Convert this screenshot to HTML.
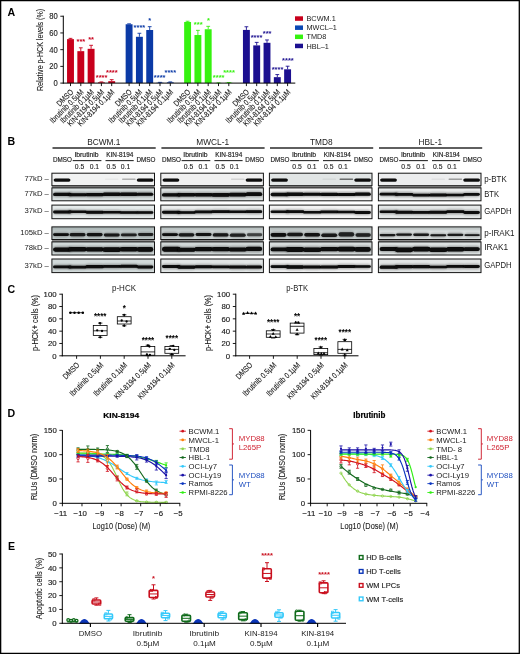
<!DOCTYPE html>
<html lang="en">
<head>
<meta charset="utf-8">
<title>Figure</title>
<style>
html,body{margin:0;padding:0;background:#fff;}
body{width:520px;height:654px;overflow:hidden;position:relative;font-family:"Liberation Sans",sans-serif;}
#fig{position:absolute;left:0;top:0;width:520px;height:654px;display:block;}
#fig text{font-family:"Liberation Sans",sans-serif;}
</style>
</head>
<body>
<svg id="fig" width="520" height="654" viewBox="0 0 520 654" fill="#1a1a1a">
<defs>
<filter id="b1" x="-5%" y="-50%" width="110%" height="200%"><feGaussianBlur stdDeviation="0.45"/></filter>
<filter id="b2" x="-5%" y="-50%" width="110%" height="200%"><feGaussianBlur stdDeviation="0.9"/></filter>
</defs>
<rect x="0" y="0" width="520" height="654" fill="#fff"/>
<g id="panelA">
<text x="7.6" y="15.7" font-size="10.6" fill="#000" font-weight="bold">A</text>
<line x1="70.5" y1="39.13" x2="70.5" y2="38.37" stroke="#c8001c" stroke-width="0.9"/>
<line x1="68.6" y1="38.37" x2="72.4" y2="38.37" stroke="#c8001c" stroke-width="0.9"/>
<rect x="67.05" y="39.13" width="6.9" height="43.97" fill="#c8001c"/>
<line x1="70.5" y1="83.1" x2="70.5" y2="86.1" stroke="#000" stroke-width="0.9"/>
<text transform="translate(73.8 92.6) rotate(-45) scale(0.83 1)" font-size="8" text-anchor="end" stroke="#1a1a1a" stroke-width="0.12">DMSO</text>
<line x1="80.8" y1="51.16" x2="80.8" y2="47.82" stroke="#c8001c" stroke-width="0.9"/>
<line x1="78.9" y1="47.82" x2="82.7" y2="47.82" stroke="#c8001c" stroke-width="0.9"/>
<rect x="77.35" y="51.16" width="6.9" height="31.94" fill="#c8001c"/>
<line x1="80.8" y1="83.1" x2="80.8" y2="86.1" stroke="#000" stroke-width="0.9"/>
<text transform="translate(84.1 92.6) rotate(-45) scale(0.83 1)" font-size="8" text-anchor="end" stroke="#1a1a1a" stroke-width="0.12">Ibrutinib 0.5µM</text>
<line x1="91.1" y1="48.82" x2="91.1" y2="45.31" stroke="#c8001c" stroke-width="0.9"/>
<line x1="89.2" y1="45.31" x2="93" y2="45.31" stroke="#c8001c" stroke-width="0.9"/>
<rect x="87.65" y="48.82" width="6.9" height="34.28" fill="#c8001c"/>
<line x1="91.1" y1="83.1" x2="91.1" y2="86.1" stroke="#000" stroke-width="0.9"/>
<text transform="translate(94.4 92.6) rotate(-45) scale(0.83 1)" font-size="8" text-anchor="end" stroke="#1a1a1a" stroke-width="0.12">Ibrutinib 0.1µM</text>
<line x1="101.4" y1="82.35" x2="101.4" y2="81.93" stroke="#c8001c" stroke-width="0.9"/>
<line x1="99.5" y1="81.93" x2="103.3" y2="81.93" stroke="#c8001c" stroke-width="0.9"/>
<rect x="97.95" y="82.35" width="6.9" height="0.75" fill="#c8001c"/>
<line x1="101.4" y1="83.1" x2="101.4" y2="86.1" stroke="#000" stroke-width="0.9"/>
<text transform="translate(104.7 92.6) rotate(-45) scale(0.83 1)" font-size="8" text-anchor="end" stroke="#1a1a1a" stroke-width="0.12">KIN-8194 0.5µM</text>
<line x1="111.7" y1="81.18" x2="111.7" y2="79.67" stroke="#c8001c" stroke-width="0.9"/>
<line x1="109.8" y1="79.67" x2="113.6" y2="79.67" stroke="#c8001c" stroke-width="0.9"/>
<rect x="108.25" y="81.18" width="6.9" height="1.92" fill="#c8001c"/>
<line x1="111.7" y1="83.1" x2="111.7" y2="86.1" stroke="#000" stroke-width="0.9"/>
<text transform="translate(115 92.6) rotate(-45) scale(0.83 1)" font-size="8" text-anchor="end" stroke="#1a1a1a" stroke-width="0.12">KIN-8194 0.1µM</text>
<text transform="translate(80.9 44.3) scale(0.94 1)" font-size="8" text-anchor="middle" fill="#c8001c" font-weight="bold">***</text>
<text transform="translate(91.1 41.5) scale(0.94 1)" font-size="8" text-anchor="middle" fill="#c8001c" font-weight="bold">**</text>
<text transform="translate(101.6 80.2) scale(0.94 1)" font-size="8" text-anchor="middle" fill="#c8001c" font-weight="bold">****</text>
<text transform="translate(111.8 74.9) scale(0.94 1)" font-size="8" text-anchor="middle" fill="#c8001c" font-weight="bold">****</text>
<line x1="129.1" y1="24.25" x2="129.1" y2="23.83" stroke="#0b3aa6" stroke-width="0.9"/>
<line x1="127.2" y1="23.83" x2="131" y2="23.83" stroke="#0b3aa6" stroke-width="0.9"/>
<rect x="125.65" y="24.25" width="6.9" height="58.85" fill="#0b3aa6"/>
<line x1="129.1" y1="83.1" x2="129.1" y2="86.1" stroke="#000" stroke-width="0.9"/>
<text transform="translate(132.4 92.6) rotate(-45) scale(0.83 1)" font-size="8" text-anchor="end" stroke="#1a1a1a" stroke-width="0.12">DMSO</text>
<line x1="139.4" y1="36.79" x2="139.4" y2="33.27" stroke="#0b3aa6" stroke-width="0.9"/>
<line x1="137.5" y1="33.27" x2="141.3" y2="33.27" stroke="#0b3aa6" stroke-width="0.9"/>
<rect x="135.95" y="36.79" width="6.9" height="46.31" fill="#0b3aa6"/>
<line x1="139.4" y1="83.1" x2="139.4" y2="86.1" stroke="#000" stroke-width="0.9"/>
<text transform="translate(142.7 92.6) rotate(-45) scale(0.83 1)" font-size="8" text-anchor="end" stroke="#1a1a1a" stroke-width="0.12">Ibrutinib 0.5µM</text>
<line x1="149.7" y1="30.01" x2="149.7" y2="26.67" stroke="#0b3aa6" stroke-width="0.9"/>
<line x1="147.8" y1="26.67" x2="151.6" y2="26.67" stroke="#0b3aa6" stroke-width="0.9"/>
<rect x="146.25" y="30.01" width="6.9" height="53.09" fill="#0b3aa6"/>
<line x1="149.7" y1="83.1" x2="149.7" y2="86.1" stroke="#000" stroke-width="0.9"/>
<text transform="translate(153 92.6) rotate(-45) scale(0.83 1)" font-size="8" text-anchor="end" stroke="#1a1a1a" stroke-width="0.12">Ibrutinib 0.1µM</text>
<line x1="160" y1="82.68" x2="160" y2="82.35" stroke="#0b3aa6" stroke-width="0.9"/>
<line x1="158.1" y1="82.35" x2="161.9" y2="82.35" stroke="#0b3aa6" stroke-width="0.9"/>
<rect x="156.55" y="82.68" width="6.9" height="0.42" fill="#0b3aa6"/>
<line x1="160" y1="83.1" x2="160" y2="86.1" stroke="#000" stroke-width="0.9"/>
<text transform="translate(163.3 92.6) rotate(-45) scale(0.83 1)" font-size="8" text-anchor="end" stroke="#1a1a1a" stroke-width="0.12">KIN-8194 0.5µM</text>
<line x1="170.3" y1="82.35" x2="170.3" y2="81.93" stroke="#0b3aa6" stroke-width="0.9"/>
<line x1="168.4" y1="81.93" x2="172.2" y2="81.93" stroke="#0b3aa6" stroke-width="0.9"/>
<rect x="166.85" y="82.35" width="6.9" height="0.75" fill="#0b3aa6"/>
<line x1="170.3" y1="83.1" x2="170.3" y2="86.1" stroke="#000" stroke-width="0.9"/>
<text transform="translate(173.6 92.6) rotate(-45) scale(0.83 1)" font-size="8" text-anchor="end" stroke="#1a1a1a" stroke-width="0.12">KIN-8194 0.1µM</text>
<text transform="translate(139.4 30) scale(0.94 1)" font-size="8" text-anchor="middle" fill="#0b3aa6" font-weight="bold">****</text>
<text transform="translate(149.8 23.4) scale(0.94 1)" font-size="8" text-anchor="middle" fill="#0b3aa6" font-weight="bold">*</text>
<text transform="translate(159.7 80.2) scale(0.94 1)" font-size="8" text-anchor="middle" fill="#0b3aa6" font-weight="bold">****</text>
<text transform="translate(170.3 74.9) scale(0.94 1)" font-size="8" text-anchor="middle" fill="#0b3aa6" font-weight="bold">****</text>
<line x1="187.6" y1="21.99" x2="187.6" y2="21.24" stroke="#35f20f" stroke-width="0.9"/>
<line x1="185.7" y1="21.24" x2="189.5" y2="21.24" stroke="#35f20f" stroke-width="0.9"/>
<rect x="184.15" y="21.99" width="6.9" height="61.11" fill="#35f20f"/>
<line x1="187.6" y1="83.1" x2="187.6" y2="86.1" stroke="#000" stroke-width="0.9"/>
<text transform="translate(190.9 92.6) rotate(-45) scale(0.83 1)" font-size="8" text-anchor="end" stroke="#1a1a1a" stroke-width="0.12">DMSO</text>
<line x1="197.9" y1="35.03" x2="197.9" y2="30.35" stroke="#35f20f" stroke-width="0.9"/>
<line x1="196" y1="30.35" x2="199.8" y2="30.35" stroke="#35f20f" stroke-width="0.9"/>
<rect x="194.45" y="35.03" width="6.9" height="48.07" fill="#35f20f"/>
<line x1="197.9" y1="83.1" x2="197.9" y2="86.1" stroke="#000" stroke-width="0.9"/>
<text transform="translate(201.2 92.6) rotate(-45) scale(0.83 1)" font-size="8" text-anchor="end" stroke="#1a1a1a" stroke-width="0.12">Ibrutinib 0.5µM</text>
<line x1="208.2" y1="29.26" x2="208.2" y2="26.34" stroke="#35f20f" stroke-width="0.9"/>
<line x1="206.3" y1="26.34" x2="210.1" y2="26.34" stroke="#35f20f" stroke-width="0.9"/>
<rect x="204.75" y="29.26" width="6.9" height="53.84" fill="#35f20f"/>
<line x1="208.2" y1="83.1" x2="208.2" y2="86.1" stroke="#000" stroke-width="0.9"/>
<text transform="translate(211.5 92.6) rotate(-45) scale(0.83 1)" font-size="8" text-anchor="end" stroke="#1a1a1a" stroke-width="0.12">Ibrutinib 0.1µM</text>
<line x1="218.5" y1="82.93" x2="218.5" y2="82.85" stroke="#35f20f" stroke-width="0.9"/>
<line x1="216.6" y1="82.85" x2="220.4" y2="82.85" stroke="#35f20f" stroke-width="0.9"/>
<rect x="215.05" y="82.93" width="6.9" height="0.17" fill="#35f20f"/>
<line x1="218.5" y1="83.1" x2="218.5" y2="86.1" stroke="#000" stroke-width="0.9"/>
<text transform="translate(221.8 92.6) rotate(-45) scale(0.83 1)" font-size="8" text-anchor="end" stroke="#1a1a1a" stroke-width="0.12">KIN-8194 0.5µM</text>
<line x1="228.8" y1="82.68" x2="228.8" y2="82.51" stroke="#35f20f" stroke-width="0.9"/>
<line x1="226.9" y1="82.51" x2="230.7" y2="82.51" stroke="#35f20f" stroke-width="0.9"/>
<rect x="225.35" y="82.68" width="6.9" height="0.42" fill="#35f20f"/>
<line x1="228.8" y1="83.1" x2="228.8" y2="86.1" stroke="#000" stroke-width="0.9"/>
<text transform="translate(232.1 92.6) rotate(-45) scale(0.83 1)" font-size="8" text-anchor="end" stroke="#1a1a1a" stroke-width="0.12">KIN-8194 0.1µM</text>
<text transform="translate(198.2 27.1) scale(0.94 1)" font-size="8" text-anchor="middle" fill="#35f20f" font-weight="bold">***</text>
<text transform="translate(208.4 23.4) scale(0.94 1)" font-size="8" text-anchor="middle" fill="#35f20f" font-weight="bold">*</text>
<text transform="translate(218.7 80.2) scale(0.94 1)" font-size="8" text-anchor="middle" fill="#35f20f" font-weight="bold">****</text>
<text transform="translate(229 74.9) scale(0.94 1)" font-size="8" text-anchor="middle" fill="#35f20f" font-weight="bold">****</text>
<line x1="246.4" y1="29.93" x2="246.4" y2="26.75" stroke="#1c1090" stroke-width="0.9"/>
<line x1="244.5" y1="26.75" x2="248.3" y2="26.75" stroke="#1c1090" stroke-width="0.9"/>
<rect x="242.95" y="29.93" width="6.9" height="53.17" fill="#1c1090"/>
<line x1="246.4" y1="83.1" x2="246.4" y2="86.1" stroke="#000" stroke-width="0.9"/>
<text transform="translate(249.7 92.6) rotate(-45) scale(0.83 1)" font-size="8" text-anchor="end" stroke="#1a1a1a" stroke-width="0.12">DMSO</text>
<line x1="256.7" y1="45.4" x2="256.7" y2="42.39" stroke="#1c1090" stroke-width="0.9"/>
<line x1="254.8" y1="42.39" x2="258.6" y2="42.39" stroke="#1c1090" stroke-width="0.9"/>
<rect x="253.25" y="45.4" width="6.9" height="37.7" fill="#1c1090"/>
<line x1="256.7" y1="83.1" x2="256.7" y2="86.1" stroke="#000" stroke-width="0.9"/>
<text transform="translate(260 92.6) rotate(-45) scale(0.83 1)" font-size="8" text-anchor="end" stroke="#1a1a1a" stroke-width="0.12">Ibrutinib 0.5µM</text>
<line x1="267" y1="42.8" x2="267" y2="39.96" stroke="#1c1090" stroke-width="0.9"/>
<line x1="265.1" y1="39.96" x2="268.9" y2="39.96" stroke="#1c1090" stroke-width="0.9"/>
<rect x="263.55" y="42.8" width="6.9" height="40.3" fill="#1c1090"/>
<line x1="267" y1="83.1" x2="267" y2="86.1" stroke="#000" stroke-width="0.9"/>
<text transform="translate(270.3 92.6) rotate(-45) scale(0.83 1)" font-size="8" text-anchor="end" stroke="#1a1a1a" stroke-width="0.12">Ibrutinib 0.1µM</text>
<line x1="277.3" y1="77.16" x2="277.3" y2="74.57" stroke="#1c1090" stroke-width="0.9"/>
<line x1="275.4" y1="74.57" x2="279.2" y2="74.57" stroke="#1c1090" stroke-width="0.9"/>
<rect x="273.85" y="77.16" width="6.9" height="5.94" fill="#1c1090"/>
<line x1="277.3" y1="83.1" x2="277.3" y2="86.1" stroke="#000" stroke-width="0.9"/>
<text transform="translate(280.6 92.6) rotate(-45) scale(0.83 1)" font-size="8" text-anchor="end" stroke="#1a1a1a" stroke-width="0.12">KIN-8194 0.5µM</text>
<line x1="287.6" y1="69.31" x2="287.6" y2="66.21" stroke="#1c1090" stroke-width="0.9"/>
<line x1="285.7" y1="66.21" x2="289.5" y2="66.21" stroke="#1c1090" stroke-width="0.9"/>
<rect x="284.15" y="69.31" width="6.9" height="13.79" fill="#1c1090"/>
<line x1="287.6" y1="83.1" x2="287.6" y2="86.1" stroke="#000" stroke-width="0.9"/>
<text transform="translate(290.9 92.6) rotate(-45) scale(0.83 1)" font-size="8" text-anchor="end" stroke="#1a1a1a" stroke-width="0.12">KIN-8194 0.1µM</text>
<text transform="translate(256.5 40.1) scale(0.94 1)" font-size="8" text-anchor="middle" fill="#1c1090" font-weight="bold">****</text>
<text transform="translate(267.1 35.8) scale(0.94 1)" font-size="8" text-anchor="middle" fill="#1c1090" font-weight="bold">***</text>
<text transform="translate(277.5 71.8) scale(0.94 1)" font-size="8" text-anchor="middle" fill="#1c1090" font-weight="bold">****</text>
<text transform="translate(287.9 63) scale(0.94 1)" font-size="8" text-anchor="middle" fill="#1c1090" font-weight="bold">****</text>
<line x1="63.3" y1="15.7" x2="63.3" y2="83.55" stroke="#000" stroke-width="1"/>
<line x1="62.8" y1="83.1" x2="295.3" y2="83.1" stroke="#000" stroke-width="1"/>
<line x1="60.3" y1="83.1" x2="63.3" y2="83.1" stroke="#000" stroke-width="0.9"/>
<text transform="translate(57.7 86.05) scale(0.93 1)" font-size="8.2" text-anchor="end" stroke="#1a1a1a" stroke-width="0.12">0</text>
<line x1="60.3" y1="66.38" x2="63.3" y2="66.38" stroke="#000" stroke-width="0.9"/>
<text transform="translate(57.7 69.33) scale(0.93 1)" font-size="8.2" text-anchor="end" stroke="#1a1a1a" stroke-width="0.12">20</text>
<line x1="60.3" y1="49.66" x2="63.3" y2="49.66" stroke="#000" stroke-width="0.9"/>
<text transform="translate(57.7 52.61) scale(0.93 1)" font-size="8.2" text-anchor="end" stroke="#1a1a1a" stroke-width="0.12">40</text>
<line x1="60.3" y1="32.94" x2="63.3" y2="32.94" stroke="#000" stroke-width="0.9"/>
<text transform="translate(57.7 35.89) scale(0.93 1)" font-size="8.2" text-anchor="end" stroke="#1a1a1a" stroke-width="0.12">60</text>
<line x1="60.3" y1="16.22" x2="63.3" y2="16.22" stroke="#000" stroke-width="0.9"/>
<text transform="translate(57.7 19.17) scale(0.93 1)" font-size="8.2" text-anchor="end" stroke="#1a1a1a" stroke-width="0.12">80</text>
<text transform="translate(42.8 50) rotate(-90) scale(0.75 1)" font-size="9.5" text-anchor="middle" stroke="#1a1a1a" stroke-width="0.1">Relative p-HCK levels (%)</text>
<rect x="295" y="16.3" width="8" height="4.5" fill="#c8001c"/>
<text x="306.5" y="21.15" font-size="7.3">BCWM.1</text>
<rect x="295" y="25.43" width="8" height="4.5" fill="#0a48b4"/>
<text x="306.5" y="30.28" font-size="7.3">MWCL–1</text>
<rect x="295" y="34.56" width="8" height="4.5" fill="#35f20f"/>
<text x="306.5" y="39.41" font-size="7.3">TMD8</text>
<rect x="295" y="43.69" width="8" height="4.5" fill="#1c1090"/>
<text x="306.5" y="48.54" font-size="7.3">HBL–1</text>
</g>
<g id="panelB">
<text x="7.4" y="144.9" font-size="10.6" fill="#000" font-weight="bold">B</text>
<text x="48.9" y="181.45" font-size="7.7" text-anchor="end">77kD –</text>
<text x="48.9" y="195.85" font-size="7.7" text-anchor="end">77kD –</text>
<text x="48.9" y="213.35" font-size="7.7" text-anchor="end">37kD –</text>
<text x="48.9" y="235.25" font-size="7.7" text-anchor="end">105kD –</text>
<text x="48.9" y="249.95" font-size="7.7" text-anchor="end">78kD –</text>
<text x="48.9" y="268.05" font-size="7.7" text-anchor="end">37kD –</text>
<text transform="translate(484.2 181.85) scale(0.97 1)" font-size="8.2">p-BTK</text>
<text transform="translate(484.2 196.85) scale(0.93 1)" font-size="8.2">BTK</text>
<text transform="translate(484.2 213.65) scale(0.94 1)" font-size="8.2">GAPDH</text>
<text transform="translate(484.2 235.85) scale(0.98 1)" font-size="8.2">p-IRAK1</text>
<text transform="translate(484.2 249.65) scale(1.01 1)" font-size="8.2">IRAK1</text>
<text transform="translate(484.2 267.55) scale(0.94 1)" font-size="8.2">GAPDH</text>
<text x="103.8" y="145" font-size="8.3" text-anchor="middle">BCWM.1</text>
<line x1="52.5" y1="148" x2="155.7" y2="148" stroke="#2a2a2a" stroke-width="1.3"/>
<text x="62.5" y="162.3" font-size="6.3" text-anchor="middle" stroke="#1a1a1a" stroke-width="0.15">DMSO</text>
<text x="145.9" y="162.3" font-size="6.3" text-anchor="middle" stroke="#1a1a1a" stroke-width="0.15">DMSO</text>
<text transform="translate(86.5 156.9) scale(1.08 1)" font-size="6.3" text-anchor="middle" stroke="#1a1a1a" stroke-width="0.15">Ibrutinib</text>
<text transform="translate(119.8 156.9) scale(1.02 1)" font-size="6.3" text-anchor="middle" stroke="#1a1a1a" stroke-width="0.15">KIN-8194</text>
<line x1="72.7" y1="160.6" x2="101.4" y2="160.6" stroke="#2a2a2a" stroke-width="1.1"/>
<line x1="105.5" y1="160.6" x2="133.7" y2="160.6" stroke="#2a2a2a" stroke-width="1.1"/>
<text x="79.6" y="168.6" font-size="6.8" text-anchor="middle" stroke="#1a1a1a" stroke-width="0.1">0.5</text>
<text x="94.4" y="168.6" font-size="6.8" text-anchor="middle" stroke="#1a1a1a" stroke-width="0.1">0.1</text>
<text x="111.3" y="168.6" font-size="6.8" text-anchor="middle" stroke="#1a1a1a" stroke-width="0.1">0.5</text>
<text x="125.5" y="168.6" font-size="6.8" text-anchor="middle" stroke="#1a1a1a" stroke-width="0.1">0.1</text>
<rect x="51.9" y="185.2" width="102.6" height="3.2" fill="#8a8a8a"/>
<rect x="51.9" y="239" width="102.6" height="3.4" fill="#8a8a8a"/>
<rect x="51.9" y="173.2" width="102.6" height="12.5" fill="#f1f2f2"/>
<rect x="53.67" y="178.4" width="16.76" height="3.4" rx="1.7" fill="#0a0a0a" opacity="1" filter="url(#b1)"/>
<rect x="104.91" y="178.6" width="13.68" height="1.4" rx="0.7" fill="#0a0a0a" opacity="0.04" filter="url(#b1)"/>
<rect x="122.01" y="178.6" width="13.68" height="1.4" rx="0.7" fill="#0a0a0a" opacity="0.28" filter="url(#b1)"/>
<rect x="136.77" y="178.4" width="16.76" height="3.4" rx="1.7" fill="#0a0a0a" opacity="1" filter="url(#b1)"/>
<rect x="51.9" y="173.2" width="102.6" height="12.5" fill="none" stroke="#141414" stroke-width="1"/>
<rect x="51.9" y="187.9" width="102.6" height="12.9" fill="#d8dfdf"/>
<rect x="53.1" y="192.04" width="18.47" height="4.8" rx="2.4" fill="#101010" opacity="0.4" filter="url(#b2)"/>
<rect x="53.1" y="192.84" width="18.47" height="3.2" rx="1.6" fill="#080808" opacity="1" filter="url(#b1)"/>
<rect x="68.32" y="192.37" width="18.47" height="4.73" rx="2.36" fill="#101010" opacity="0.4" filter="url(#b2)"/>
<rect x="68.32" y="193.17" width="18.47" height="3.13" rx="1.56" fill="#080808" opacity="1" filter="url(#b1)"/>
<rect x="85.42" y="192.14" width="18.47" height="4.99" rx="2.49" fill="#101010" opacity="0.4" filter="url(#b2)"/>
<rect x="85.42" y="192.94" width="18.47" height="3.39" rx="1.69" fill="#080808" opacity="1" filter="url(#b1)"/>
<rect x="102.52" y="191.64" width="18.47" height="5.12" rx="2.56" fill="#101010" opacity="0.4" filter="url(#b2)"/>
<rect x="102.52" y="192.44" width="18.47" height="3.52" rx="1.76" fill="#080808" opacity="1" filter="url(#b1)"/>
<rect x="119.62" y="191.66" width="18.47" height="5.05" rx="2.53" fill="#101010" opacity="0.4" filter="url(#b2)"/>
<rect x="119.62" y="192.46" width="18.47" height="3.45" rx="1.73" fill="#080808" opacity="1" filter="url(#b1)"/>
<rect x="136.72" y="191.84" width="16.58" height="4.74" rx="2.37" fill="#101010" opacity="0.4" filter="url(#b2)"/>
<rect x="136.72" y="192.64" width="16.58" height="3.14" rx="1.57" fill="#080808" opacity="1" filter="url(#b1)"/>
<rect x="51.9" y="187.9" width="102.6" height="12.9" fill="none" stroke="#141414" stroke-width="1"/>
<rect x="51.9" y="205.1" width="102.6" height="13.6" fill="#e6ebeb"/>
<rect x="53.1" y="209.81" width="18.47" height="4.45" rx="2.23" fill="#101010" opacity="0.4" filter="url(#b2)"/>
<rect x="53.1" y="210.61" width="18.47" height="2.85" rx="1.43" fill="#080808" opacity="1" filter="url(#b1)"/>
<rect x="68.32" y="209.74" width="18.47" height="4.05" rx="2.02" fill="#101010" opacity="0.4" filter="url(#b2)"/>
<rect x="68.32" y="210.54" width="18.47" height="2.45" rx="1.22" fill="#080808" opacity="1" filter="url(#b1)"/>
<rect x="85.42" y="209.95" width="18.47" height="4.53" rx="2.27" fill="#101010" opacity="0.4" filter="url(#b2)"/>
<rect x="85.42" y="210.75" width="18.47" height="2.93" rx="1.47" fill="#080808" opacity="1" filter="url(#b1)"/>
<rect x="102.52" y="210.09" width="18.47" height="4.16" rx="2.08" fill="#101010" opacity="0.4" filter="url(#b2)"/>
<rect x="102.52" y="210.89" width="18.47" height="2.56" rx="1.28" fill="#080808" opacity="1" filter="url(#b1)"/>
<rect x="119.62" y="210.57" width="18.47" height="3.93" rx="1.96" fill="#101010" opacity="0.4" filter="url(#b2)"/>
<rect x="119.62" y="211.37" width="18.47" height="2.33" rx="1.16" fill="#080808" opacity="1" filter="url(#b1)"/>
<rect x="136.72" y="210.38" width="16.58" height="4.09" rx="2.05" fill="#101010" opacity="0.4" filter="url(#b2)"/>
<rect x="136.72" y="211.18" width="16.58" height="2.49" rx="1.25" fill="#080808" opacity="1" filter="url(#b1)"/>
<rect x="51.9" y="205.1" width="102.6" height="13.6" fill="none" stroke="#141414" stroke-width="1"/>
<rect x="51.9" y="226.9" width="102.6" height="12.6" fill="#c2cccc"/>
<rect x="51.9" y="226.9" width="102.6" height="3" fill="#7a8686" opacity="0.35" filter="url(#b2)"/>
<rect x="53.1" y="232.42" width="15.9" height="4.33" rx="2.16" fill="#101010" opacity="0.39" filter="url(#b2)"/>
<rect x="53.1" y="233.22" width="15.9" height="2.73" rx="1.36" fill="#080808" opacity="0.98" filter="url(#b1)"/>
<rect x="69.6" y="232.29" width="15.9" height="4.87" rx="2.43" fill="#101010" opacity="0.36" filter="url(#b2)"/>
<rect x="69.6" y="233.09" width="15.9" height="3.27" rx="1.63" fill="#080808" opacity="0.9" filter="url(#b1)"/>
<rect x="86.7" y="232.27" width="15.9" height="4.69" rx="2.34" fill="#101010" opacity="0.38" filter="url(#b2)"/>
<rect x="86.7" y="233.07" width="15.9" height="3.09" rx="1.54" fill="#080808" opacity="0.95" filter="url(#b1)"/>
<rect x="103.8" y="232.76" width="15.9" height="4.52" rx="2.26" fill="#101010" opacity="0.36" filter="url(#b2)"/>
<rect x="103.8" y="233.56" width="15.9" height="2.92" rx="1.46" fill="#080808" opacity="0.9" filter="url(#b1)"/>
<rect x="120.9" y="232.8" width="15.9" height="4.28" rx="2.14" fill="#101010" opacity="0.34" filter="url(#b2)"/>
<rect x="120.9" y="233.6" width="15.9" height="2.68" rx="1.34" fill="#080808" opacity="0.85" filter="url(#b1)"/>
<rect x="138" y="232.31" width="15.3" height="4.39" rx="2.2" fill="#101010" opacity="0.34" filter="url(#b2)"/>
<rect x="138" y="233.11" width="15.3" height="2.79" rx="1.4" fill="#080808" opacity="0.85" filter="url(#b1)"/>
<rect x="51.9" y="226.9" width="102.6" height="12.6" fill="none" stroke="#141414" stroke-width="1"/>
<rect x="51.9" y="241.9" width="102.6" height="13.1" fill="#d2dada"/>
<rect x="53.1" y="246.61" width="18.47" height="5.91" rx="2.95" fill="#101010" opacity="0.4" filter="url(#b2)"/>
<rect x="53.1" y="247.41" width="18.47" height="4.31" rx="2.15" fill="#080808" opacity="1" filter="url(#b1)"/>
<rect x="68.32" y="246.19" width="18.47" height="6.08" rx="3.04" fill="#101010" opacity="0.4" filter="url(#b2)"/>
<rect x="68.32" y="246.99" width="18.47" height="4.48" rx="2.24" fill="#080808" opacity="1" filter="url(#b1)"/>
<rect x="85.42" y="246.48" width="18.47" height="5.76" rx="2.88" fill="#101010" opacity="0.4" filter="url(#b2)"/>
<rect x="85.42" y="247.28" width="18.47" height="4.16" rx="2.08" fill="#080808" opacity="1" filter="url(#b1)"/>
<rect x="102.52" y="246.56" width="18.47" height="6.21" rx="3.11" fill="#101010" opacity="0.4" filter="url(#b2)"/>
<rect x="102.52" y="247.36" width="18.47" height="4.61" rx="2.31" fill="#080808" opacity="1" filter="url(#b1)"/>
<rect x="119.62" y="246.13" width="18.47" height="6.07" rx="3.04" fill="#101010" opacity="0.4" filter="url(#b2)"/>
<rect x="119.62" y="246.93" width="18.47" height="4.47" rx="2.24" fill="#080808" opacity="1" filter="url(#b1)"/>
<rect x="136.72" y="246.22" width="16.58" height="6.41" rx="3.2" fill="#101010" opacity="0.4" filter="url(#b2)"/>
<rect x="136.72" y="247.02" width="16.58" height="4.81" rx="2.4" fill="#080808" opacity="1" filter="url(#b1)"/>
<rect x="51.9" y="241.9" width="102.6" height="13.1" fill="none" stroke="#141414" stroke-width="1"/>
<rect x="51.9" y="259" width="102.6" height="13.6" fill="#d2dada"/>
<rect x="53.1" y="264.72" width="18.47" height="4.37" rx="2.18" fill="#101010" opacity="0.4" filter="url(#b2)"/>
<rect x="53.1" y="265.52" width="18.47" height="2.77" rx="1.38" fill="#080808" opacity="1" filter="url(#b1)"/>
<rect x="68.32" y="265.01" width="18.47" height="4.24" rx="2.12" fill="#101010" opacity="0.4" filter="url(#b2)"/>
<rect x="68.32" y="265.81" width="18.47" height="2.64" rx="1.32" fill="#080808" opacity="1" filter="url(#b1)"/>
<rect x="85.42" y="264.27" width="18.47" height="4.72" rx="2.36" fill="#101010" opacity="0.4" filter="url(#b2)"/>
<rect x="85.42" y="265.07" width="18.47" height="3.12" rx="1.56" fill="#080808" opacity="1" filter="url(#b1)"/>
<rect x="102.52" y="264.13" width="18.47" height="4.52" rx="2.26" fill="#101010" opacity="0.4" filter="url(#b2)"/>
<rect x="102.52" y="264.93" width="18.47" height="2.92" rx="1.46" fill="#080808" opacity="1" filter="url(#b1)"/>
<rect x="119.62" y="263.96" width="18.47" height="4.65" rx="2.33" fill="#101010" opacity="0.4" filter="url(#b2)"/>
<rect x="119.62" y="264.76" width="18.47" height="3.05" rx="1.53" fill="#080808" opacity="1" filter="url(#b1)"/>
<rect x="136.72" y="264.65" width="16.58" height="4.58" rx="2.29" fill="#101010" opacity="0.4" filter="url(#b2)"/>
<rect x="136.72" y="265.45" width="16.58" height="2.98" rx="1.49" fill="#080808" opacity="1" filter="url(#b1)"/>
<rect x="51.9" y="259" width="102.6" height="13.6" fill="none" stroke="#141414" stroke-width="1"/>
<text x="212.7" y="145" font-size="8.3" text-anchor="middle">MWCL-1</text>
<line x1="161.4" y1="148" x2="264.6" y2="148" stroke="#2a2a2a" stroke-width="1.3"/>
<text x="171.4" y="162.3" font-size="6.3" text-anchor="middle" stroke="#1a1a1a" stroke-width="0.15">DMSO</text>
<text x="254.8" y="162.3" font-size="6.3" text-anchor="middle" stroke="#1a1a1a" stroke-width="0.15">DMSO</text>
<text transform="translate(195.4 156.9) scale(1.08 1)" font-size="6.3" text-anchor="middle" stroke="#1a1a1a" stroke-width="0.15">Ibrutinib</text>
<text transform="translate(228.7 156.9) scale(1.02 1)" font-size="6.3" text-anchor="middle" stroke="#1a1a1a" stroke-width="0.15">KIN-8194</text>
<line x1="181.6" y1="160.6" x2="210.3" y2="160.6" stroke="#2a2a2a" stroke-width="1.1"/>
<line x1="214.4" y1="160.6" x2="242.6" y2="160.6" stroke="#2a2a2a" stroke-width="1.1"/>
<text x="188.5" y="168.6" font-size="6.8" text-anchor="middle" stroke="#1a1a1a" stroke-width="0.1">0.5</text>
<text x="203.3" y="168.6" font-size="6.8" text-anchor="middle" stroke="#1a1a1a" stroke-width="0.1">0.1</text>
<text x="220.2" y="168.6" font-size="6.8" text-anchor="middle" stroke="#1a1a1a" stroke-width="0.1">0.5</text>
<text x="234.4" y="168.6" font-size="6.8" text-anchor="middle" stroke="#1a1a1a" stroke-width="0.1">0.1</text>
<rect x="160.8" y="185.2" width="102.6" height="3.2" fill="#8a8a8a"/>
<rect x="160.8" y="239" width="102.6" height="3.4" fill="#8a8a8a"/>
<rect x="160.8" y="173.2" width="102.6" height="12.5" fill="#f0f0f0"/>
<rect x="162.57" y="178.4" width="16.76" height="3.4" rx="1.7" fill="#0a0a0a" opacity="1" filter="url(#b1)"/>
<rect x="230.91" y="178.6" width="13.68" height="1.4" rx="0.7" fill="#0a0a0a" opacity="0.12" filter="url(#b1)"/>
<rect x="245.67" y="178.4" width="16.76" height="3.4" rx="1.7" fill="#0a0a0a" opacity="1" filter="url(#b1)"/>
<rect x="160.8" y="173.2" width="102.6" height="12.5" fill="none" stroke="#141414" stroke-width="1"/>
<rect x="160.8" y="187.9" width="102.6" height="12.9" fill="#dbe0e0"/>
<rect x="162" y="192.47" width="18.47" height="4.94" rx="2.47" fill="#101010" opacity="0.4" filter="url(#b2)"/>
<rect x="162" y="193.27" width="18.47" height="3.34" rx="1.67" fill="#080808" opacity="1" filter="url(#b1)"/>
<rect x="177.22" y="192.18" width="18.47" height="5.19" rx="2.6" fill="#101010" opacity="0.4" filter="url(#b2)"/>
<rect x="177.22" y="192.98" width="18.47" height="3.59" rx="1.8" fill="#080808" opacity="1" filter="url(#b1)"/>
<rect x="194.32" y="192.14" width="18.47" height="5.07" rx="2.54" fill="#101010" opacity="0.4" filter="url(#b2)"/>
<rect x="194.32" y="192.94" width="18.47" height="3.47" rx="1.74" fill="#080808" opacity="1" filter="url(#b1)"/>
<rect x="211.42" y="192.15" width="18.47" height="5.51" rx="2.76" fill="#101010" opacity="0.4" filter="url(#b2)"/>
<rect x="211.42" y="192.95" width="18.47" height="3.91" rx="1.96" fill="#080808" opacity="1" filter="url(#b1)"/>
<rect x="228.52" y="191.95" width="18.47" height="5.26" rx="2.63" fill="#101010" opacity="0.4" filter="url(#b2)"/>
<rect x="228.52" y="192.75" width="18.47" height="3.66" rx="1.83" fill="#080808" opacity="1" filter="url(#b1)"/>
<rect x="245.62" y="191.56" width="16.58" height="5.29" rx="2.65" fill="#101010" opacity="0.4" filter="url(#b2)"/>
<rect x="245.62" y="192.36" width="16.58" height="3.69" rx="1.85" fill="#080808" opacity="1" filter="url(#b1)"/>
<rect x="160.8" y="187.9" width="102.6" height="12.9" fill="none" stroke="#141414" stroke-width="1"/>
<rect x="160.8" y="205.1" width="102.6" height="13.6" fill="#eceeee"/>
<rect x="162" y="209.95" width="18.47" height="4.57" rx="2.28" fill="#101010" opacity="0.4" filter="url(#b2)"/>
<rect x="162" y="210.75" width="18.47" height="2.97" rx="1.48" fill="#080808" opacity="1" filter="url(#b1)"/>
<rect x="177.22" y="210.35" width="18.47" height="4.09" rx="2.04" fill="#101010" opacity="0.4" filter="url(#b2)"/>
<rect x="177.22" y="211.15" width="18.47" height="2.49" rx="1.24" fill="#080808" opacity="1" filter="url(#b1)"/>
<rect x="194.32" y="209.82" width="18.47" height="4.35" rx="2.17" fill="#101010" opacity="0.4" filter="url(#b2)"/>
<rect x="194.32" y="210.62" width="18.47" height="2.75" rx="1.37" fill="#080808" opacity="1" filter="url(#b1)"/>
<rect x="211.42" y="209.57" width="18.47" height="4.21" rx="2.1" fill="#101010" opacity="0.4" filter="url(#b2)"/>
<rect x="211.42" y="210.37" width="18.47" height="2.61" rx="1.3" fill="#080808" opacity="1" filter="url(#b1)"/>
<rect x="228.52" y="209.81" width="18.47" height="3.97" rx="1.99" fill="#101010" opacity="0.4" filter="url(#b2)"/>
<rect x="228.52" y="210.61" width="18.47" height="2.37" rx="1.19" fill="#080808" opacity="1" filter="url(#b1)"/>
<rect x="245.62" y="209.5" width="16.58" height="4.41" rx="2.21" fill="#101010" opacity="0.4" filter="url(#b2)"/>
<rect x="245.62" y="210.3" width="16.58" height="2.81" rx="1.41" fill="#080808" opacity="1" filter="url(#b1)"/>
<rect x="160.8" y="205.1" width="102.6" height="13.6" fill="none" stroke="#141414" stroke-width="1"/>
<rect x="160.8" y="226.9" width="102.6" height="12.6" fill="#d0d7d7"/>
<rect x="160.8" y="226.9" width="102.6" height="3" fill="#7a8686" opacity="0.35" filter="url(#b2)"/>
<rect x="162" y="232.35" width="15.9" height="4.43" rx="2.21" fill="#101010" opacity="0.39" filter="url(#b2)"/>
<rect x="162" y="233.15" width="15.9" height="2.83" rx="1.41" fill="#080808" opacity="0.98" filter="url(#b1)"/>
<rect x="178.5" y="232.35" width="15.9" height="4.91" rx="2.46" fill="#101010" opacity="0.36" filter="url(#b2)"/>
<rect x="178.5" y="233.15" width="15.9" height="3.31" rx="1.66" fill="#080808" opacity="0.9" filter="url(#b1)"/>
<rect x="195.6" y="232.23" width="15.9" height="4.58" rx="2.29" fill="#101010" opacity="0.38" filter="url(#b2)"/>
<rect x="195.6" y="233.03" width="15.9" height="2.98" rx="1.49" fill="#080808" opacity="0.95" filter="url(#b1)"/>
<rect x="212.7" y="232.48" width="15.9" height="4.92" rx="2.46" fill="#101010" opacity="0.36" filter="url(#b2)"/>
<rect x="212.7" y="233.28" width="15.9" height="3.32" rx="1.66" fill="#080808" opacity="0.9" filter="url(#b1)"/>
<rect x="229.8" y="232.74" width="15.9" height="4.9" rx="2.45" fill="#101010" opacity="0.34" filter="url(#b2)"/>
<rect x="229.8" y="233.54" width="15.9" height="3.3" rx="1.65" fill="#080808" opacity="0.85" filter="url(#b1)"/>
<rect x="246.9" y="232.42" width="15.3" height="4.56" rx="2.28" fill="#101010" opacity="0.26" filter="url(#b2)"/>
<rect x="246.9" y="233.22" width="15.3" height="2.96" rx="1.48" fill="#080808" opacity="0.65" filter="url(#b1)"/>
<rect x="160.8" y="226.9" width="102.6" height="12.6" fill="none" stroke="#141414" stroke-width="1"/>
<rect x="160.8" y="241.9" width="102.6" height="13.1" fill="#d2d8d8"/>
<rect x="162" y="246.06" width="18.47" height="6.42" rx="3.21" fill="#101010" opacity="0.4" filter="url(#b2)"/>
<rect x="162" y="246.86" width="18.47" height="4.82" rx="2.41" fill="#080808" opacity="1" filter="url(#b1)"/>
<rect x="177.22" y="247.01" width="18.47" height="5.59" rx="2.8" fill="#101010" opacity="0.4" filter="url(#b2)"/>
<rect x="177.22" y="247.81" width="18.47" height="3.99" rx="2" fill="#080808" opacity="1" filter="url(#b1)"/>
<rect x="194.32" y="246.27" width="18.47" height="5.69" rx="2.84" fill="#101010" opacity="0.4" filter="url(#b2)"/>
<rect x="194.32" y="247.07" width="18.47" height="4.09" rx="2.04" fill="#080808" opacity="1" filter="url(#b1)"/>
<rect x="211.42" y="246.17" width="18.47" height="5.97" rx="2.99" fill="#101010" opacity="0.4" filter="url(#b2)"/>
<rect x="211.42" y="246.97" width="18.47" height="4.37" rx="2.19" fill="#080808" opacity="1" filter="url(#b1)"/>
<rect x="228.52" y="246.62" width="18.47" height="5.72" rx="2.86" fill="#101010" opacity="0.4" filter="url(#b2)"/>
<rect x="228.52" y="247.42" width="18.47" height="4.12" rx="2.06" fill="#080808" opacity="1" filter="url(#b1)"/>
<rect x="245.62" y="246.01" width="16.58" height="5.9" rx="2.95" fill="#101010" opacity="0.4" filter="url(#b2)"/>
<rect x="245.62" y="246.81" width="16.58" height="4.3" rx="2.15" fill="#080808" opacity="1" filter="url(#b1)"/>
<rect x="160.8" y="241.9" width="102.6" height="13.1" fill="none" stroke="#141414" stroke-width="1"/>
<rect x="160.8" y="259" width="102.6" height="13.6" fill="#e2e6e6"/>
<rect x="162" y="264.29" width="18.47" height="4.57" rx="2.29" fill="#101010" opacity="0.4" filter="url(#b2)"/>
<rect x="162" y="265.09" width="18.47" height="2.97" rx="1.49" fill="#080808" opacity="1" filter="url(#b1)"/>
<rect x="177.22" y="264.77" width="18.47" height="4.67" rx="2.33" fill="#101010" opacity="0.4" filter="url(#b2)"/>
<rect x="177.22" y="265.57" width="18.47" height="3.07" rx="1.53" fill="#080808" opacity="1" filter="url(#b1)"/>
<rect x="194.32" y="264.41" width="18.47" height="4.61" rx="2.31" fill="#101010" opacity="0.4" filter="url(#b2)"/>
<rect x="194.32" y="265.21" width="18.47" height="3.01" rx="1.51" fill="#080808" opacity="1" filter="url(#b1)"/>
<rect x="211.42" y="264.76" width="18.47" height="4.19" rx="2.1" fill="#101010" opacity="0.4" filter="url(#b2)"/>
<rect x="211.42" y="265.56" width="18.47" height="2.59" rx="1.3" fill="#080808" opacity="1" filter="url(#b1)"/>
<rect x="228.52" y="264.69" width="18.47" height="4.73" rx="2.37" fill="#101010" opacity="0.4" filter="url(#b2)"/>
<rect x="228.52" y="265.49" width="18.47" height="3.13" rx="1.57" fill="#080808" opacity="1" filter="url(#b1)"/>
<rect x="245.62" y="264.66" width="16.58" height="4.75" rx="2.37" fill="#101010" opacity="0.4" filter="url(#b2)"/>
<rect x="245.62" y="265.46" width="16.58" height="3.15" rx="1.57" fill="#080808" opacity="1" filter="url(#b1)"/>
<rect x="160.8" y="259" width="102.6" height="13.6" fill="none" stroke="#141414" stroke-width="1"/>
<text x="321.3" y="145" font-size="8.3" text-anchor="middle">TMD8</text>
<line x1="270" y1="148" x2="373.2" y2="148" stroke="#2a2a2a" stroke-width="1.3"/>
<text x="280" y="162.3" font-size="6.3" text-anchor="middle" stroke="#1a1a1a" stroke-width="0.15">DMSO</text>
<text x="363.4" y="162.3" font-size="6.3" text-anchor="middle" stroke="#1a1a1a" stroke-width="0.15">DMSO</text>
<text transform="translate(304 156.9) scale(1.08 1)" font-size="6.3" text-anchor="middle" stroke="#1a1a1a" stroke-width="0.15">Ibrutinib</text>
<text transform="translate(337.3 156.9) scale(1.02 1)" font-size="6.3" text-anchor="middle" stroke="#1a1a1a" stroke-width="0.15">KIN-8194</text>
<line x1="290.2" y1="160.6" x2="318.9" y2="160.6" stroke="#2a2a2a" stroke-width="1.1"/>
<line x1="323" y1="160.6" x2="351.2" y2="160.6" stroke="#2a2a2a" stroke-width="1.1"/>
<text x="297.1" y="168.6" font-size="6.8" text-anchor="middle" stroke="#1a1a1a" stroke-width="0.1">0.5</text>
<text x="311.9" y="168.6" font-size="6.8" text-anchor="middle" stroke="#1a1a1a" stroke-width="0.1">0.1</text>
<text x="328.8" y="168.6" font-size="6.8" text-anchor="middle" stroke="#1a1a1a" stroke-width="0.1">0.5</text>
<text x="343" y="168.6" font-size="6.8" text-anchor="middle" stroke="#1a1a1a" stroke-width="0.1">0.1</text>
<rect x="269.4" y="185.2" width="102.6" height="3.2" fill="#8a8a8a"/>
<rect x="269.4" y="239" width="102.6" height="3.4" fill="#8a8a8a"/>
<rect x="269.4" y="173.2" width="102.6" height="12.5" fill="#e1e5e5"/>
<rect x="271.17" y="178.4" width="16.76" height="3.4" rx="1.7" fill="#0a0a0a" opacity="1" filter="url(#b1)"/>
<rect x="322.41" y="178.6" width="13.68" height="1.4" rx="0.7" fill="#0a0a0a" opacity="0.05" filter="url(#b1)"/>
<rect x="339.51" y="178.6" width="13.68" height="1.4" rx="0.7" fill="#0a0a0a" opacity="0.55" filter="url(#b1)"/>
<rect x="354.27" y="178.4" width="16.76" height="3.4" rx="1.7" fill="#0a0a0a" opacity="1" filter="url(#b1)"/>
<rect x="269.4" y="173.2" width="102.6" height="12.5" fill="none" stroke="#141414" stroke-width="1"/>
<rect x="269.4" y="187.9" width="102.6" height="12.9" fill="#f4f4f4"/>
<rect x="270.6" y="191.99" width="18.47" height="5.02" rx="2.51" fill="#101010" opacity="0.4" filter="url(#b2)"/>
<rect x="270.6" y="192.79" width="18.47" height="3.42" rx="1.71" fill="#080808" opacity="1" filter="url(#b1)"/>
<rect x="285.82" y="191.63" width="18.47" height="5.23" rx="2.62" fill="#101010" opacity="0.4" filter="url(#b2)"/>
<rect x="285.82" y="192.43" width="18.47" height="3.63" rx="1.82" fill="#080808" opacity="1" filter="url(#b1)"/>
<rect x="302.92" y="191.85" width="18.47" height="4.72" rx="2.36" fill="#101010" opacity="0.4" filter="url(#b2)"/>
<rect x="302.92" y="192.65" width="18.47" height="3.12" rx="1.56" fill="#080808" opacity="1" filter="url(#b1)"/>
<rect x="320.02" y="191.93" width="18.47" height="4.81" rx="2.4" fill="#101010" opacity="0.4" filter="url(#b2)"/>
<rect x="320.02" y="192.73" width="18.47" height="3.21" rx="1.6" fill="#080808" opacity="1" filter="url(#b1)"/>
<rect x="337.12" y="192.1" width="18.47" height="4.71" rx="2.35" fill="#101010" opacity="0.4" filter="url(#b2)"/>
<rect x="337.12" y="192.9" width="18.47" height="3.11" rx="1.55" fill="#080808" opacity="1" filter="url(#b1)"/>
<rect x="354.22" y="191.75" width="16.58" height="4.8" rx="2.4" fill="#101010" opacity="0.4" filter="url(#b2)"/>
<rect x="354.22" y="192.55" width="16.58" height="3.2" rx="1.6" fill="#080808" opacity="1" filter="url(#b1)"/>
<rect x="269.4" y="187.9" width="102.6" height="12.9" fill="none" stroke="#141414" stroke-width="1"/>
<rect x="269.4" y="205.1" width="102.6" height="13.6" fill="#f3f3f3"/>
<rect x="270.6" y="209.67" width="18.47" height="4.14" rx="2.07" fill="#101010" opacity="0.4" filter="url(#b2)"/>
<rect x="270.6" y="210.47" width="18.47" height="2.54" rx="1.27" fill="#080808" opacity="1" filter="url(#b1)"/>
<rect x="285.82" y="209.43" width="18.47" height="4.49" rx="2.24" fill="#101010" opacity="0.4" filter="url(#b2)"/>
<rect x="285.82" y="210.23" width="18.47" height="2.89" rx="1.44" fill="#080808" opacity="1" filter="url(#b1)"/>
<rect x="302.92" y="210.21" width="18.47" height="4" rx="2" fill="#101010" opacity="0.4" filter="url(#b2)"/>
<rect x="302.92" y="211.01" width="18.47" height="2.4" rx="1.2" fill="#080808" opacity="1" filter="url(#b1)"/>
<rect x="320.02" y="209.81" width="18.47" height="4.13" rx="2.06" fill="#101010" opacity="0.4" filter="url(#b2)"/>
<rect x="320.02" y="210.61" width="18.47" height="2.53" rx="1.26" fill="#080808" opacity="1" filter="url(#b1)"/>
<rect x="337.12" y="209.99" width="18.47" height="3.98" rx="1.99" fill="#101010" opacity="0.4" filter="url(#b2)"/>
<rect x="337.12" y="210.79" width="18.47" height="2.38" rx="1.19" fill="#080808" opacity="1" filter="url(#b1)"/>
<rect x="354.22" y="210.13" width="16.58" height="4.57" rx="2.28" fill="#101010" opacity="0.4" filter="url(#b2)"/>
<rect x="354.22" y="210.93" width="16.58" height="2.97" rx="1.48" fill="#080808" opacity="1" filter="url(#b1)"/>
<rect x="269.4" y="205.1" width="102.6" height="13.6" fill="none" stroke="#141414" stroke-width="1"/>
<rect x="269.4" y="226.9" width="102.6" height="12.6" fill="#ccd3d3"/>
<rect x="269.4" y="226.9" width="102.6" height="3" fill="#7a8686" opacity="0.35" filter="url(#b2)"/>
<rect x="270.6" y="232.19" width="15.9" height="5.36" rx="2.68" fill="#101010" opacity="0.39" filter="url(#b2)"/>
<rect x="270.6" y="232.99" width="15.9" height="3.76" rx="1.88" fill="#080808" opacity="0.98" filter="url(#b1)"/>
<rect x="287.1" y="232.03" width="15.9" height="4.99" rx="2.5" fill="#101010" opacity="0.36" filter="url(#b2)"/>
<rect x="287.1" y="232.83" width="15.9" height="3.39" rx="1.7" fill="#080808" opacity="0.9" filter="url(#b1)"/>
<rect x="304.2" y="232.18" width="15.9" height="5.15" rx="2.58" fill="#101010" opacity="0.38" filter="url(#b2)"/>
<rect x="304.2" y="232.98" width="15.9" height="3.55" rx="1.78" fill="#080808" opacity="0.95" filter="url(#b1)"/>
<rect x="321.3" y="232.67" width="15.9" height="5.05" rx="2.53" fill="#101010" opacity="0.36" filter="url(#b2)"/>
<rect x="321.3" y="233.47" width="15.9" height="3.45" rx="1.73" fill="#080808" opacity="0.9" filter="url(#b1)"/>
<rect x="338.4" y="231.56" width="15.9" height="5.82" rx="2.91" fill="#101010" opacity="0.34" filter="url(#b2)"/>
<rect x="338.4" y="232.36" width="15.9" height="4.22" rx="2.11" fill="#080808" opacity="0.85" filter="url(#b1)"/>
<rect x="355.5" y="232.41" width="15.3" height="5.04" rx="2.52" fill="#101010" opacity="0.34" filter="url(#b2)"/>
<rect x="355.5" y="233.21" width="15.3" height="3.44" rx="1.72" fill="#080808" opacity="0.85" filter="url(#b1)"/>
<rect x="269.4" y="226.9" width="102.6" height="12.6" fill="none" stroke="#141414" stroke-width="1"/>
<rect x="269.4" y="241.9" width="102.6" height="13.1" fill="#d8dddd"/>
<rect x="270.6" y="246.71" width="18.47" height="5.46" rx="2.73" fill="#101010" opacity="0.4" filter="url(#b2)"/>
<rect x="270.6" y="247.51" width="18.47" height="3.86" rx="1.93" fill="#080808" opacity="1" filter="url(#b1)"/>
<rect x="285.82" y="246.16" width="18.47" height="6.53" rx="3.26" fill="#101010" opacity="0.4" filter="url(#b2)"/>
<rect x="285.82" y="246.96" width="18.47" height="4.93" rx="2.46" fill="#080808" opacity="1" filter="url(#b1)"/>
<rect x="302.92" y="246.62" width="18.47" height="6.21" rx="3.1" fill="#101010" opacity="0.4" filter="url(#b2)"/>
<rect x="302.92" y="247.42" width="18.47" height="4.61" rx="2.3" fill="#080808" opacity="1" filter="url(#b1)"/>
<rect x="320.02" y="246.27" width="18.47" height="5.84" rx="2.92" fill="#101010" opacity="0.4" filter="url(#b2)"/>
<rect x="320.02" y="247.07" width="18.47" height="4.24" rx="2.12" fill="#080808" opacity="1" filter="url(#b1)"/>
<rect x="337.12" y="245.95" width="18.47" height="6.29" rx="3.15" fill="#101010" opacity="0.4" filter="url(#b2)"/>
<rect x="337.12" y="246.75" width="18.47" height="4.69" rx="2.35" fill="#080808" opacity="1" filter="url(#b1)"/>
<rect x="354.22" y="246.28" width="16.58" height="6.3" rx="3.15" fill="#101010" opacity="0.4" filter="url(#b2)"/>
<rect x="354.22" y="247.08" width="16.58" height="4.7" rx="2.35" fill="#080808" opacity="1" filter="url(#b1)"/>
<rect x="269.4" y="241.9" width="102.6" height="13.1" fill="none" stroke="#141414" stroke-width="1"/>
<rect x="269.4" y="259" width="102.6" height="13.6" fill="#eeefef"/>
<rect x="270.6" y="264.39" width="18.47" height="4.32" rx="2.16" fill="#101010" opacity="0.4" filter="url(#b2)"/>
<rect x="270.6" y="265.19" width="18.47" height="2.72" rx="1.36" fill="#080808" opacity="1" filter="url(#b1)"/>
<rect x="285.82" y="264.54" width="18.47" height="4.89" rx="2.44" fill="#101010" opacity="0.4" filter="url(#b2)"/>
<rect x="285.82" y="265.34" width="18.47" height="3.29" rx="1.64" fill="#080808" opacity="1" filter="url(#b1)"/>
<rect x="302.92" y="264.64" width="18.47" height="4.75" rx="2.38" fill="#101010" opacity="0.4" filter="url(#b2)"/>
<rect x="302.92" y="265.44" width="18.47" height="3.15" rx="1.58" fill="#080808" opacity="1" filter="url(#b1)"/>
<rect x="320.02" y="264.63" width="18.47" height="4.7" rx="2.35" fill="#101010" opacity="0.4" filter="url(#b2)"/>
<rect x="320.02" y="265.43" width="18.47" height="3.1" rx="1.55" fill="#080808" opacity="1" filter="url(#b1)"/>
<rect x="337.12" y="264.18" width="18.47" height="4.54" rx="2.27" fill="#101010" opacity="0.4" filter="url(#b2)"/>
<rect x="337.12" y="264.98" width="18.47" height="2.94" rx="1.47" fill="#080808" opacity="1" filter="url(#b1)"/>
<rect x="354.22" y="264.48" width="16.58" height="4.17" rx="2.09" fill="#101010" opacity="0.4" filter="url(#b2)"/>
<rect x="354.22" y="265.28" width="16.58" height="2.57" rx="1.29" fill="#080808" opacity="1" filter="url(#b1)"/>
<rect x="269.4" y="259" width="102.6" height="13.6" fill="none" stroke="#141414" stroke-width="1"/>
<text x="430.3" y="145" font-size="8.3" text-anchor="middle">HBL-1</text>
<line x1="379" y1="148" x2="482.2" y2="148" stroke="#2a2a2a" stroke-width="1.3"/>
<text x="389" y="162.3" font-size="6.3" text-anchor="middle" stroke="#1a1a1a" stroke-width="0.15">DMSO</text>
<text x="472.4" y="162.3" font-size="6.3" text-anchor="middle" stroke="#1a1a1a" stroke-width="0.15">DMSO</text>
<text transform="translate(413 156.9) scale(1.08 1)" font-size="6.3" text-anchor="middle" stroke="#1a1a1a" stroke-width="0.15">Ibrutinib</text>
<text transform="translate(446.3 156.9) scale(1.02 1)" font-size="6.3" text-anchor="middle" stroke="#1a1a1a" stroke-width="0.15">KIN-8194</text>
<line x1="399.2" y1="160.6" x2="427.9" y2="160.6" stroke="#2a2a2a" stroke-width="1.1"/>
<line x1="432" y1="160.6" x2="460.2" y2="160.6" stroke="#2a2a2a" stroke-width="1.1"/>
<text x="406.1" y="168.6" font-size="6.8" text-anchor="middle" stroke="#1a1a1a" stroke-width="0.1">0.5</text>
<text x="420.9" y="168.6" font-size="6.8" text-anchor="middle" stroke="#1a1a1a" stroke-width="0.1">0.1</text>
<text x="437.8" y="168.6" font-size="6.8" text-anchor="middle" stroke="#1a1a1a" stroke-width="0.1">0.5</text>
<text x="452" y="168.6" font-size="6.8" text-anchor="middle" stroke="#1a1a1a" stroke-width="0.1">0.1</text>
<rect x="378.4" y="185.2" width="102.6" height="3.2" fill="#8a8a8a"/>
<rect x="378.4" y="239" width="102.6" height="3.4" fill="#8a8a8a"/>
<rect x="378.4" y="173.2" width="102.6" height="12.5" fill="#ecedee"/>
<rect x="380.17" y="178.4" width="16.76" height="3.4" rx="1.7" fill="#0a0a0a" opacity="1" filter="url(#b1)"/>
<rect x="431.41" y="178.6" width="13.68" height="1.4" rx="0.7" fill="#0a0a0a" opacity="0.05" filter="url(#b1)"/>
<rect x="448.51" y="178.6" width="13.68" height="1.4" rx="0.7" fill="#0a0a0a" opacity="0.35" filter="url(#b1)"/>
<rect x="463.27" y="178.4" width="16.76" height="3.4" rx="1.7" fill="#0a0a0a" opacity="1" filter="url(#b1)"/>
<rect x="378.4" y="173.2" width="102.6" height="12.5" fill="none" stroke="#141414" stroke-width="1"/>
<rect x="378.4" y="187.9" width="102.6" height="12.9" fill="#eaecec"/>
<rect x="379.6" y="192.05" width="18.47" height="4.25" rx="2.12" fill="#101010" opacity="0.4" filter="url(#b2)"/>
<rect x="379.6" y="192.85" width="18.47" height="2.65" rx="1.32" fill="#080808" opacity="1" filter="url(#b1)"/>
<rect x="394.82" y="192.11" width="18.47" height="4.55" rx="2.27" fill="#101010" opacity="0.4" filter="url(#b2)"/>
<rect x="394.82" y="192.91" width="18.47" height="2.95" rx="1.47" fill="#080808" opacity="1" filter="url(#b1)"/>
<rect x="411.92" y="192.83" width="18.47" height="4.37" rx="2.19" fill="#101010" opacity="0.4" filter="url(#b2)"/>
<rect x="411.92" y="193.63" width="18.47" height="2.77" rx="1.39" fill="#080808" opacity="1" filter="url(#b1)"/>
<rect x="429.02" y="192.61" width="18.47" height="4.76" rx="2.38" fill="#101010" opacity="0.4" filter="url(#b2)"/>
<rect x="429.02" y="193.41" width="18.47" height="3.16" rx="1.58" fill="#080808" opacity="1" filter="url(#b1)"/>
<rect x="446.12" y="192.85" width="18.47" height="4.31" rx="2.16" fill="#101010" opacity="0.4" filter="url(#b2)"/>
<rect x="446.12" y="193.65" width="18.47" height="2.71" rx="1.36" fill="#080808" opacity="1" filter="url(#b1)"/>
<rect x="463.22" y="192.24" width="16.58" height="4.21" rx="2.11" fill="#101010" opacity="0.4" filter="url(#b2)"/>
<rect x="463.22" y="193.04" width="16.58" height="2.61" rx="1.31" fill="#080808" opacity="1" filter="url(#b1)"/>
<rect x="378.4" y="187.9" width="102.6" height="12.9" fill="none" stroke="#141414" stroke-width="1"/>
<rect x="378.4" y="205.1" width="102.6" height="13.6" fill="#e4e7e7"/>
<rect x="379.6" y="209.81" width="18.47" height="4.03" rx="2.02" fill="#101010" opacity="0.4" filter="url(#b2)"/>
<rect x="379.6" y="210.61" width="18.47" height="2.43" rx="1.22" fill="#080808" opacity="1" filter="url(#b1)"/>
<rect x="394.82" y="209.96" width="18.47" height="4.5" rx="2.25" fill="#101010" opacity="0.4" filter="url(#b2)"/>
<rect x="394.82" y="210.76" width="18.47" height="2.9" rx="1.45" fill="#080808" opacity="1" filter="url(#b1)"/>
<rect x="411.92" y="210.3" width="18.47" height="4.22" rx="2.11" fill="#101010" opacity="0.4" filter="url(#b2)"/>
<rect x="411.92" y="211.1" width="18.47" height="2.62" rx="1.31" fill="#080808" opacity="1" filter="url(#b1)"/>
<rect x="429.02" y="210.02" width="18.47" height="4.43" rx="2.22" fill="#101010" opacity="0.4" filter="url(#b2)"/>
<rect x="429.02" y="210.82" width="18.47" height="2.83" rx="1.42" fill="#080808" opacity="1" filter="url(#b1)"/>
<rect x="446.12" y="209.56" width="18.47" height="4.34" rx="2.17" fill="#101010" opacity="0.4" filter="url(#b2)"/>
<rect x="446.12" y="210.36" width="18.47" height="2.74" rx="1.37" fill="#080808" opacity="1" filter="url(#b1)"/>
<rect x="463.22" y="210.26" width="16.58" height="4.42" rx="2.21" fill="#101010" opacity="0.4" filter="url(#b2)"/>
<rect x="463.22" y="211.06" width="16.58" height="2.82" rx="1.41" fill="#080808" opacity="1" filter="url(#b1)"/>
<rect x="378.4" y="205.1" width="102.6" height="13.6" fill="none" stroke="#141414" stroke-width="1"/>
<rect x="378.4" y="226.9" width="102.6" height="12.6" fill="#dce1e1"/>
<rect x="378.4" y="226.9" width="102.6" height="3" fill="#7a8686" opacity="0.35" filter="url(#b2)"/>
<rect x="379.6" y="233.27" width="15.9" height="3.7" rx="1.85" fill="#101010" opacity="0.36" filter="url(#b2)"/>
<rect x="379.6" y="234.07" width="15.9" height="2.1" rx="1.05" fill="#080808" opacity="0.9" filter="url(#b1)"/>
<rect x="396.1" y="232.67" width="15.9" height="3.87" rx="1.94" fill="#101010" opacity="0.36" filter="url(#b2)"/>
<rect x="396.1" y="233.47" width="15.9" height="2.27" rx="1.14" fill="#080808" opacity="0.9" filter="url(#b1)"/>
<rect x="413.2" y="232.81" width="15.9" height="3.88" rx="1.94" fill="#101010" opacity="0.36" filter="url(#b2)"/>
<rect x="413.2" y="233.61" width="15.9" height="2.28" rx="1.14" fill="#080808" opacity="0.9" filter="url(#b1)"/>
<rect x="430.3" y="233.49" width="15.9" height="3.66" rx="1.83" fill="#101010" opacity="0.36" filter="url(#b2)"/>
<rect x="430.3" y="234.29" width="15.9" height="2.06" rx="1.03" fill="#080808" opacity="0.9" filter="url(#b1)"/>
<rect x="447.4" y="232.83" width="15.9" height="3.96" rx="1.98" fill="#101010" opacity="0.36" filter="url(#b2)"/>
<rect x="447.4" y="233.63" width="15.9" height="2.36" rx="1.18" fill="#080808" opacity="0.9" filter="url(#b1)"/>
<rect x="464.5" y="233.33" width="15.3" height="3.54" rx="1.77" fill="#101010" opacity="0.36" filter="url(#b2)"/>
<rect x="464.5" y="234.13" width="15.3" height="1.94" rx="0.97" fill="#080808" opacity="0.9" filter="url(#b1)"/>
<rect x="378.4" y="226.9" width="102.6" height="12.6" fill="none" stroke="#141414" stroke-width="1"/>
<rect x="378.4" y="241.9" width="102.6" height="13.1" fill="#dde2e2"/>
<rect x="379.6" y="246.27" width="18.47" height="5.6" rx="2.8" fill="#101010" opacity="0.4" filter="url(#b2)"/>
<rect x="379.6" y="247.07" width="18.47" height="4" rx="2" fill="#080808" opacity="1" filter="url(#b1)"/>
<rect x="394.82" y="246.6" width="18.47" height="6.33" rx="3.17" fill="#101010" opacity="0.4" filter="url(#b2)"/>
<rect x="394.82" y="247.4" width="18.47" height="4.73" rx="2.37" fill="#080808" opacity="1" filter="url(#b1)"/>
<rect x="411.92" y="245.9" width="18.47" height="6.35" rx="3.18" fill="#101010" opacity="0.4" filter="url(#b2)"/>
<rect x="411.92" y="246.7" width="18.47" height="4.75" rx="2.38" fill="#080808" opacity="1" filter="url(#b1)"/>
<rect x="429.02" y="246.75" width="18.47" height="6.16" rx="3.08" fill="#101010" opacity="0.4" filter="url(#b2)"/>
<rect x="429.02" y="247.55" width="18.47" height="4.56" rx="2.28" fill="#080808" opacity="1" filter="url(#b1)"/>
<rect x="446.12" y="246.24" width="18.47" height="6.04" rx="3.02" fill="#101010" opacity="0.4" filter="url(#b2)"/>
<rect x="446.12" y="247.04" width="18.47" height="4.44" rx="2.22" fill="#080808" opacity="1" filter="url(#b1)"/>
<rect x="463.22" y="246.35" width="16.58" height="5.44" rx="2.72" fill="#101010" opacity="0.4" filter="url(#b2)"/>
<rect x="463.22" y="247.15" width="16.58" height="3.84" rx="1.92" fill="#080808" opacity="1" filter="url(#b1)"/>
<rect x="378.4" y="241.9" width="102.6" height="13.1" fill="none" stroke="#141414" stroke-width="1"/>
<rect x="378.4" y="259" width="102.6" height="13.6" fill="#e2e5e5"/>
<rect x="379.6" y="264.81" width="18.47" height="4.64" rx="2.32" fill="#101010" opacity="0.4" filter="url(#b2)"/>
<rect x="379.6" y="265.61" width="18.47" height="3.04" rx="1.52" fill="#080808" opacity="1" filter="url(#b1)"/>
<rect x="394.82" y="264.3" width="18.47" height="4.85" rx="2.43" fill="#101010" opacity="0.4" filter="url(#b2)"/>
<rect x="394.82" y="265.1" width="18.47" height="3.25" rx="1.63" fill="#080808" opacity="1" filter="url(#b1)"/>
<rect x="411.92" y="264.24" width="18.47" height="4.8" rx="2.4" fill="#101010" opacity="0.4" filter="url(#b2)"/>
<rect x="411.92" y="265.04" width="18.47" height="3.2" rx="1.6" fill="#080808" opacity="1" filter="url(#b1)"/>
<rect x="429.02" y="264.84" width="18.47" height="4.31" rx="2.15" fill="#101010" opacity="0.4" filter="url(#b2)"/>
<rect x="429.02" y="265.64" width="18.47" height="2.71" rx="1.35" fill="#080808" opacity="1" filter="url(#b1)"/>
<rect x="446.12" y="264.29" width="18.47" height="4.37" rx="2.18" fill="#101010" opacity="0.4" filter="url(#b2)"/>
<rect x="446.12" y="265.09" width="18.47" height="2.77" rx="1.38" fill="#080808" opacity="1" filter="url(#b1)"/>
<rect x="463.22" y="264.17" width="16.58" height="4.59" rx="2.29" fill="#101010" opacity="0.4" filter="url(#b2)"/>
<rect x="463.22" y="264.97" width="16.58" height="2.99" rx="1.49" fill="#080808" opacity="1" filter="url(#b1)"/>
<rect x="378.4" y="259" width="102.6" height="13.6" fill="none" stroke="#141414" stroke-width="1"/>
</g>
<g id="panelC">
<text x="7.6" y="293.1" font-size="10.6" fill="#000" font-weight="bold">C</text>
<text transform="translate(124 291.3) scale(0.94 1)" font-size="8.5" text-anchor="middle">p-HCK</text>
<line x1="69.2" y1="312.7" x2="84" y2="312.7" stroke="#000" stroke-width="0.8"/>
<circle cx="70.4" cy="312.7" r="1.25" fill="#000"/>
<circle cx="74.5" cy="312.7" r="1.25" fill="#000"/>
<circle cx="78.7" cy="312.7" r="1.25" fill="#000"/>
<circle cx="82.8" cy="312.7" r="1.25" fill="#000"/>
<line x1="100.2" y1="323.1" x2="100.2" y2="325.4" stroke="#000" stroke-width="0.8"/>
<line x1="100.2" y1="335.4" x2="100.2" y2="337.3" stroke="#000" stroke-width="0.8"/>
<line x1="98" y1="323.1" x2="102.4" y2="323.1" stroke="#000" stroke-width="0.8"/>
<line x1="98" y1="337.3" x2="102.4" y2="337.3" stroke="#000" stroke-width="0.8"/>
<rect x="93.3" y="325.4" width="13.8" height="10" fill="#fff" stroke="#000" stroke-width="0.8"/>
<line x1="93.3" y1="330.8" x2="107.1" y2="330.8" stroke="#000" stroke-width="0.8"/>
<circle cx="100" cy="323.1" r="1.15" fill="#000"/>
<circle cx="97.2" cy="330.3" r="1.15" fill="#000"/>
<circle cx="102" cy="331" r="1.15" fill="#000"/>
<circle cx="100.2" cy="337.3" r="1.15" fill="#000"/>
<text transform="translate(100.2 319.1) scale(0.94 1)" font-size="8.5" text-anchor="middle" fill="#000" font-weight="bold">****</text>
<line x1="124.2" y1="314.8" x2="124.2" y2="316.7" stroke="#000" stroke-width="0.8"/>
<line x1="124.2" y1="324" x2="124.2" y2="325.8" stroke="#000" stroke-width="0.8"/>
<line x1="122" y1="314.8" x2="126.4" y2="314.8" stroke="#000" stroke-width="0.8"/>
<line x1="122" y1="325.8" x2="126.4" y2="325.8" stroke="#000" stroke-width="0.8"/>
<rect x="117.3" y="316.7" width="13.8" height="7.3" fill="#fff" stroke="#000" stroke-width="0.8"/>
<line x1="117.3" y1="321" x2="131.1" y2="321" stroke="#000" stroke-width="0.8"/>
<circle cx="124.2" cy="314.8" r="1.15" fill="#000"/>
<circle cx="121.7" cy="320.5" r="1.15" fill="#000"/>
<circle cx="126.6" cy="321.5" r="1.15" fill="#000"/>
<circle cx="124.2" cy="325.8" r="1.15" fill="#000"/>
<text transform="translate(124.2 311.4) scale(0.94 1)" font-size="8.5" text-anchor="middle" fill="#000" font-weight="bold">*</text>
<line x1="147.9" y1="345.2" x2="147.9" y2="346.5" stroke="#000" stroke-width="0.8"/>
<line x1="147.9" y1="355.2" x2="147.9" y2="355.6" stroke="#000" stroke-width="0.8"/>
<line x1="145.7" y1="345.2" x2="150.1" y2="345.2" stroke="#000" stroke-width="0.8"/>
<line x1="145.7" y1="355.6" x2="150.1" y2="355.6" stroke="#000" stroke-width="0.8"/>
<rect x="141" y="346.5" width="13.8" height="8.7" fill="#fff" stroke="#000" stroke-width="0.8"/>
<line x1="141" y1="351.9" x2="154.8" y2="351.9" stroke="#000" stroke-width="0.8"/>
<circle cx="147.9" cy="345.3" r="1.15" fill="#000"/>
<circle cx="149.4" cy="346.5" r="1.15" fill="#000"/>
<circle cx="146.9" cy="354.5" r="1.15" fill="#000"/>
<circle cx="149.9" cy="355" r="1.15" fill="#000"/>
<text transform="translate(147.9 342.8) scale(0.94 1)" font-size="8.5" text-anchor="middle" fill="#000" font-weight="bold">****</text>
<line x1="171.8" y1="345.6" x2="171.8" y2="346.5" stroke="#000" stroke-width="0.8"/>
<line x1="171.8" y1="353.3" x2="171.8" y2="354.6" stroke="#000" stroke-width="0.8"/>
<line x1="169.6" y1="345.6" x2="174" y2="345.6" stroke="#000" stroke-width="0.8"/>
<line x1="169.6" y1="354.6" x2="174" y2="354.6" stroke="#000" stroke-width="0.8"/>
<rect x="164.9" y="346.5" width="13.8" height="6.8" fill="#fff" stroke="#000" stroke-width="0.8"/>
<line x1="164.9" y1="349.4" x2="178.7" y2="349.4" stroke="#000" stroke-width="0.8"/>
<circle cx="173.3" cy="345.8" r="1.15" fill="#000"/>
<circle cx="169.8" cy="348.8" r="1.15" fill="#000"/>
<circle cx="174.3" cy="350" r="1.15" fill="#000"/>
<circle cx="171.8" cy="354.4" r="1.15" fill="#000"/>
<text transform="translate(171.8 341.2) scale(0.94 1)" font-size="8.5" text-anchor="middle" fill="#000" font-weight="bold">****</text>
<line x1="62.3" y1="293.7" x2="62.3" y2="356.25" stroke="#000" stroke-width="1"/>
<line x1="61.8" y1="355.8" x2="185.6" y2="355.8" stroke="#000" stroke-width="1"/>
<line x1="59.3" y1="355.8" x2="62.3" y2="355.8" stroke="#000" stroke-width="0.9"/>
<text x="56.6" y="358.6" font-size="7.8" text-anchor="end" stroke="#1a1a1a" stroke-width="0.15">0</text>
<line x1="59.3" y1="343.48" x2="62.3" y2="343.48" stroke="#000" stroke-width="0.9"/>
<text x="56.6" y="346.28" font-size="7.8" text-anchor="end" stroke="#1a1a1a" stroke-width="0.15">20</text>
<line x1="59.3" y1="331.16" x2="62.3" y2="331.16" stroke="#000" stroke-width="0.9"/>
<text x="56.6" y="333.96" font-size="7.8" text-anchor="end" stroke="#1a1a1a" stroke-width="0.15">40</text>
<line x1="59.3" y1="318.84" x2="62.3" y2="318.84" stroke="#000" stroke-width="0.9"/>
<text x="56.6" y="321.64" font-size="7.8" text-anchor="end" stroke="#1a1a1a" stroke-width="0.15">60</text>
<line x1="59.3" y1="306.52" x2="62.3" y2="306.52" stroke="#000" stroke-width="0.9"/>
<text x="56.6" y="309.32" font-size="7.8" text-anchor="end" stroke="#1a1a1a" stroke-width="0.15">80</text>
<line x1="59.3" y1="294.2" x2="62.3" y2="294.2" stroke="#000" stroke-width="0.9"/>
<text x="56.6" y="297" font-size="7.8" text-anchor="end" stroke="#1a1a1a" stroke-width="0.15">100</text>
<line x1="76.6" y1="355.8" x2="76.6" y2="358.8" stroke="#000" stroke-width="0.9"/>
<text transform="translate(80 365.6) rotate(-45) scale(0.83 1)" font-size="8" text-anchor="end" stroke="#1a1a1a" stroke-width="0.12">DMSO</text>
<line x1="100.4" y1="355.8" x2="100.4" y2="358.8" stroke="#000" stroke-width="0.9"/>
<text transform="translate(103.8 365.6) rotate(-45) scale(0.83 1)" font-size="8" text-anchor="end" stroke="#1a1a1a" stroke-width="0.12">Ibrutinib 0.5µM</text>
<line x1="124.2" y1="355.8" x2="124.2" y2="358.8" stroke="#000" stroke-width="0.9"/>
<text transform="translate(127.6 365.6) rotate(-45) scale(0.83 1)" font-size="8" text-anchor="end" stroke="#1a1a1a" stroke-width="0.12">Ibrutinib 0.1µM</text>
<line x1="148" y1="355.8" x2="148" y2="358.8" stroke="#000" stroke-width="0.9"/>
<text transform="translate(151.4 365.6) rotate(-45) scale(0.83 1)" font-size="8" text-anchor="end" stroke="#1a1a1a" stroke-width="0.12">KIN-8194 0.5µM</text>
<line x1="171.8" y1="355.8" x2="171.8" y2="358.8" stroke="#000" stroke-width="0.9"/>
<text transform="translate(175.2 365.6) rotate(-45) scale(0.83 1)" font-size="8" text-anchor="end" stroke="#1a1a1a" stroke-width="0.12">KIN-8194 0.1µM</text>
<text transform="translate(37.7 323) rotate(-90) scale(0.79 1)" font-size="9.2" text-anchor="middle" stroke="#1a1a1a" stroke-width="0.1">p-HCK+ cells (%)</text>
<text transform="translate(297.2 291.3) scale(0.9 1)" font-size="8.5" text-anchor="middle">p-BTK</text>
<line x1="242.4" y1="313.3" x2="256.8" y2="313.3" stroke="#000" stroke-width="0.8"/>
<path d="M243.6 311.8L245.12 314.68L242.08 314.68Z" fill="#000"/>
<path d="M247.6 311.1L249.12 313.98L246.08 313.98Z" fill="#000"/>
<path d="M251.6 311.4L253.12 314.28L250.08 314.28Z" fill="#000"/>
<path d="M255.6 311.6L257.12 314.48L254.08 314.48Z" fill="#000"/>
<line x1="273.2" y1="329.6" x2="273.2" y2="330.8" stroke="#000" stroke-width="0.8"/>
<line x1="273.2" y1="337.3" x2="273.2" y2="338" stroke="#000" stroke-width="0.8"/>
<line x1="271" y1="329.6" x2="275.4" y2="329.6" stroke="#000" stroke-width="0.8"/>
<line x1="271" y1="338" x2="275.4" y2="338" stroke="#000" stroke-width="0.8"/>
<rect x="266.3" y="330.8" width="13.8" height="6.5" fill="#fff" stroke="#000" stroke-width="0.8"/>
<line x1="266.3" y1="334" x2="280.1" y2="334" stroke="#000" stroke-width="0.8"/>
<path d="M273.2 328.2L274.72 331.08L271.68 331.08Z" fill="#000"/>
<path d="M270.4 334.9L271.92 337.78L268.88 337.78Z" fill="#000"/>
<path d="M275.8 335.2L277.32 338.08L274.28 338.08Z" fill="#000"/>
<path d="M273.2 331.9L274.72 334.78L271.68 334.78Z" fill="#000"/>
<text transform="translate(273.2 325.3) scale(0.94 1)" font-size="8.5" text-anchor="middle" fill="#000" font-weight="bold">****</text>
<line x1="297.1" y1="322.1" x2="297.1" y2="323.1" stroke="#000" stroke-width="0.8"/>
<line x1="297.1" y1="333.1" x2="297.1" y2="334.6" stroke="#000" stroke-width="0.8"/>
<line x1="294.9" y1="322.1" x2="299.3" y2="322.1" stroke="#000" stroke-width="0.8"/>
<line x1="294.9" y1="334.6" x2="299.3" y2="334.6" stroke="#000" stroke-width="0.8"/>
<rect x="290.2" y="323.1" width="13.8" height="10" fill="#fff" stroke="#000" stroke-width="0.8"/>
<line x1="290.2" y1="326.3" x2="304" y2="326.3" stroke="#000" stroke-width="0.8"/>
<path d="M295.6 320.7L297.12 323.58L294.08 323.58Z" fill="#000"/>
<path d="M298.6 320.9L300.12 323.78L297.08 323.78Z" fill="#000"/>
<path d="M297.1 327.9L298.62 330.78L295.58 330.78Z" fill="#000"/>
<path d="M297.1 332.4L298.62 335.28L295.58 335.28Z" fill="#000"/>
<text transform="translate(297.1 318.5) scale(0.94 1)" font-size="8.5" text-anchor="middle" fill="#000" font-weight="bold">**</text>
<line x1="320.8" y1="346.9" x2="320.8" y2="348.5" stroke="#000" stroke-width="0.8"/>
<line x1="320.8" y1="354.6" x2="320.8" y2="355" stroke="#000" stroke-width="0.8"/>
<line x1="318.6" y1="346.9" x2="323" y2="346.9" stroke="#000" stroke-width="0.8"/>
<line x1="318.6" y1="355" x2="323" y2="355" stroke="#000" stroke-width="0.8"/>
<rect x="313.9" y="348.5" width="13.8" height="6.1" fill="#fff" stroke="#000" stroke-width="0.8"/>
<line x1="313.9" y1="352.7" x2="327.7" y2="352.7" stroke="#000" stroke-width="0.8"/>
<path d="M320.8 345.4L322.32 348.28L319.28 348.28Z" fill="#000"/>
<path d="M318.3 351.6L319.82 354.48L316.78 354.48Z" fill="#000"/>
<path d="M321.3 351.9L322.82 354.78L319.78 354.78Z" fill="#000"/>
<path d="M324 351.8L325.52 354.68L322.48 354.68Z" fill="#000"/>
<text transform="translate(320.8 343.1) scale(0.94 1)" font-size="8.5" text-anchor="middle" fill="#000" font-weight="bold">****</text>
<line x1="344.8" y1="339.4" x2="344.8" y2="341.7" stroke="#000" stroke-width="0.8"/>
<line x1="344.8" y1="353.3" x2="344.8" y2="355.2" stroke="#000" stroke-width="0.8"/>
<line x1="342.6" y1="339.4" x2="347" y2="339.4" stroke="#000" stroke-width="0.8"/>
<line x1="342.6" y1="355.2" x2="347" y2="355.2" stroke="#000" stroke-width="0.8"/>
<rect x="337.9" y="341.7" width="13.8" height="11.6" fill="#fff" stroke="#000" stroke-width="0.8"/>
<line x1="337.9" y1="349.4" x2="351.7" y2="349.4" stroke="#000" stroke-width="0.8"/>
<path d="M344.8 338L346.32 340.88L343.28 340.88Z" fill="#000"/>
<path d="M342.2 347.6L343.72 350.48L340.68 350.48Z" fill="#000"/>
<path d="M347.2 348.4L348.72 351.28L345.68 351.28Z" fill="#000"/>
<path d="M344.8 353.3L346.32 356.18L343.28 356.18Z" fill="#000"/>
<text transform="translate(344.8 334.5) scale(0.94 1)" font-size="8.5" text-anchor="middle" fill="#000" font-weight="bold">****</text>
<line x1="235.8" y1="293.7" x2="235.8" y2="356.25" stroke="#000" stroke-width="1"/>
<line x1="235.3" y1="355.8" x2="358.5" y2="355.8" stroke="#000" stroke-width="1"/>
<line x1="232.8" y1="355.8" x2="235.8" y2="355.8" stroke="#000" stroke-width="0.9"/>
<text x="230.1" y="358.6" font-size="7.8" text-anchor="end" stroke="#1a1a1a" stroke-width="0.15">0</text>
<line x1="232.8" y1="343.48" x2="235.8" y2="343.48" stroke="#000" stroke-width="0.9"/>
<text x="230.1" y="346.28" font-size="7.8" text-anchor="end" stroke="#1a1a1a" stroke-width="0.15">20</text>
<line x1="232.8" y1="331.16" x2="235.8" y2="331.16" stroke="#000" stroke-width="0.9"/>
<text x="230.1" y="333.96" font-size="7.8" text-anchor="end" stroke="#1a1a1a" stroke-width="0.15">40</text>
<line x1="232.8" y1="318.84" x2="235.8" y2="318.84" stroke="#000" stroke-width="0.9"/>
<text x="230.1" y="321.64" font-size="7.8" text-anchor="end" stroke="#1a1a1a" stroke-width="0.15">60</text>
<line x1="232.8" y1="306.52" x2="235.8" y2="306.52" stroke="#000" stroke-width="0.9"/>
<text x="230.1" y="309.32" font-size="7.8" text-anchor="end" stroke="#1a1a1a" stroke-width="0.15">80</text>
<line x1="232.8" y1="294.2" x2="235.8" y2="294.2" stroke="#000" stroke-width="0.9"/>
<text x="230.1" y="297" font-size="7.8" text-anchor="end" stroke="#1a1a1a" stroke-width="0.15">100</text>
<line x1="249.6" y1="355.8" x2="249.6" y2="358.8" stroke="#000" stroke-width="0.9"/>
<text transform="translate(253 365.6) rotate(-45) scale(0.83 1)" font-size="8" text-anchor="end" stroke="#1a1a1a" stroke-width="0.12">DMSO</text>
<line x1="273.4" y1="355.8" x2="273.4" y2="358.8" stroke="#000" stroke-width="0.9"/>
<text transform="translate(276.8 365.6) rotate(-45) scale(0.83 1)" font-size="8" text-anchor="end" stroke="#1a1a1a" stroke-width="0.12">Ibrutinib 0.5µM</text>
<line x1="297.2" y1="355.8" x2="297.2" y2="358.8" stroke="#000" stroke-width="0.9"/>
<text transform="translate(300.6 365.6) rotate(-45) scale(0.83 1)" font-size="8" text-anchor="end" stroke="#1a1a1a" stroke-width="0.12">Ibrutinib 0.1µM</text>
<line x1="321" y1="355.8" x2="321" y2="358.8" stroke="#000" stroke-width="0.9"/>
<text transform="translate(324.4 365.6) rotate(-45) scale(0.83 1)" font-size="8" text-anchor="end" stroke="#1a1a1a" stroke-width="0.12">KIN-8194 0.5µM</text>
<line x1="344.8" y1="355.8" x2="344.8" y2="358.8" stroke="#000" stroke-width="0.9"/>
<text transform="translate(348.2 365.6) rotate(-45) scale(0.83 1)" font-size="8" text-anchor="end" stroke="#1a1a1a" stroke-width="0.12">KIN-8194 0.1µM</text>
<text transform="translate(210.9 323) rotate(-90) scale(0.79 1)" font-size="9.2" text-anchor="middle" stroke="#1a1a1a" stroke-width="0.1">p-HCK+ cells (%)</text>
</g>
<g id="panelD">
<text x="7.6" y="417.4" font-size="10.6" fill="#000" font-weight="bold">D</text>
<line x1="78.06" y1="451.3" x2="78.06" y2="454.22" stroke="#8fd44e" stroke-width="0.8"/>
<line x1="76.46" y1="451.3" x2="79.66" y2="451.3" stroke="#8fd44e" stroke-width="0.8"/>
<line x1="76.46" y1="454.22" x2="79.66" y2="454.22" stroke="#8fd44e" stroke-width="0.8"/>
<circle cx="78.06" cy="452.76" r="1.15" fill="#fff" fill-opacity="0.6" stroke="#8fd44e" stroke-width="0.8"/>
<line x1="87.84" y1="451.05" x2="87.84" y2="454.94" stroke="#8fd44e" stroke-width="0.8"/>
<line x1="86.24" y1="451.05" x2="89.44" y2="451.05" stroke="#8fd44e" stroke-width="0.8"/>
<line x1="86.24" y1="454.94" x2="89.44" y2="454.94" stroke="#8fd44e" stroke-width="0.8"/>
<circle cx="87.84" cy="452.99" r="1.15" fill="#fff" fill-opacity="0.6" stroke="#8fd44e" stroke-width="0.8"/>
<line x1="97.63" y1="452.78" x2="97.63" y2="455.69" stroke="#8fd44e" stroke-width="0.8"/>
<line x1="96.03" y1="452.78" x2="99.23" y2="452.78" stroke="#8fd44e" stroke-width="0.8"/>
<line x1="96.03" y1="455.69" x2="99.23" y2="455.69" stroke="#8fd44e" stroke-width="0.8"/>
<circle cx="97.63" cy="454.24" r="1.15" fill="#fff" fill-opacity="0.6" stroke="#8fd44e" stroke-width="0.8"/>
<line x1="107.41" y1="456.8" x2="107.41" y2="461.66" stroke="#8fd44e" stroke-width="0.8"/>
<line x1="105.81" y1="456.8" x2="109.01" y2="456.8" stroke="#8fd44e" stroke-width="0.8"/>
<line x1="105.81" y1="461.66" x2="109.01" y2="461.66" stroke="#8fd44e" stroke-width="0.8"/>
<circle cx="107.41" cy="459.23" r="1.15" fill="#fff" fill-opacity="0.6" stroke="#8fd44e" stroke-width="0.8"/>
<line x1="117.2" y1="476.06" x2="117.2" y2="478.98" stroke="#8fd44e" stroke-width="0.8"/>
<line x1="115.6" y1="476.06" x2="118.8" y2="476.06" stroke="#8fd44e" stroke-width="0.8"/>
<line x1="115.6" y1="478.98" x2="118.8" y2="478.98" stroke="#8fd44e" stroke-width="0.8"/>
<circle cx="117.2" cy="477.52" r="1.15" fill="#fff" fill-opacity="0.6" stroke="#8fd44e" stroke-width="0.8"/>
<line x1="126.98" y1="491.92" x2="126.98" y2="495.81" stroke="#8fd44e" stroke-width="0.8"/>
<line x1="125.38" y1="491.92" x2="128.58" y2="491.92" stroke="#8fd44e" stroke-width="0.8"/>
<line x1="125.38" y1="495.81" x2="128.58" y2="495.81" stroke="#8fd44e" stroke-width="0.8"/>
<circle cx="126.98" cy="493.86" r="1.15" fill="#fff" fill-opacity="0.6" stroke="#8fd44e" stroke-width="0.8"/>
<line x1="136.77" y1="500.32" x2="136.77" y2="501.29" stroke="#8fd44e" stroke-width="0.8"/>
<line x1="135.17" y1="500.32" x2="138.37" y2="500.32" stroke="#8fd44e" stroke-width="0.8"/>
<line x1="135.17" y1="501.29" x2="138.37" y2="501.29" stroke="#8fd44e" stroke-width="0.8"/>
<circle cx="136.77" cy="500.81" r="1.15" fill="#fff" fill-opacity="0.6" stroke="#8fd44e" stroke-width="0.8"/>
<line x1="146.55" y1="501.56" x2="146.55" y2="502.54" stroke="#8fd44e" stroke-width="0.8"/>
<line x1="144.95" y1="501.56" x2="148.15" y2="501.56" stroke="#8fd44e" stroke-width="0.8"/>
<line x1="144.95" y1="502.54" x2="148.15" y2="502.54" stroke="#8fd44e" stroke-width="0.8"/>
<circle cx="146.55" cy="502.05" r="1.15" fill="#fff" fill-opacity="0.6" stroke="#8fd44e" stroke-width="0.8"/>
<line x1="156.34" y1="501.79" x2="156.34" y2="502.76" stroke="#8fd44e" stroke-width="0.8"/>
<line x1="154.74" y1="501.79" x2="157.94" y2="501.79" stroke="#8fd44e" stroke-width="0.8"/>
<line x1="154.74" y1="502.76" x2="157.94" y2="502.76" stroke="#8fd44e" stroke-width="0.8"/>
<circle cx="156.34" cy="502.28" r="1.15" fill="#fff" fill-opacity="0.6" stroke="#8fd44e" stroke-width="0.8"/>
<line x1="166.12" y1="501.83" x2="166.12" y2="502.8" stroke="#8fd44e" stroke-width="0.8"/>
<line x1="164.52" y1="501.83" x2="167.72" y2="501.83" stroke="#8fd44e" stroke-width="0.8"/>
<line x1="164.52" y1="502.8" x2="167.72" y2="502.8" stroke="#8fd44e" stroke-width="0.8"/>
<circle cx="166.12" cy="502.32" r="1.15" fill="#fff" fill-opacity="0.6" stroke="#8fd44e" stroke-width="0.8"/>
<path d="M78.06 452.76L79.55 452.78L81.04 452.8L82.53 452.82L84.03 452.86L85.52 452.9L87.01 452.95L88.5 453.03L90 453.12L91.49 453.24L92.98 453.4L94.47 453.6L95.97 453.86L97.46 454.19L98.95 454.62L100.45 455.17L101.94 455.86L103.43 456.73L104.92 457.82L106.42 459.16L107.91 460.78L109.4 462.72L110.89 464.99L112.39 467.58L113.88 470.46L115.37 473.56L116.86 476.79L118.36 480.05L119.85 483.23L121.34 486.21L122.83 488.94L124.33 491.35L125.82 493.44L127.31 495.2L128.81 496.66L130.3 497.86L131.79 498.82L133.28 499.59L134.78 500.19L136.27 500.67L137.76 501.05L139.25 501.34L140.75 501.56L142.24 501.74L143.73 501.87L145.22 501.98L146.72 502.06L148.21 502.12L149.7 502.17L151.19 502.2L152.69 502.23L154.18 502.25L155.67 502.27L157.17 502.28L158.66 502.29L160.15 502.3L161.64 502.31L163.14 502.31L164.63 502.32L166.12 502.32" fill="none" stroke="#8fd44e" stroke-width="1.15" stroke-linejoin="round"/>
<line x1="78.06" y1="453.3" x2="78.06" y2="456.22" stroke="#35c9fa" stroke-width="0.8"/>
<line x1="76.46" y1="453.3" x2="79.66" y2="453.3" stroke="#35c9fa" stroke-width="0.8"/>
<line x1="76.46" y1="456.22" x2="79.66" y2="456.22" stroke="#35c9fa" stroke-width="0.8"/>
<circle cx="78.06" cy="454.76" r="1.1" fill="#35c9fa"/>
<line x1="87.84" y1="454.15" x2="87.84" y2="457.06" stroke="#35c9fa" stroke-width="0.8"/>
<line x1="86.24" y1="454.15" x2="89.44" y2="454.15" stroke="#35c9fa" stroke-width="0.8"/>
<line x1="86.24" y1="457.06" x2="89.44" y2="457.06" stroke="#35c9fa" stroke-width="0.8"/>
<circle cx="87.84" cy="455.6" r="1.1" fill="#35c9fa"/>
<line x1="97.63" y1="456.06" x2="97.63" y2="458.98" stroke="#35c9fa" stroke-width="0.8"/>
<line x1="96.03" y1="456.06" x2="99.23" y2="456.06" stroke="#35c9fa" stroke-width="0.8"/>
<line x1="96.03" y1="458.98" x2="99.23" y2="458.98" stroke="#35c9fa" stroke-width="0.8"/>
<circle cx="97.63" cy="457.52" r="1.1" fill="#35c9fa"/>
<line x1="107.41" y1="459.85" x2="107.41" y2="462.77" stroke="#35c9fa" stroke-width="0.8"/>
<line x1="105.81" y1="459.85" x2="109.01" y2="459.85" stroke="#35c9fa" stroke-width="0.8"/>
<line x1="105.81" y1="462.77" x2="109.01" y2="462.77" stroke="#35c9fa" stroke-width="0.8"/>
<circle cx="107.41" cy="461.31" r="1.1" fill="#35c9fa"/>
<line x1="117.2" y1="466.23" x2="117.2" y2="468.18" stroke="#35c9fa" stroke-width="0.8"/>
<line x1="115.6" y1="466.23" x2="118.8" y2="466.23" stroke="#35c9fa" stroke-width="0.8"/>
<line x1="115.6" y1="468.18" x2="118.8" y2="468.18" stroke="#35c9fa" stroke-width="0.8"/>
<circle cx="117.2" cy="467.2" r="1.1" fill="#35c9fa"/>
<line x1="126.98" y1="472.61" x2="126.98" y2="474.55" stroke="#35c9fa" stroke-width="0.8"/>
<line x1="125.38" y1="472.61" x2="128.58" y2="472.61" stroke="#35c9fa" stroke-width="0.8"/>
<line x1="125.38" y1="474.55" x2="128.58" y2="474.55" stroke="#35c9fa" stroke-width="0.8"/>
<circle cx="126.98" cy="473.58" r="1.1" fill="#35c9fa"/>
<line x1="136.77" y1="477.31" x2="136.77" y2="479.25" stroke="#35c9fa" stroke-width="0.8"/>
<line x1="135.17" y1="477.31" x2="138.37" y2="477.31" stroke="#35c9fa" stroke-width="0.8"/>
<line x1="135.17" y1="479.25" x2="138.37" y2="479.25" stroke="#35c9fa" stroke-width="0.8"/>
<circle cx="136.77" cy="478.28" r="1.1" fill="#35c9fa"/>
<line x1="146.55" y1="478.9" x2="146.55" y2="480.85" stroke="#35c9fa" stroke-width="0.8"/>
<line x1="144.95" y1="478.9" x2="148.15" y2="478.9" stroke="#35c9fa" stroke-width="0.8"/>
<line x1="144.95" y1="480.85" x2="148.15" y2="480.85" stroke="#35c9fa" stroke-width="0.8"/>
<circle cx="146.55" cy="479.87" r="1.1" fill="#35c9fa"/>
<line x1="156.34" y1="481.06" x2="156.34" y2="484.95" stroke="#35c9fa" stroke-width="0.8"/>
<line x1="154.74" y1="481.06" x2="157.94" y2="481.06" stroke="#35c9fa" stroke-width="0.8"/>
<line x1="154.74" y1="484.95" x2="157.94" y2="484.95" stroke="#35c9fa" stroke-width="0.8"/>
<circle cx="156.34" cy="483" r="1.1" fill="#35c9fa"/>
<line x1="166.12" y1="480.58" x2="166.12" y2="483.5" stroke="#35c9fa" stroke-width="0.8"/>
<line x1="164.52" y1="480.58" x2="167.72" y2="480.58" stroke="#35c9fa" stroke-width="0.8"/>
<line x1="164.52" y1="483.5" x2="167.72" y2="483.5" stroke="#35c9fa" stroke-width="0.8"/>
<circle cx="166.12" cy="482.04" r="1.1" fill="#35c9fa"/>
<path d="M78.06 454.76L79.55 454.85L81.04 454.95L82.53 455.06L84.03 455.19L85.52 455.34L87.01 455.5L88.5 455.69L90 455.91L91.49 456.15L92.98 456.43L94.47 456.73L95.97 457.08L97.46 457.47L98.95 457.9L100.45 458.38L101.94 458.91L103.43 459.5L104.92 460.13L106.42 460.82L107.91 461.57L109.4 462.36L110.89 463.21L112.39 464.1L113.88 465.03L115.37 466L116.86 466.98L118.36 467.99L119.85 468.99L121.34 470L122.83 470.98L124.33 471.95L125.82 472.88L127.31 473.78L128.81 474.63L130.3 475.43L131.79 476.17L133.28 476.87L134.78 477.51L136.27 478.09L137.76 478.63L139.25 479.11L140.75 479.55L142.24 479.94L143.73 480.29L145.22 480.6L146.72 480.88L148.21 481.12L149.7 481.34L151.19 481.53L152.69 481.7L154.18 481.85L155.67 481.98L157.17 482.09L158.66 482.19L160.15 482.28L161.64 482.35L163.14 482.42L164.63 482.48L166.12 482.53" fill="none" stroke="#35c9fa" stroke-width="1.15" stroke-linejoin="round"/>
<line x1="78.06" y1="452.77" x2="78.06" y2="454.71" stroke="#2fee12" stroke-width="0.8"/>
<line x1="76.46" y1="452.77" x2="79.66" y2="452.77" stroke="#2fee12" stroke-width="0.8"/>
<line x1="76.46" y1="454.71" x2="79.66" y2="454.71" stroke="#2fee12" stroke-width="0.8"/>
<circle cx="78.06" cy="453.74" r="1.1" fill="#2fee12"/>
<line x1="87.84" y1="452.82" x2="87.84" y2="454.77" stroke="#2fee12" stroke-width="0.8"/>
<line x1="86.24" y1="452.82" x2="89.44" y2="452.82" stroke="#2fee12" stroke-width="0.8"/>
<line x1="86.24" y1="454.77" x2="89.44" y2="454.77" stroke="#2fee12" stroke-width="0.8"/>
<circle cx="87.84" cy="453.79" r="1.1" fill="#2fee12"/>
<line x1="97.63" y1="452.93" x2="97.63" y2="454.87" stroke="#2fee12" stroke-width="0.8"/>
<line x1="96.03" y1="452.93" x2="99.23" y2="452.93" stroke="#2fee12" stroke-width="0.8"/>
<line x1="96.03" y1="454.87" x2="99.23" y2="454.87" stroke="#2fee12" stroke-width="0.8"/>
<circle cx="97.63" cy="453.9" r="1.1" fill="#2fee12"/>
<line x1="107.41" y1="453.13" x2="107.41" y2="455.08" stroke="#2fee12" stroke-width="0.8"/>
<line x1="105.81" y1="453.13" x2="109.01" y2="453.13" stroke="#2fee12" stroke-width="0.8"/>
<line x1="105.81" y1="455.08" x2="109.01" y2="455.08" stroke="#2fee12" stroke-width="0.8"/>
<circle cx="107.41" cy="454.11" r="1.1" fill="#2fee12"/>
<line x1="117.2" y1="453.53" x2="117.2" y2="455.48" stroke="#2fee12" stroke-width="0.8"/>
<line x1="115.6" y1="453.53" x2="118.8" y2="453.53" stroke="#2fee12" stroke-width="0.8"/>
<line x1="115.6" y1="455.48" x2="118.8" y2="455.48" stroke="#2fee12" stroke-width="0.8"/>
<circle cx="117.2" cy="454.5" r="1.1" fill="#2fee12"/>
<line x1="126.98" y1="454.28" x2="126.98" y2="456.23" stroke="#2fee12" stroke-width="0.8"/>
<line x1="125.38" y1="454.28" x2="128.58" y2="454.28" stroke="#2fee12" stroke-width="0.8"/>
<line x1="125.38" y1="456.23" x2="128.58" y2="456.23" stroke="#2fee12" stroke-width="0.8"/>
<circle cx="126.98" cy="455.26" r="1.1" fill="#2fee12"/>
<line x1="136.77" y1="455.62" x2="136.77" y2="457.57" stroke="#2fee12" stroke-width="0.8"/>
<line x1="135.17" y1="455.62" x2="138.37" y2="455.62" stroke="#2fee12" stroke-width="0.8"/>
<line x1="135.17" y1="457.57" x2="138.37" y2="457.57" stroke="#2fee12" stroke-width="0.8"/>
<circle cx="136.77" cy="456.59" r="1.1" fill="#2fee12"/>
<line x1="146.55" y1="457.8" x2="146.55" y2="459.74" stroke="#2fee12" stroke-width="0.8"/>
<line x1="144.95" y1="457.8" x2="148.15" y2="457.8" stroke="#2fee12" stroke-width="0.8"/>
<line x1="144.95" y1="459.74" x2="148.15" y2="459.74" stroke="#2fee12" stroke-width="0.8"/>
<circle cx="146.55" cy="458.77" r="1.1" fill="#2fee12"/>
<line x1="156.34" y1="460.36" x2="156.34" y2="463.27" stroke="#2fee12" stroke-width="0.8"/>
<line x1="154.74" y1="460.36" x2="157.94" y2="460.36" stroke="#2fee12" stroke-width="0.8"/>
<line x1="154.74" y1="463.27" x2="157.94" y2="463.27" stroke="#2fee12" stroke-width="0.8"/>
<circle cx="156.34" cy="461.81" r="1.1" fill="#2fee12"/>
<line x1="166.12" y1="462.87" x2="166.12" y2="467.74" stroke="#2fee12" stroke-width="0.8"/>
<line x1="164.52" y1="462.87" x2="167.72" y2="462.87" stroke="#2fee12" stroke-width="0.8"/>
<line x1="164.52" y1="467.74" x2="167.72" y2="467.74" stroke="#2fee12" stroke-width="0.8"/>
<circle cx="166.12" cy="465.3" r="1.1" fill="#2fee12"/>
<path d="M78.06 453.74L79.55 453.75L81.04 453.75L82.53 453.76L84.03 453.77L85.52 453.78L87.01 453.79L88.5 453.8L90 453.81L91.49 453.82L92.98 453.84L94.47 453.86L95.97 453.88L97.46 453.9L98.95 453.92L100.45 453.94L101.94 453.97L103.43 454L104.92 454.04L106.42 454.08L107.91 454.12L109.4 454.17L110.89 454.22L112.39 454.28L113.88 454.34L115.37 454.41L116.86 454.49L118.36 454.57L119.85 454.67L121.34 454.77L122.83 454.88L124.33 455.01L125.82 455.14L127.31 455.29L128.81 455.45L130.3 455.63L131.79 455.82L133.28 456.03L134.78 456.26L136.27 456.51L137.76 456.77L139.25 457.06L140.75 457.37L142.24 457.7L143.73 458.05L145.22 458.42L146.72 458.81L148.21 459.23L149.7 459.66L151.19 460.12L152.69 460.59L154.18 461.08L155.67 461.59L157.17 462.1L158.66 462.63L160.15 463.16L161.64 463.7L163.14 464.24L164.63 464.77L166.12 465.3" fill="none" stroke="#2fee12" stroke-width="1.15" stroke-linejoin="round"/>
<line x1="78.06" y1="454.17" x2="78.06" y2="456.12" stroke="#0a35c0" stroke-width="0.8"/>
<line x1="76.46" y1="454.17" x2="79.66" y2="454.17" stroke="#0a35c0" stroke-width="0.8"/>
<line x1="76.46" y1="456.12" x2="79.66" y2="456.12" stroke="#0a35c0" stroke-width="0.8"/>
<circle cx="78.06" cy="455.15" r="1.1" fill="#0a35c0"/>
<line x1="87.84" y1="454.18" x2="87.84" y2="456.12" stroke="#0a35c0" stroke-width="0.8"/>
<line x1="86.24" y1="454.18" x2="89.44" y2="454.18" stroke="#0a35c0" stroke-width="0.8"/>
<line x1="86.24" y1="456.12" x2="89.44" y2="456.12" stroke="#0a35c0" stroke-width="0.8"/>
<circle cx="87.84" cy="455.15" r="1.1" fill="#0a35c0"/>
<line x1="97.63" y1="454.18" x2="97.63" y2="456.13" stroke="#0a35c0" stroke-width="0.8"/>
<line x1="96.03" y1="454.18" x2="99.23" y2="454.18" stroke="#0a35c0" stroke-width="0.8"/>
<line x1="96.03" y1="456.13" x2="99.23" y2="456.13" stroke="#0a35c0" stroke-width="0.8"/>
<circle cx="97.63" cy="455.16" r="1.1" fill="#0a35c0"/>
<line x1="107.41" y1="454.21" x2="107.41" y2="456.15" stroke="#0a35c0" stroke-width="0.8"/>
<line x1="105.81" y1="454.21" x2="109.01" y2="454.21" stroke="#0a35c0" stroke-width="0.8"/>
<line x1="105.81" y1="456.15" x2="109.01" y2="456.15" stroke="#0a35c0" stroke-width="0.8"/>
<circle cx="107.41" cy="455.18" r="1.1" fill="#0a35c0"/>
<line x1="117.2" y1="454.28" x2="117.2" y2="456.22" stroke="#0a35c0" stroke-width="0.8"/>
<line x1="115.6" y1="454.28" x2="118.8" y2="454.28" stroke="#0a35c0" stroke-width="0.8"/>
<line x1="115.6" y1="456.22" x2="118.8" y2="456.22" stroke="#0a35c0" stroke-width="0.8"/>
<circle cx="117.2" cy="455.25" r="1.1" fill="#0a35c0"/>
<line x1="126.98" y1="454.49" x2="126.98" y2="456.44" stroke="#0a35c0" stroke-width="0.8"/>
<line x1="125.38" y1="454.49" x2="128.58" y2="454.49" stroke="#0a35c0" stroke-width="0.8"/>
<line x1="125.38" y1="456.44" x2="128.58" y2="456.44" stroke="#0a35c0" stroke-width="0.8"/>
<circle cx="126.98" cy="455.46" r="1.1" fill="#0a35c0"/>
<line x1="136.77" y1="454.67" x2="136.77" y2="457.59" stroke="#0a35c0" stroke-width="0.8"/>
<line x1="135.17" y1="454.67" x2="138.37" y2="454.67" stroke="#0a35c0" stroke-width="0.8"/>
<line x1="135.17" y1="457.59" x2="138.37" y2="457.59" stroke="#0a35c0" stroke-width="0.8"/>
<circle cx="136.77" cy="456.13" r="1.1" fill="#0a35c0"/>
<line x1="146.55" y1="456.58" x2="146.55" y2="459.5" stroke="#0a35c0" stroke-width="0.8"/>
<line x1="144.95" y1="456.58" x2="148.15" y2="456.58" stroke="#0a35c0" stroke-width="0.8"/>
<line x1="144.95" y1="459.5" x2="148.15" y2="459.5" stroke="#0a35c0" stroke-width="0.8"/>
<circle cx="146.55" cy="458.04" r="1.1" fill="#0a35c0"/>
<line x1="156.34" y1="460.72" x2="156.34" y2="464.61" stroke="#0a35c0" stroke-width="0.8"/>
<line x1="154.74" y1="460.72" x2="157.94" y2="460.72" stroke="#0a35c0" stroke-width="0.8"/>
<line x1="154.74" y1="464.61" x2="157.94" y2="464.61" stroke="#0a35c0" stroke-width="0.8"/>
<circle cx="156.34" cy="462.66" r="1.1" fill="#0a35c0"/>
<line x1="166.12" y1="467.89" x2="166.12" y2="472.75" stroke="#0a35c0" stroke-width="0.8"/>
<line x1="164.52" y1="467.89" x2="167.72" y2="467.89" stroke="#0a35c0" stroke-width="0.8"/>
<line x1="164.52" y1="472.75" x2="167.72" y2="472.75" stroke="#0a35c0" stroke-width="0.8"/>
<circle cx="166.12" cy="470.32" r="1.1" fill="#0a35c0"/>
<path d="M78.06 455.15L79.55 455.15L81.04 455.15L82.53 455.15L84.03 455.15L85.52 455.15L87.01 455.15L88.5 455.15L90 455.15L91.49 455.15L92.98 455.15L94.47 455.15L95.97 455.15L97.46 455.16L98.95 455.16L100.45 455.16L101.94 455.16L103.43 455.17L104.92 455.17L106.42 455.18L107.91 455.18L109.4 455.19L110.89 455.19L112.39 455.2L113.88 455.22L115.37 455.23L116.86 455.24L118.36 455.26L119.85 455.28L121.34 455.31L122.83 455.34L124.33 455.38L125.82 455.42L127.31 455.48L128.81 455.54L130.3 455.61L131.79 455.7L133.28 455.81L134.78 455.93L136.27 456.08L137.76 456.25L139.25 456.45L140.75 456.69L142.24 456.96L143.73 457.29L145.22 457.66L146.72 458.09L148.21 458.59L149.7 459.16L151.19 459.8L152.69 460.53L154.18 461.34L155.67 462.24L157.17 463.22L158.66 464.27L160.15 465.4L161.64 466.58L163.14 467.81L164.63 469.06L166.12 470.32" fill="none" stroke="#0a35c0" stroke-width="1.15" stroke-linejoin="round"/>
<line x1="78.06" y1="454.66" x2="78.06" y2="457.58" stroke="#1b12a8" stroke-width="0.8"/>
<line x1="76.46" y1="454.66" x2="79.66" y2="454.66" stroke="#1b12a8" stroke-width="0.8"/>
<line x1="76.46" y1="457.58" x2="79.66" y2="457.58" stroke="#1b12a8" stroke-width="0.8"/>
<circle cx="78.06" cy="456.12" r="1.1" fill="#1b12a8"/>
<line x1="87.84" y1="454.66" x2="87.84" y2="457.58" stroke="#1b12a8" stroke-width="0.8"/>
<line x1="86.24" y1="454.66" x2="89.44" y2="454.66" stroke="#1b12a8" stroke-width="0.8"/>
<line x1="86.24" y1="457.58" x2="89.44" y2="457.58" stroke="#1b12a8" stroke-width="0.8"/>
<circle cx="87.84" cy="456.12" r="1.1" fill="#1b12a8"/>
<line x1="97.63" y1="455.16" x2="97.63" y2="457.11" stroke="#1b12a8" stroke-width="0.8"/>
<line x1="96.03" y1="455.16" x2="99.23" y2="455.16" stroke="#1b12a8" stroke-width="0.8"/>
<line x1="96.03" y1="457.11" x2="99.23" y2="457.11" stroke="#1b12a8" stroke-width="0.8"/>
<circle cx="97.63" cy="456.13" r="1.1" fill="#1b12a8"/>
<line x1="107.41" y1="455.19" x2="107.41" y2="457.14" stroke="#1b12a8" stroke-width="0.8"/>
<line x1="105.81" y1="455.19" x2="109.01" y2="455.19" stroke="#1b12a8" stroke-width="0.8"/>
<line x1="105.81" y1="457.14" x2="109.01" y2="457.14" stroke="#1b12a8" stroke-width="0.8"/>
<circle cx="107.41" cy="456.17" r="1.1" fill="#1b12a8"/>
<line x1="117.2" y1="455.29" x2="117.2" y2="457.24" stroke="#1b12a8" stroke-width="0.8"/>
<line x1="115.6" y1="455.29" x2="118.8" y2="455.29" stroke="#1b12a8" stroke-width="0.8"/>
<line x1="115.6" y1="457.24" x2="118.8" y2="457.24" stroke="#1b12a8" stroke-width="0.8"/>
<circle cx="117.2" cy="456.26" r="1.1" fill="#1b12a8"/>
<line x1="126.98" y1="455.6" x2="126.98" y2="457.55" stroke="#1b12a8" stroke-width="0.8"/>
<line x1="125.38" y1="455.6" x2="128.58" y2="455.6" stroke="#1b12a8" stroke-width="0.8"/>
<line x1="125.38" y1="457.55" x2="128.58" y2="457.55" stroke="#1b12a8" stroke-width="0.8"/>
<circle cx="126.98" cy="456.57" r="1.1" fill="#1b12a8"/>
<line x1="136.77" y1="455.08" x2="136.77" y2="459.94" stroke="#1b12a8" stroke-width="0.8"/>
<line x1="135.17" y1="455.08" x2="138.37" y2="455.08" stroke="#1b12a8" stroke-width="0.8"/>
<line x1="135.17" y1="459.94" x2="138.37" y2="459.94" stroke="#1b12a8" stroke-width="0.8"/>
<circle cx="136.77" cy="457.51" r="1.1" fill="#1b12a8"/>
<line x1="146.55" y1="458.21" x2="146.55" y2="462.1" stroke="#1b12a8" stroke-width="0.8"/>
<line x1="144.95" y1="458.21" x2="148.15" y2="458.21" stroke="#1b12a8" stroke-width="0.8"/>
<line x1="144.95" y1="462.1" x2="148.15" y2="462.1" stroke="#1b12a8" stroke-width="0.8"/>
<circle cx="146.55" cy="460.15" r="1.1" fill="#1b12a8"/>
<line x1="156.34" y1="462.29" x2="156.34" y2="470.07" stroke="#1b12a8" stroke-width="0.8"/>
<line x1="154.74" y1="462.29" x2="157.94" y2="462.29" stroke="#1b12a8" stroke-width="0.8"/>
<line x1="154.74" y1="470.07" x2="157.94" y2="470.07" stroke="#1b12a8" stroke-width="0.8"/>
<circle cx="156.34" cy="466.18" r="1.1" fill="#1b12a8"/>
<line x1="166.12" y1="471.8" x2="166.12" y2="478.6" stroke="#1b12a8" stroke-width="0.8"/>
<line x1="164.52" y1="471.8" x2="167.72" y2="471.8" stroke="#1b12a8" stroke-width="0.8"/>
<line x1="164.52" y1="478.6" x2="167.72" y2="478.6" stroke="#1b12a8" stroke-width="0.8"/>
<circle cx="166.12" cy="475.2" r="1.1" fill="#1b12a8"/>
<path d="M78.06 456.12L79.55 456.12L81.04 456.12L82.53 456.12L84.03 456.12L85.52 456.12L87.01 456.12L88.5 456.12L90 456.13L91.49 456.13L92.98 456.13L94.47 456.13L95.97 456.13L97.46 456.13L98.95 456.14L100.45 456.14L101.94 456.14L103.43 456.15L104.92 456.15L106.42 456.16L107.91 456.17L109.4 456.18L110.89 456.19L112.39 456.2L113.88 456.22L115.37 456.24L116.86 456.26L118.36 456.29L119.85 456.32L121.34 456.35L122.83 456.4L124.33 456.45L125.82 456.52L127.31 456.59L128.81 456.68L130.3 456.79L131.79 456.91L133.28 457.06L134.78 457.23L136.27 457.44L137.76 457.68L139.25 457.96L140.75 458.29L142.24 458.67L143.73 459.12L145.22 459.63L146.72 460.22L148.21 460.89L149.7 461.66L151.19 462.51L152.69 463.46L154.18 464.51L155.67 465.65L157.17 466.87L158.66 468.17L160.15 469.53L161.64 470.94L163.14 472.37L164.63 473.79L166.12 475.2" fill="none" stroke="#1b12a8" stroke-width="1.15" stroke-linejoin="round"/>
<line x1="78.06" y1="447.86" x2="78.06" y2="450.78" stroke="#12681c" stroke-width="0.8"/>
<line x1="76.46" y1="447.86" x2="79.66" y2="447.86" stroke="#12681c" stroke-width="0.8"/>
<line x1="76.46" y1="450.78" x2="79.66" y2="450.78" stroke="#12681c" stroke-width="0.8"/>
<circle cx="78.06" cy="449.32" r="1.15" fill="#fff" fill-opacity="0.6" stroke="#12681c" stroke-width="0.8"/>
<line x1="87.84" y1="445.95" x2="87.84" y2="452.76" stroke="#12681c" stroke-width="0.8"/>
<line x1="86.24" y1="445.95" x2="89.44" y2="445.95" stroke="#12681c" stroke-width="0.8"/>
<line x1="86.24" y1="452.76" x2="89.44" y2="452.76" stroke="#12681c" stroke-width="0.8"/>
<circle cx="87.84" cy="449.36" r="1.15" fill="#fff" fill-opacity="0.6" stroke="#12681c" stroke-width="0.8"/>
<line x1="97.63" y1="448.03" x2="97.63" y2="450.95" stroke="#12681c" stroke-width="0.8"/>
<line x1="96.03" y1="448.03" x2="99.23" y2="448.03" stroke="#12681c" stroke-width="0.8"/>
<line x1="96.03" y1="450.95" x2="99.23" y2="450.95" stroke="#12681c" stroke-width="0.8"/>
<circle cx="97.63" cy="449.49" r="1.15" fill="#fff" fill-opacity="0.6" stroke="#12681c" stroke-width="0.8"/>
<line x1="107.41" y1="445.55" x2="107.41" y2="452.36" stroke="#12681c" stroke-width="0.8"/>
<line x1="105.81" y1="445.55" x2="109.01" y2="445.55" stroke="#12681c" stroke-width="0.8"/>
<line x1="105.81" y1="452.36" x2="109.01" y2="452.36" stroke="#12681c" stroke-width="0.8"/>
<circle cx="107.41" cy="448.96" r="1.15" fill="#fff" fill-opacity="0.6" stroke="#12681c" stroke-width="0.8"/>
<line x1="117.2" y1="450.47" x2="117.2" y2="452.42" stroke="#12681c" stroke-width="0.8"/>
<line x1="115.6" y1="450.47" x2="118.8" y2="450.47" stroke="#12681c" stroke-width="0.8"/>
<line x1="115.6" y1="452.42" x2="118.8" y2="452.42" stroke="#12681c" stroke-width="0.8"/>
<circle cx="117.2" cy="451.44" r="1.15" fill="#fff" fill-opacity="0.6" stroke="#12681c" stroke-width="0.8"/>
<line x1="126.98" y1="454.63" x2="126.98" y2="457.55" stroke="#12681c" stroke-width="0.8"/>
<line x1="125.38" y1="454.63" x2="128.58" y2="454.63" stroke="#12681c" stroke-width="0.8"/>
<line x1="125.38" y1="457.55" x2="128.58" y2="457.55" stroke="#12681c" stroke-width="0.8"/>
<circle cx="126.98" cy="456.09" r="1.15" fill="#fff" fill-opacity="0.6" stroke="#12681c" stroke-width="0.8"/>
<line x1="136.77" y1="464.43" x2="136.77" y2="469.3" stroke="#12681c" stroke-width="0.8"/>
<line x1="135.17" y1="464.43" x2="138.37" y2="464.43" stroke="#12681c" stroke-width="0.8"/>
<line x1="135.17" y1="469.3" x2="138.37" y2="469.3" stroke="#12681c" stroke-width="0.8"/>
<circle cx="136.77" cy="466.87" r="1.15" fill="#fff" fill-opacity="0.6" stroke="#12681c" stroke-width="0.8"/>
<line x1="146.55" y1="480.15" x2="146.55" y2="482.1" stroke="#12681c" stroke-width="0.8"/>
<line x1="144.95" y1="480.15" x2="148.15" y2="480.15" stroke="#12681c" stroke-width="0.8"/>
<line x1="144.95" y1="482.1" x2="148.15" y2="482.1" stroke="#12681c" stroke-width="0.8"/>
<circle cx="146.55" cy="481.12" r="1.15" fill="#fff" fill-opacity="0.6" stroke="#12681c" stroke-width="0.8"/>
<line x1="156.34" y1="489.11" x2="156.34" y2="492.02" stroke="#12681c" stroke-width="0.8"/>
<line x1="154.74" y1="489.11" x2="157.94" y2="489.11" stroke="#12681c" stroke-width="0.8"/>
<line x1="154.74" y1="492.02" x2="157.94" y2="492.02" stroke="#12681c" stroke-width="0.8"/>
<circle cx="156.34" cy="490.57" r="1.15" fill="#fff" fill-opacity="0.6" stroke="#12681c" stroke-width="0.8"/>
<line x1="166.12" y1="492.87" x2="166.12" y2="495.79" stroke="#12681c" stroke-width="0.8"/>
<line x1="164.52" y1="492.87" x2="167.72" y2="492.87" stroke="#12681c" stroke-width="0.8"/>
<line x1="164.52" y1="495.79" x2="167.72" y2="495.79" stroke="#12681c" stroke-width="0.8"/>
<circle cx="166.12" cy="494.33" r="1.15" fill="#fff" fill-opacity="0.6" stroke="#12681c" stroke-width="0.8"/>
<path d="M78.06 449.32L79.55 449.33L81.04 449.33L82.53 449.33L84.03 449.34L85.52 449.35L87.01 449.35L88.5 449.36L90 449.38L91.49 449.39L92.98 449.41L94.47 449.43L95.97 449.45L97.46 449.48L98.95 449.52L100.45 449.56L101.94 449.62L103.43 449.68L104.92 449.76L106.42 449.86L107.91 449.97L109.4 450.11L110.89 450.28L112.39 450.48L113.88 450.72L115.37 451.01L116.86 451.36L118.36 451.77L119.85 452.26L121.34 452.84L122.83 453.53L124.33 454.33L125.82 455.26L127.31 456.34L128.81 457.57L130.3 458.97L131.79 460.53L133.28 462.26L134.78 464.15L136.27 466.17L137.76 468.3L139.25 470.51L140.75 472.76L142.24 475L143.73 477.21L145.22 479.33L146.72 481.34L148.21 483.21L149.7 484.92L151.19 486.47L152.69 487.86L154.18 489.07L155.67 490.14L157.17 491.06L158.66 491.85L160.15 492.53L161.64 493.1L163.14 493.58L164.63 493.99L166.12 494.33" fill="none" stroke="#12681c" stroke-width="1.15" stroke-linejoin="round"/>
<line x1="78.06" y1="448.61" x2="78.06" y2="452.5" stroke="#ff7f0a" stroke-width="0.8"/>
<line x1="76.46" y1="448.61" x2="79.66" y2="448.61" stroke="#ff7f0a" stroke-width="0.8"/>
<line x1="76.46" y1="452.5" x2="79.66" y2="452.5" stroke="#ff7f0a" stroke-width="0.8"/>
<circle cx="78.06" cy="450.55" r="1.15" fill="#fff" fill-opacity="0.6" stroke="#ff7f0a" stroke-width="0.8"/>
<line x1="87.84" y1="449.18" x2="87.84" y2="455.02" stroke="#ff7f0a" stroke-width="0.8"/>
<line x1="86.24" y1="449.18" x2="89.44" y2="449.18" stroke="#ff7f0a" stroke-width="0.8"/>
<line x1="86.24" y1="455.02" x2="89.44" y2="455.02" stroke="#ff7f0a" stroke-width="0.8"/>
<circle cx="87.84" cy="452.1" r="1.15" fill="#fff" fill-opacity="0.6" stroke="#ff7f0a" stroke-width="0.8"/>
<line x1="97.63" y1="449.93" x2="97.63" y2="454.8" stroke="#ff7f0a" stroke-width="0.8"/>
<line x1="96.03" y1="449.93" x2="99.23" y2="449.93" stroke="#ff7f0a" stroke-width="0.8"/>
<line x1="96.03" y1="454.8" x2="99.23" y2="454.8" stroke="#ff7f0a" stroke-width="0.8"/>
<circle cx="97.63" cy="452.37" r="1.15" fill="#fff" fill-opacity="0.6" stroke="#ff7f0a" stroke-width="0.8"/>
<line x1="107.41" y1="454.56" x2="107.41" y2="466.24" stroke="#ff7f0a" stroke-width="0.8"/>
<line x1="105.81" y1="454.56" x2="109.01" y2="454.56" stroke="#ff7f0a" stroke-width="0.8"/>
<line x1="105.81" y1="466.24" x2="109.01" y2="466.24" stroke="#ff7f0a" stroke-width="0.8"/>
<circle cx="107.41" cy="460.4" r="1.15" fill="#fff" fill-opacity="0.6" stroke="#ff7f0a" stroke-width="0.8"/>
<line x1="117.2" y1="465.08" x2="117.2" y2="468.98" stroke="#ff7f0a" stroke-width="0.8"/>
<line x1="115.6" y1="465.08" x2="118.8" y2="465.08" stroke="#ff7f0a" stroke-width="0.8"/>
<line x1="115.6" y1="468.98" x2="118.8" y2="468.98" stroke="#ff7f0a" stroke-width="0.8"/>
<circle cx="117.2" cy="467.03" r="1.15" fill="#fff" fill-opacity="0.6" stroke="#ff7f0a" stroke-width="0.8"/>
<line x1="126.98" y1="478.15" x2="126.98" y2="480.09" stroke="#ff7f0a" stroke-width="0.8"/>
<line x1="125.38" y1="478.15" x2="128.58" y2="478.15" stroke="#ff7f0a" stroke-width="0.8"/>
<line x1="125.38" y1="480.09" x2="128.58" y2="480.09" stroke="#ff7f0a" stroke-width="0.8"/>
<circle cx="126.98" cy="479.12" r="1.15" fill="#fff" fill-opacity="0.6" stroke="#ff7f0a" stroke-width="0.8"/>
<line x1="136.77" y1="486.68" x2="136.77" y2="488.62" stroke="#ff7f0a" stroke-width="0.8"/>
<line x1="135.17" y1="486.68" x2="138.37" y2="486.68" stroke="#ff7f0a" stroke-width="0.8"/>
<line x1="135.17" y1="488.62" x2="138.37" y2="488.62" stroke="#ff7f0a" stroke-width="0.8"/>
<circle cx="136.77" cy="487.65" r="1.15" fill="#fff" fill-opacity="0.6" stroke="#ff7f0a" stroke-width="0.8"/>
<line x1="146.55" y1="490.05" x2="146.55" y2="492.97" stroke="#ff7f0a" stroke-width="0.8"/>
<line x1="144.95" y1="490.05" x2="148.15" y2="490.05" stroke="#ff7f0a" stroke-width="0.8"/>
<line x1="144.95" y1="492.97" x2="148.15" y2="492.97" stroke="#ff7f0a" stroke-width="0.8"/>
<circle cx="146.55" cy="491.51" r="1.15" fill="#fff" fill-opacity="0.6" stroke="#ff7f0a" stroke-width="0.8"/>
<line x1="156.34" y1="491.92" x2="156.34" y2="493.87" stroke="#ff7f0a" stroke-width="0.8"/>
<line x1="154.74" y1="491.92" x2="157.94" y2="491.92" stroke="#ff7f0a" stroke-width="0.8"/>
<line x1="154.74" y1="493.87" x2="157.94" y2="493.87" stroke="#ff7f0a" stroke-width="0.8"/>
<circle cx="156.34" cy="492.9" r="1.15" fill="#fff" fill-opacity="0.6" stroke="#ff7f0a" stroke-width="0.8"/>
<line x1="166.12" y1="491.9" x2="166.12" y2="493.84" stroke="#ff7f0a" stroke-width="0.8"/>
<line x1="164.52" y1="491.9" x2="167.72" y2="491.9" stroke="#ff7f0a" stroke-width="0.8"/>
<line x1="164.52" y1="493.84" x2="167.72" y2="493.84" stroke="#ff7f0a" stroke-width="0.8"/>
<circle cx="166.12" cy="492.87" r="1.15" fill="#fff" fill-opacity="0.6" stroke="#ff7f0a" stroke-width="0.8"/>
<path d="M78.06 450.55L79.55 450.61L81.04 450.67L82.53 450.74L84.03 450.83L85.52 450.93L87.01 451.05L88.5 451.2L90 451.37L91.49 451.57L92.98 451.81L94.47 452.09L95.97 452.42L97.46 452.8L98.95 453.26L100.45 453.78L101.94 454.39L103.43 455.09L104.92 455.89L106.42 456.81L107.91 457.84L109.4 459L110.89 460.29L112.39 461.7L113.88 463.24L115.37 464.89L116.86 466.63L118.36 468.45L119.85 470.33L121.34 472.22L122.83 474.12L124.33 475.98L125.82 477.78L127.31 479.49L128.81 481.11L130.3 482.61L131.79 483.98L133.28 485.23L134.78 486.35L136.27 487.34L137.76 488.22L139.25 488.99L140.75 489.66L142.24 490.25L143.73 490.75L145.22 491.18L146.72 491.54L148.21 491.86L149.7 492.12L151.19 492.35L152.69 492.54L154.18 492.71L155.67 492.84L157.17 492.96L158.66 493.06L160.15 493.14L161.64 493.21L163.14 493.27L164.63 493.31L166.12 493.36" fill="none" stroke="#ff7f0a" stroke-width="1.15" stroke-linejoin="round"/>
<line x1="78.06" y1="455.09" x2="78.06" y2="461.9" stroke="#d2121e" stroke-width="0.8"/>
<line x1="76.46" y1="455.09" x2="79.66" y2="455.09" stroke="#d2121e" stroke-width="0.8"/>
<line x1="76.46" y1="461.9" x2="79.66" y2="461.9" stroke="#d2121e" stroke-width="0.8"/>
<circle cx="78.06" cy="458.49" r="1.15" fill="#fff" fill-opacity="0.6" stroke="#d2121e" stroke-width="0.8"/>
<line x1="87.84" y1="454.6" x2="87.84" y2="462.38" stroke="#d2121e" stroke-width="0.8"/>
<line x1="86.24" y1="454.6" x2="89.44" y2="454.6" stroke="#d2121e" stroke-width="0.8"/>
<line x1="86.24" y1="462.38" x2="89.44" y2="462.38" stroke="#d2121e" stroke-width="0.8"/>
<circle cx="87.84" cy="458.49" r="1.15" fill="#fff" fill-opacity="0.6" stroke="#d2121e" stroke-width="0.8"/>
<line x1="97.63" y1="458.97" x2="97.63" y2="461.89" stroke="#d2121e" stroke-width="0.8"/>
<line x1="96.03" y1="458.97" x2="99.23" y2="458.97" stroke="#d2121e" stroke-width="0.8"/>
<line x1="96.03" y1="461.89" x2="99.23" y2="461.89" stroke="#d2121e" stroke-width="0.8"/>
<circle cx="97.63" cy="460.43" r="1.15" fill="#fff" fill-opacity="0.6" stroke="#d2121e" stroke-width="0.8"/>
<line x1="107.41" y1="465.56" x2="107.41" y2="471.4" stroke="#d2121e" stroke-width="0.8"/>
<line x1="105.81" y1="465.56" x2="109.01" y2="465.56" stroke="#d2121e" stroke-width="0.8"/>
<line x1="105.81" y1="471.4" x2="109.01" y2="471.4" stroke="#d2121e" stroke-width="0.8"/>
<circle cx="107.41" cy="468.48" r="1.15" fill="#fff" fill-opacity="0.6" stroke="#d2121e" stroke-width="0.8"/>
<line x1="117.2" y1="476.06" x2="117.2" y2="480.92" stroke="#d2121e" stroke-width="0.8"/>
<line x1="115.6" y1="476.06" x2="118.8" y2="476.06" stroke="#d2121e" stroke-width="0.8"/>
<line x1="115.6" y1="480.92" x2="118.8" y2="480.92" stroke="#d2121e" stroke-width="0.8"/>
<circle cx="117.2" cy="478.49" r="1.15" fill="#fff" fill-opacity="0.6" stroke="#d2121e" stroke-width="0.8"/>
<line x1="126.98" y1="486.07" x2="126.98" y2="488.99" stroke="#d2121e" stroke-width="0.8"/>
<line x1="125.38" y1="486.07" x2="128.58" y2="486.07" stroke="#d2121e" stroke-width="0.8"/>
<line x1="125.38" y1="488.99" x2="128.58" y2="488.99" stroke="#d2121e" stroke-width="0.8"/>
<circle cx="126.98" cy="487.53" r="1.15" fill="#fff" fill-opacity="0.6" stroke="#d2121e" stroke-width="0.8"/>
<line x1="136.77" y1="488.92" x2="136.77" y2="492.82" stroke="#d2121e" stroke-width="0.8"/>
<line x1="135.17" y1="488.92" x2="138.37" y2="488.92" stroke="#d2121e" stroke-width="0.8"/>
<line x1="135.17" y1="492.82" x2="138.37" y2="492.82" stroke="#d2121e" stroke-width="0.8"/>
<circle cx="136.77" cy="490.87" r="1.15" fill="#fff" fill-opacity="0.6" stroke="#d2121e" stroke-width="0.8"/>
<line x1="146.55" y1="492.88" x2="146.55" y2="494.83" stroke="#d2121e" stroke-width="0.8"/>
<line x1="144.95" y1="492.88" x2="148.15" y2="492.88" stroke="#d2121e" stroke-width="0.8"/>
<line x1="144.95" y1="494.83" x2="148.15" y2="494.83" stroke="#d2121e" stroke-width="0.8"/>
<circle cx="146.55" cy="493.86" r="1.15" fill="#fff" fill-opacity="0.6" stroke="#d2121e" stroke-width="0.8"/>
<line x1="156.34" y1="492.39" x2="156.34" y2="495.31" stroke="#d2121e" stroke-width="0.8"/>
<line x1="154.74" y1="492.39" x2="157.94" y2="492.39" stroke="#d2121e" stroke-width="0.8"/>
<line x1="154.74" y1="495.31" x2="157.94" y2="495.31" stroke="#d2121e" stroke-width="0.8"/>
<circle cx="156.34" cy="493.85" r="1.15" fill="#fff" fill-opacity="0.6" stroke="#d2121e" stroke-width="0.8"/>
<line x1="166.12" y1="492.54" x2="166.12" y2="497.4" stroke="#d2121e" stroke-width="0.8"/>
<line x1="164.52" y1="492.54" x2="167.72" y2="492.54" stroke="#d2121e" stroke-width="0.8"/>
<line x1="164.52" y1="497.4" x2="167.72" y2="497.4" stroke="#d2121e" stroke-width="0.8"/>
<circle cx="166.12" cy="494.97" r="1.15" fill="#fff" fill-opacity="0.6" stroke="#d2121e" stroke-width="0.8"/>
<path d="M78.06 456.55L79.55 456.63L81.04 456.74L82.53 456.86L84.03 457L85.52 457.18L87.01 457.38L88.5 457.63L90 457.92L91.49 458.27L92.98 458.67L94.47 459.15L95.97 459.7L97.46 460.35L98.95 461.09L100.45 461.95L101.94 462.91L103.43 464L104.92 465.22L106.42 466.55L107.91 468.01L109.4 469.56L110.89 471.2L112.39 472.9L113.88 474.64L115.37 476.39L116.86 478.11L118.36 479.79L119.85 481.39L121.34 482.9L122.83 484.29L124.33 485.57L125.82 486.72L127.31 487.75L128.81 488.66L130.3 489.46L131.79 490.16L133.28 490.76L134.78 491.27L136.27 491.71L137.76 492.09L139.25 492.4L140.75 492.67L142.24 492.9L143.73 493.09L145.22 493.25L146.72 493.38L148.21 493.49L149.7 493.59L151.19 493.67L152.69 493.73L154.18 493.79L155.67 493.83L157.17 493.87L158.66 493.9L160.15 493.93L161.64 493.95L163.14 493.97L164.63 493.98L166.12 494" fill="none" stroke="#d2121e" stroke-width="1.15" stroke-linejoin="round"/>
<line x1="62.4" y1="430.1" x2="62.4" y2="503.75" stroke="#000" stroke-width="1"/>
<line x1="61.9" y1="503.3" x2="180.22" y2="503.3" stroke="#000" stroke-width="1"/>
<line x1="59.4" y1="503.3" x2="62.4" y2="503.3" stroke="#000" stroke-width="0.9"/>
<text x="56.8" y="506.1" font-size="7.8" text-anchor="end" stroke="#1a1a1a" stroke-width="0.15">0</text>
<line x1="59.4" y1="478.98" x2="62.4" y2="478.98" stroke="#000" stroke-width="0.9"/>
<text x="56.8" y="481.78" font-size="7.8" text-anchor="end" stroke="#1a1a1a" stroke-width="0.15">50</text>
<line x1="59.4" y1="454.66" x2="62.4" y2="454.66" stroke="#000" stroke-width="0.9"/>
<text x="56.8" y="457.46" font-size="7.8" text-anchor="end" stroke="#1a1a1a" stroke-width="0.15">100</text>
<line x1="59.4" y1="430.34" x2="62.4" y2="430.34" stroke="#000" stroke-width="0.9"/>
<text x="56.8" y="433.14" font-size="7.8" text-anchor="end" stroke="#1a1a1a" stroke-width="0.15">150</text>
<line x1="62.4" y1="503.3" x2="62.4" y2="506.3" stroke="#000" stroke-width="0.9"/>
<text transform="translate(60.7 515.8) scale(0.97 1)" font-size="8.1" text-anchor="middle" stroke="#1a1a1a" stroke-width="0.15">−11</text>
<line x1="81.97" y1="503.3" x2="81.97" y2="506.3" stroke="#000" stroke-width="0.9"/>
<text transform="translate(80.27 515.8) scale(0.97 1)" font-size="8.1" text-anchor="middle" stroke="#1a1a1a" stroke-width="0.15">−10</text>
<line x1="101.54" y1="503.3" x2="101.54" y2="506.3" stroke="#000" stroke-width="0.9"/>
<text transform="translate(99.84 515.8) scale(0.97 1)" font-size="8.1" text-anchor="middle" stroke="#1a1a1a" stroke-width="0.15">−9</text>
<line x1="121.11" y1="503.3" x2="121.11" y2="506.3" stroke="#000" stroke-width="0.9"/>
<text transform="translate(119.41 515.8) scale(0.97 1)" font-size="8.1" text-anchor="middle" stroke="#1a1a1a" stroke-width="0.15">−8</text>
<line x1="140.68" y1="503.3" x2="140.68" y2="506.3" stroke="#000" stroke-width="0.9"/>
<text transform="translate(138.98 515.8) scale(0.97 1)" font-size="8.1" text-anchor="middle" stroke="#1a1a1a" stroke-width="0.15">−7</text>
<line x1="160.25" y1="503.3" x2="160.25" y2="506.3" stroke="#000" stroke-width="0.9"/>
<text transform="translate(158.55 515.8) scale(0.97 1)" font-size="8.1" text-anchor="middle" stroke="#1a1a1a" stroke-width="0.15">−6</text>
<line x1="179.82" y1="503.3" x2="179.82" y2="506.3" stroke="#000" stroke-width="0.9"/>
<text transform="translate(178.12 515.8) scale(0.97 1)" font-size="8.1" text-anchor="middle" stroke="#1a1a1a" stroke-width="0.15">−5</text>
<text transform="translate(121.2 418.3) scale(1.09 1)" font-size="7.7" text-anchor="middle" fill="#000" font-weight="bold" stroke="#000" stroke-width="0.2">KIN-8194</text>
<text transform="translate(37.4 467) rotate(-90) scale(0.8 1)" font-size="9.2" text-anchor="middle" stroke="#1a1a1a" stroke-width="0.1">RLUs (DMSO norm)</text>
<text transform="translate(121.4 528.7) scale(0.77 1)" font-size="9.6" text-anchor="middle" stroke="#1a1a1a" stroke-width="0.1">Log10 (Dose) (M)</text>
<line x1="179.5" y1="431.2" x2="185.9" y2="431.2" stroke="#d2121e" stroke-width="0.9"/>
<circle cx="182.7" cy="431.2" r="1.35" fill="#d2121e"/>
<text x="188.6" y="434" font-size="7.7">BCWM.1</text>
<line x1="179.5" y1="439.9" x2="185.9" y2="439.9" stroke="#ff7f0a" stroke-width="0.9"/>
<circle cx="182.7" cy="439.9" r="1.35" fill="#ff7f0a"/>
<text x="188.6" y="442.7" font-size="7.7">MWCL-1</text>
<line x1="179.5" y1="448.8" x2="185.9" y2="448.8" stroke="#8fd44e" stroke-width="0.9"/>
<circle cx="182.7" cy="448.8" r="1.35" fill="#8fd44e"/>
<text x="188.6" y="451.6" font-size="7.7">TMD8</text>
<line x1="179.5" y1="457.5" x2="185.9" y2="457.5" stroke="#12681c" stroke-width="0.9"/>
<circle cx="182.7" cy="457.5" r="1.35" fill="#12681c"/>
<text x="188.6" y="460.3" font-size="7.7">HBL-1</text>
<line x1="179.5" y1="466.3" x2="185.9" y2="466.3" stroke="#35c9fa" stroke-width="0.9"/>
<circle cx="182.7" cy="466.3" r="1.35" fill="#35c9fa"/>
<text x="188.6" y="469.1" font-size="7.7">OCI-Ly7</text>
<line x1="179.5" y1="475.2" x2="185.9" y2="475.2" stroke="#1b12a8" stroke-width="0.9"/>
<circle cx="182.7" cy="475.2" r="1.35" fill="#1b12a8"/>
<text x="188.6" y="478" font-size="7.7">OCI-Ly19</text>
<line x1="179.5" y1="483.6" x2="185.9" y2="483.6" stroke="#0a35c0" stroke-width="0.9"/>
<circle cx="182.7" cy="483.6" r="1.35" fill="#0a35c0"/>
<text x="188.6" y="486.4" font-size="7.7">Ramos</text>
<line x1="179.5" y1="492.5" x2="185.9" y2="492.5" stroke="#2fee12" stroke-width="0.9"/>
<circle cx="182.7" cy="492.5" r="1.35" fill="#2fee12"/>
<text x="188.6" y="495.3" font-size="7.7">RPMI-8226</text>
<path d="M229.2 428.7H232.4V459.2H229.2M232.4 443.95H234" fill="none" stroke="#cf1f2e" stroke-width="0.95"/>
<path d="M229.2 465H232.4V494.7H229.2M232.4 479.85H234" fill="none" stroke="#1f4fc0" stroke-width="0.95"/>
<text x="238.7" y="440.5" font-size="7.8" fill="#cf1f2e">MYD88</text>
<text x="238.7" y="450.3" font-size="7.8" fill="#cf1f2e">L265P</text>
<text x="238.7" y="478.2" font-size="7.8" fill="#1f4fc0">MYD88</text>
<text x="238.7" y="486.8" font-size="7.8" fill="#1f4fc0">WT</text>
<circle cx="340.98" cy="473.14" r="1.15" fill="#fff" fill-opacity="0.6" stroke="#8fd44e" stroke-width="0.8"/>
<circle cx="349.28" cy="484.82" r="1.15" fill="#fff" fill-opacity="0.6" stroke="#8fd44e" stroke-width="0.8"/>
<circle cx="357.58" cy="491.14" r="1.15" fill="#fff" fill-opacity="0.6" stroke="#8fd44e" stroke-width="0.8"/>
<circle cx="365.88" cy="494.06" r="1.15" fill="#fff" fill-opacity="0.6" stroke="#8fd44e" stroke-width="0.8"/>
<circle cx="374.18" cy="495.27" r="1.15" fill="#fff" fill-opacity="0.6" stroke="#8fd44e" stroke-width="0.8"/>
<circle cx="382.48" cy="496" r="1.15" fill="#fff" fill-opacity="0.6" stroke="#8fd44e" stroke-width="0.8"/>
<circle cx="390.78" cy="496.49" r="1.15" fill="#fff" fill-opacity="0.6" stroke="#8fd44e" stroke-width="0.8"/>
<circle cx="399.08" cy="497.12" r="1.15" fill="#fff" fill-opacity="0.6" stroke="#8fd44e" stroke-width="0.8"/>
<circle cx="407.38" cy="498.73" r="1.15" fill="#fff" fill-opacity="0.6" stroke="#8fd44e" stroke-width="0.8"/>
<circle cx="415.68" cy="501.06" r="1.15" fill="#fff" fill-opacity="0.6" stroke="#8fd44e" stroke-width="0.8"/>
<path d="M340.98 473.14L342.24 475.29L343.51 477.32L344.78 479.24L346.04 481.02L347.31 482.64L348.57 484.09L349.84 485.37L351.11 486.55L352.37 487.65L353.64 488.67L354.91 489.58L356.17 490.39L357.44 491.07L358.7 491.66L359.97 492.21L361.24 492.7L362.5 493.15L363.77 493.54L365.03 493.87L366.3 494.14L367.57 494.38L368.83 494.59L370.1 494.78L371.36 494.95L372.63 495.1L373.9 495.24L375.16 495.38L376.43 495.51L377.69 495.62L378.96 495.73L380.23 495.84L381.49 495.93L382.76 496.02L384.03 496.1L385.29 496.18L386.56 496.25L387.82 496.32L389.09 496.39L390.36 496.46L391.62 496.55L392.89 496.63L394.15 496.71L395.42 496.8L396.69 496.9L397.95 497.01L399.22 497.14L400.48 497.31L401.75 497.52L403.02 497.76L404.28 498.02L405.55 498.31L406.82 498.6L408.08 498.89L409.35 499.21L410.61 499.54L411.88 499.9L413.15 500.27L414.41 500.66L415.68 501.06" fill="none" stroke="#8fd44e" stroke-width="1.15" stroke-linejoin="round"/>
<line x1="340.98" y1="464.39" x2="340.98" y2="468.28" stroke="#12681c" stroke-width="0.8"/>
<line x1="339.38" y1="464.39" x2="342.58" y2="464.39" stroke="#12681c" stroke-width="0.8"/>
<line x1="339.38" y1="468.28" x2="342.58" y2="468.28" stroke="#12681c" stroke-width="0.8"/>
<circle cx="340.98" cy="466.33" r="1.15" fill="#fff" fill-opacity="0.6" stroke="#12681c" stroke-width="0.8"/>
<line x1="349.28" y1="470.22" x2="349.28" y2="474.12" stroke="#12681c" stroke-width="0.8"/>
<line x1="347.68" y1="470.22" x2="350.88" y2="470.22" stroke="#12681c" stroke-width="0.8"/>
<line x1="347.68" y1="474.12" x2="350.88" y2="474.12" stroke="#12681c" stroke-width="0.8"/>
<circle cx="349.28" cy="472.17" r="1.15" fill="#fff" fill-opacity="0.6" stroke="#12681c" stroke-width="0.8"/>
<line x1="357.58" y1="477.52" x2="357.58" y2="480.44" stroke="#12681c" stroke-width="0.8"/>
<line x1="355.98" y1="477.52" x2="359.18" y2="477.52" stroke="#12681c" stroke-width="0.8"/>
<line x1="355.98" y1="480.44" x2="359.18" y2="480.44" stroke="#12681c" stroke-width="0.8"/>
<circle cx="357.58" cy="478.98" r="1.15" fill="#fff" fill-opacity="0.6" stroke="#12681c" stroke-width="0.8"/>
<line x1="365.88" y1="484.33" x2="365.88" y2="486.28" stroke="#12681c" stroke-width="0.8"/>
<line x1="364.28" y1="484.33" x2="367.48" y2="484.33" stroke="#12681c" stroke-width="0.8"/>
<line x1="364.28" y1="486.28" x2="367.48" y2="486.28" stroke="#12681c" stroke-width="0.8"/>
<circle cx="365.88" cy="485.3" r="1.15" fill="#fff" fill-opacity="0.6" stroke="#12681c" stroke-width="0.8"/>
<line x1="374.18" y1="487.74" x2="374.18" y2="488.71" stroke="#12681c" stroke-width="0.8"/>
<line x1="372.58" y1="487.74" x2="375.78" y2="487.74" stroke="#12681c" stroke-width="0.8"/>
<line x1="372.58" y1="488.71" x2="375.78" y2="488.71" stroke="#12681c" stroke-width="0.8"/>
<circle cx="374.18" cy="488.22" r="1.15" fill="#fff" fill-opacity="0.6" stroke="#12681c" stroke-width="0.8"/>
<line x1="382.48" y1="488.95" x2="382.48" y2="489.92" stroke="#12681c" stroke-width="0.8"/>
<line x1="380.88" y1="488.95" x2="384.08" y2="488.95" stroke="#12681c" stroke-width="0.8"/>
<line x1="380.88" y1="489.92" x2="384.08" y2="489.92" stroke="#12681c" stroke-width="0.8"/>
<circle cx="382.48" cy="489.44" r="1.15" fill="#fff" fill-opacity="0.6" stroke="#12681c" stroke-width="0.8"/>
<line x1="390.78" y1="489.19" x2="390.78" y2="491.14" stroke="#12681c" stroke-width="0.8"/>
<line x1="389.18" y1="489.19" x2="392.38" y2="489.19" stroke="#12681c" stroke-width="0.8"/>
<line x1="389.18" y1="491.14" x2="392.38" y2="491.14" stroke="#12681c" stroke-width="0.8"/>
<circle cx="390.78" cy="490.17" r="1.15" fill="#fff" fill-opacity="0.6" stroke="#12681c" stroke-width="0.8"/>
<line x1="399.08" y1="491.14" x2="399.08" y2="494.06" stroke="#12681c" stroke-width="0.8"/>
<line x1="397.48" y1="491.14" x2="400.68" y2="491.14" stroke="#12681c" stroke-width="0.8"/>
<line x1="397.48" y1="494.06" x2="400.68" y2="494.06" stroke="#12681c" stroke-width="0.8"/>
<circle cx="399.08" cy="492.6" r="1.15" fill="#fff" fill-opacity="0.6" stroke="#12681c" stroke-width="0.8"/>
<line x1="407.38" y1="493.09" x2="407.38" y2="495.03" stroke="#12681c" stroke-width="0.8"/>
<line x1="405.78" y1="493.09" x2="408.98" y2="493.09" stroke="#12681c" stroke-width="0.8"/>
<line x1="405.78" y1="495.03" x2="408.98" y2="495.03" stroke="#12681c" stroke-width="0.8"/>
<circle cx="407.38" cy="494.06" r="1.15" fill="#fff" fill-opacity="0.6" stroke="#12681c" stroke-width="0.8"/>
<line x1="415.68" y1="496" x2="415.68" y2="497.95" stroke="#12681c" stroke-width="0.8"/>
<line x1="414.08" y1="496" x2="417.28" y2="496" stroke="#12681c" stroke-width="0.8"/>
<line x1="414.08" y1="497.95" x2="417.28" y2="497.95" stroke="#12681c" stroke-width="0.8"/>
<circle cx="415.68" cy="496.98" r="1.15" fill="#fff" fill-opacity="0.6" stroke="#12681c" stroke-width="0.8"/>
<path d="M340.98 466.33L342.24 467.44L343.51 468.52L344.78 469.57L346.04 470.61L347.31 471.62L348.57 472.61L349.84 473.57L351.11 474.51L352.37 475.43L353.64 476.33L354.91 477.21L356.17 478.06L357.44 478.89L358.7 479.7L359.97 480.5L361.24 481.28L362.5 482.03L363.77 482.75L365.03 483.42L366.3 484.05L367.57 484.64L368.83 485.2L370.1 485.74L371.36 486.25L372.63 486.72L373.9 487.16L375.16 487.56L376.43 487.93L377.69 488.27L378.96 488.6L380.23 488.91L381.49 489.21L382.76 489.5L384.03 489.78L385.29 490.06L386.56 490.32L387.82 490.57L389.09 490.82L390.36 491.06L391.62 491.3L392.89 491.53L394.15 491.75L395.42 491.97L396.69 492.19L397.95 492.4L399.22 492.62L400.48 492.83L401.75 493.03L403.02 493.23L404.28 493.44L405.55 493.67L406.82 493.93L408.08 494.23L409.35 494.59L410.61 494.99L411.88 495.43L413.15 495.92L414.41 496.43L415.68 496.98" fill="none" stroke="#12681c" stroke-width="1.15" stroke-linejoin="round"/>
<line x1="340.98" y1="457.09" x2="340.98" y2="462.93" stroke="#d2121e" stroke-width="0.8"/>
<line x1="339.38" y1="457.09" x2="342.58" y2="457.09" stroke="#d2121e" stroke-width="0.8"/>
<line x1="339.38" y1="462.93" x2="342.58" y2="462.93" stroke="#d2121e" stroke-width="0.8"/>
<circle cx="340.98" cy="460.01" r="1.15" fill="#fff" fill-opacity="0.6" stroke="#d2121e" stroke-width="0.8"/>
<line x1="349.28" y1="458.06" x2="349.28" y2="464.87" stroke="#d2121e" stroke-width="0.8"/>
<line x1="347.68" y1="458.06" x2="350.88" y2="458.06" stroke="#d2121e" stroke-width="0.8"/>
<line x1="347.68" y1="464.87" x2="350.88" y2="464.87" stroke="#d2121e" stroke-width="0.8"/>
<circle cx="349.28" cy="461.47" r="1.15" fill="#fff" fill-opacity="0.6" stroke="#d2121e" stroke-width="0.8"/>
<line x1="357.58" y1="459.52" x2="357.58" y2="468.28" stroke="#d2121e" stroke-width="0.8"/>
<line x1="355.98" y1="459.52" x2="359.18" y2="459.52" stroke="#d2121e" stroke-width="0.8"/>
<line x1="355.98" y1="468.28" x2="359.18" y2="468.28" stroke="#d2121e" stroke-width="0.8"/>
<circle cx="357.58" cy="463.9" r="1.15" fill="#fff" fill-opacity="0.6" stroke="#d2121e" stroke-width="0.8"/>
<line x1="365.88" y1="463.61" x2="365.88" y2="467.5" stroke="#d2121e" stroke-width="0.8"/>
<line x1="364.28" y1="463.61" x2="367.48" y2="463.61" stroke="#d2121e" stroke-width="0.8"/>
<line x1="364.28" y1="467.5" x2="367.48" y2="467.5" stroke="#d2121e" stroke-width="0.8"/>
<circle cx="365.88" cy="465.56" r="1.15" fill="#fff" fill-opacity="0.6" stroke="#d2121e" stroke-width="0.8"/>
<line x1="374.18" y1="465.85" x2="374.18" y2="472.66" stroke="#d2121e" stroke-width="0.8"/>
<line x1="372.58" y1="465.85" x2="375.78" y2="465.85" stroke="#d2121e" stroke-width="0.8"/>
<line x1="372.58" y1="472.66" x2="375.78" y2="472.66" stroke="#d2121e" stroke-width="0.8"/>
<circle cx="374.18" cy="469.25" r="1.15" fill="#fff" fill-opacity="0.6" stroke="#d2121e" stroke-width="0.8"/>
<line x1="382.48" y1="473.63" x2="382.48" y2="476.55" stroke="#d2121e" stroke-width="0.8"/>
<line x1="380.88" y1="473.63" x2="384.08" y2="473.63" stroke="#d2121e" stroke-width="0.8"/>
<line x1="380.88" y1="476.55" x2="384.08" y2="476.55" stroke="#d2121e" stroke-width="0.8"/>
<circle cx="382.48" cy="475.09" r="1.15" fill="#fff" fill-opacity="0.6" stroke="#d2121e" stroke-width="0.8"/>
<line x1="390.78" y1="477.52" x2="390.78" y2="480.44" stroke="#d2121e" stroke-width="0.8"/>
<line x1="389.18" y1="477.52" x2="392.38" y2="477.52" stroke="#d2121e" stroke-width="0.8"/>
<line x1="389.18" y1="480.44" x2="392.38" y2="480.44" stroke="#d2121e" stroke-width="0.8"/>
<circle cx="390.78" cy="478.98" r="1.15" fill="#fff" fill-opacity="0.6" stroke="#d2121e" stroke-width="0.8"/>
<line x1="399.08" y1="483.84" x2="399.08" y2="485.79" stroke="#d2121e" stroke-width="0.8"/>
<line x1="397.48" y1="483.84" x2="400.68" y2="483.84" stroke="#d2121e" stroke-width="0.8"/>
<line x1="397.48" y1="485.79" x2="400.68" y2="485.79" stroke="#d2121e" stroke-width="0.8"/>
<circle cx="399.08" cy="484.82" r="1.15" fill="#fff" fill-opacity="0.6" stroke="#d2121e" stroke-width="0.8"/>
<line x1="407.38" y1="489.68" x2="407.38" y2="492.6" stroke="#d2121e" stroke-width="0.8"/>
<line x1="405.78" y1="489.68" x2="408.98" y2="489.68" stroke="#d2121e" stroke-width="0.8"/>
<line x1="405.78" y1="492.6" x2="408.98" y2="492.6" stroke="#d2121e" stroke-width="0.8"/>
<circle cx="407.38" cy="491.14" r="1.15" fill="#fff" fill-opacity="0.6" stroke="#d2121e" stroke-width="0.8"/>
<line x1="415.68" y1="496.49" x2="415.68" y2="498.44" stroke="#d2121e" stroke-width="0.8"/>
<line x1="414.08" y1="496.49" x2="417.28" y2="496.49" stroke="#d2121e" stroke-width="0.8"/>
<line x1="414.08" y1="498.44" x2="417.28" y2="498.44" stroke="#d2121e" stroke-width="0.8"/>
<circle cx="415.68" cy="497.46" r="1.15" fill="#fff" fill-opacity="0.6" stroke="#d2121e" stroke-width="0.8"/>
<path d="M340.98 460.01L342.24 460.1L343.51 460.21L344.78 460.35L346.04 460.51L347.31 460.69L348.57 460.87L349.84 461.08L351.11 461.31L352.37 461.59L353.64 461.89L354.91 462.21L356.17 462.55L357.44 462.89L358.7 463.24L359.97 463.6L361.24 463.98L362.5 464.38L363.77 464.81L365.03 465.25L366.3 465.71L367.57 466.21L368.83 466.74L370.1 467.29L371.36 467.88L372.63 468.48L373.9 469.11L375.16 469.77L376.43 470.48L377.69 471.22L378.96 471.99L380.23 472.76L381.49 473.53L382.76 474.28L384.03 475.01L385.29 475.73L386.56 476.45L387.82 477.18L389.09 477.93L390.36 478.71L391.62 479.53L392.89 480.38L394.15 481.26L395.42 482.15L396.69 483.07L397.95 483.99L399.22 484.92L400.48 485.86L401.75 486.82L403.02 487.78L404.28 488.76L405.55 489.74L406.82 490.71L408.08 491.68L409.35 492.64L410.61 493.6L411.88 494.57L413.15 495.53L414.41 496.5L415.68 497.46" fill="none" stroke="#d2121e" stroke-width="1.15" stroke-linejoin="round"/>
<line x1="340.98" y1="453.88" x2="340.98" y2="458.75" stroke="#ff7f0a" stroke-width="0.8"/>
<line x1="339.38" y1="453.88" x2="342.58" y2="453.88" stroke="#ff7f0a" stroke-width="0.8"/>
<line x1="339.38" y1="458.75" x2="342.58" y2="458.75" stroke="#ff7f0a" stroke-width="0.8"/>
<circle cx="340.98" cy="456.31" r="1.15" fill="#fff" fill-opacity="0.6" stroke="#ff7f0a" stroke-width="0.8"/>
<line x1="349.28" y1="454.76" x2="349.28" y2="460.59" stroke="#ff7f0a" stroke-width="0.8"/>
<line x1="347.68" y1="454.76" x2="350.88" y2="454.76" stroke="#ff7f0a" stroke-width="0.8"/>
<line x1="347.68" y1="460.59" x2="350.88" y2="460.59" stroke="#ff7f0a" stroke-width="0.8"/>
<circle cx="349.28" cy="457.68" r="1.15" fill="#fff" fill-opacity="0.6" stroke="#ff7f0a" stroke-width="0.8"/>
<line x1="357.58" y1="457.09" x2="357.58" y2="461.96" stroke="#ff7f0a" stroke-width="0.8"/>
<line x1="355.98" y1="457.09" x2="359.18" y2="457.09" stroke="#ff7f0a" stroke-width="0.8"/>
<line x1="355.98" y1="461.96" x2="359.18" y2="461.96" stroke="#ff7f0a" stroke-width="0.8"/>
<circle cx="357.58" cy="459.52" r="1.15" fill="#fff" fill-opacity="0.6" stroke="#ff7f0a" stroke-width="0.8"/>
<line x1="365.88" y1="459.04" x2="365.88" y2="462.93" stroke="#ff7f0a" stroke-width="0.8"/>
<line x1="364.28" y1="459.04" x2="367.48" y2="459.04" stroke="#ff7f0a" stroke-width="0.8"/>
<line x1="364.28" y1="462.93" x2="367.48" y2="462.93" stroke="#ff7f0a" stroke-width="0.8"/>
<circle cx="365.88" cy="460.98" r="1.15" fill="#fff" fill-opacity="0.6" stroke="#ff7f0a" stroke-width="0.8"/>
<line x1="374.18" y1="460.5" x2="374.18" y2="467.31" stroke="#ff7f0a" stroke-width="0.8"/>
<line x1="372.58" y1="460.5" x2="375.78" y2="460.5" stroke="#ff7f0a" stroke-width="0.8"/>
<line x1="372.58" y1="467.31" x2="375.78" y2="467.31" stroke="#ff7f0a" stroke-width="0.8"/>
<circle cx="374.18" cy="463.9" r="1.15" fill="#fff" fill-opacity="0.6" stroke="#ff7f0a" stroke-width="0.8"/>
<line x1="382.48" y1="464.87" x2="382.48" y2="472.66" stroke="#ff7f0a" stroke-width="0.8"/>
<line x1="380.88" y1="464.87" x2="384.08" y2="464.87" stroke="#ff7f0a" stroke-width="0.8"/>
<line x1="380.88" y1="472.66" x2="384.08" y2="472.66" stroke="#ff7f0a" stroke-width="0.8"/>
<circle cx="382.48" cy="468.77" r="1.15" fill="#fff" fill-opacity="0.6" stroke="#ff7f0a" stroke-width="0.8"/>
<line x1="390.78" y1="474.12" x2="390.78" y2="477.03" stroke="#ff7f0a" stroke-width="0.8"/>
<line x1="389.18" y1="474.12" x2="392.38" y2="474.12" stroke="#ff7f0a" stroke-width="0.8"/>
<line x1="389.18" y1="477.03" x2="392.38" y2="477.03" stroke="#ff7f0a" stroke-width="0.8"/>
<circle cx="390.78" cy="475.58" r="1.15" fill="#fff" fill-opacity="0.6" stroke="#ff7f0a" stroke-width="0.8"/>
<line x1="399.08" y1="481.02" x2="399.08" y2="483.94" stroke="#ff7f0a" stroke-width="0.8"/>
<line x1="397.48" y1="481.02" x2="400.68" y2="481.02" stroke="#ff7f0a" stroke-width="0.8"/>
<line x1="397.48" y1="483.94" x2="400.68" y2="483.94" stroke="#ff7f0a" stroke-width="0.8"/>
<circle cx="399.08" cy="482.48" r="1.15" fill="#fff" fill-opacity="0.6" stroke="#ff7f0a" stroke-width="0.8"/>
<line x1="407.38" y1="487.98" x2="407.38" y2="490.9" stroke="#ff7f0a" stroke-width="0.8"/>
<line x1="405.78" y1="487.98" x2="408.98" y2="487.98" stroke="#ff7f0a" stroke-width="0.8"/>
<line x1="405.78" y1="490.9" x2="408.98" y2="490.9" stroke="#ff7f0a" stroke-width="0.8"/>
<circle cx="407.38" cy="489.44" r="1.15" fill="#fff" fill-opacity="0.6" stroke="#ff7f0a" stroke-width="0.8"/>
<line x1="415.68" y1="495.52" x2="415.68" y2="497.46" stroke="#ff7f0a" stroke-width="0.8"/>
<line x1="414.08" y1="495.52" x2="417.28" y2="495.52" stroke="#ff7f0a" stroke-width="0.8"/>
<line x1="414.08" y1="497.46" x2="417.28" y2="497.46" stroke="#ff7f0a" stroke-width="0.8"/>
<circle cx="415.68" cy="496.49" r="1.15" fill="#fff" fill-opacity="0.6" stroke="#ff7f0a" stroke-width="0.8"/>
<path d="M340.98 456.31L342.24 456.49L343.51 456.68L344.78 456.88L346.04 457.09L347.31 457.31L348.57 457.54L349.84 457.79L351.11 458.05L352.37 458.34L353.64 458.64L354.91 458.94L356.17 459.23L357.44 459.5L358.7 459.73L359.97 459.94L361.24 460.14L362.5 460.34L363.77 460.55L365.03 460.8L366.3 461.09L367.57 461.43L368.83 461.82L370.1 462.25L371.36 462.73L372.63 463.24L373.9 463.78L375.16 464.36L376.43 465L377.69 465.71L378.96 466.46L380.23 467.26L381.49 468.1L382.76 468.96L384.03 469.89L385.29 470.9L386.56 471.96L387.82 473.05L389.09 474.15L390.36 475.22L391.62 476.27L392.89 477.32L394.15 478.38L395.42 479.43L396.69 480.49L397.95 481.54L399.22 482.6L400.48 483.66L401.75 484.71L403.02 485.77L404.28 486.83L405.55 487.9L406.82 488.96L408.08 490.03L409.35 491.1L410.61 492.18L411.88 493.25L413.15 494.33L414.41 495.41L415.68 496.49" fill="none" stroke="#ff7f0a" stroke-width="1.15" stroke-linejoin="round"/>
<line x1="340.98" y1="452.24" x2="340.98" y2="455.16" stroke="#35c9fa" stroke-width="0.8"/>
<line x1="339.38" y1="452.24" x2="342.58" y2="452.24" stroke="#35c9fa" stroke-width="0.8"/>
<line x1="339.38" y1="455.16" x2="342.58" y2="455.16" stroke="#35c9fa" stroke-width="0.8"/>
<circle cx="340.98" cy="453.7" r="1.1" fill="#35c9fa"/>
<line x1="349.28" y1="450.82" x2="349.28" y2="454.71" stroke="#35c9fa" stroke-width="0.8"/>
<line x1="347.68" y1="450.82" x2="350.88" y2="450.82" stroke="#35c9fa" stroke-width="0.8"/>
<line x1="347.68" y1="454.71" x2="350.88" y2="454.71" stroke="#35c9fa" stroke-width="0.8"/>
<circle cx="349.28" cy="452.76" r="1.1" fill="#35c9fa"/>
<line x1="357.58" y1="451.89" x2="357.58" y2="455.78" stroke="#35c9fa" stroke-width="0.8"/>
<line x1="355.98" y1="451.89" x2="359.18" y2="451.89" stroke="#35c9fa" stroke-width="0.8"/>
<line x1="355.98" y1="455.78" x2="359.18" y2="455.78" stroke="#35c9fa" stroke-width="0.8"/>
<circle cx="357.58" cy="453.84" r="1.1" fill="#35c9fa"/>
<line x1="365.88" y1="452.7" x2="365.88" y2="455.62" stroke="#35c9fa" stroke-width="0.8"/>
<line x1="364.28" y1="452.7" x2="367.48" y2="452.7" stroke="#35c9fa" stroke-width="0.8"/>
<line x1="364.28" y1="455.62" x2="367.48" y2="455.62" stroke="#35c9fa" stroke-width="0.8"/>
<circle cx="365.88" cy="454.16" r="1.1" fill="#35c9fa"/>
<line x1="374.18" y1="453.68" x2="374.18" y2="456.6" stroke="#35c9fa" stroke-width="0.8"/>
<line x1="372.58" y1="453.68" x2="375.78" y2="453.68" stroke="#35c9fa" stroke-width="0.8"/>
<line x1="372.58" y1="456.6" x2="375.78" y2="456.6" stroke="#35c9fa" stroke-width="0.8"/>
<circle cx="374.18" cy="455.14" r="1.1" fill="#35c9fa"/>
<line x1="382.48" y1="456.55" x2="382.48" y2="459.47" stroke="#35c9fa" stroke-width="0.8"/>
<line x1="380.88" y1="456.55" x2="384.08" y2="456.55" stroke="#35c9fa" stroke-width="0.8"/>
<line x1="380.88" y1="459.47" x2="384.08" y2="459.47" stroke="#35c9fa" stroke-width="0.8"/>
<circle cx="382.48" cy="458.01" r="1.1" fill="#35c9fa"/>
<line x1="390.78" y1="463.74" x2="390.78" y2="466.65" stroke="#35c9fa" stroke-width="0.8"/>
<line x1="389.18" y1="463.74" x2="392.38" y2="463.74" stroke="#35c9fa" stroke-width="0.8"/>
<line x1="389.18" y1="466.65" x2="392.38" y2="466.65" stroke="#35c9fa" stroke-width="0.8"/>
<circle cx="390.78" cy="465.19" r="1.1" fill="#35c9fa"/>
<line x1="399.08" y1="476.46" x2="399.08" y2="479.38" stroke="#35c9fa" stroke-width="0.8"/>
<line x1="397.48" y1="476.46" x2="400.68" y2="476.46" stroke="#35c9fa" stroke-width="0.8"/>
<line x1="397.48" y1="479.38" x2="400.68" y2="479.38" stroke="#35c9fa" stroke-width="0.8"/>
<circle cx="399.08" cy="477.92" r="1.1" fill="#35c9fa"/>
<line x1="407.38" y1="489.5" x2="407.38" y2="492.42" stroke="#35c9fa" stroke-width="0.8"/>
<line x1="405.78" y1="489.5" x2="408.98" y2="489.5" stroke="#35c9fa" stroke-width="0.8"/>
<line x1="405.78" y1="492.42" x2="408.98" y2="492.42" stroke="#35c9fa" stroke-width="0.8"/>
<circle cx="407.38" cy="490.96" r="1.1" fill="#35c9fa"/>
<line x1="415.68" y1="497.62" x2="415.68" y2="499.57" stroke="#35c9fa" stroke-width="0.8"/>
<line x1="414.08" y1="497.62" x2="417.28" y2="497.62" stroke="#35c9fa" stroke-width="0.8"/>
<line x1="414.08" y1="499.57" x2="417.28" y2="499.57" stroke="#35c9fa" stroke-width="0.8"/>
<circle cx="415.68" cy="498.6" r="1.1" fill="#35c9fa"/>
<path d="M340.98 453.7L342.24 453.71L343.51 453.71L344.78 453.71L346.04 453.72L347.31 453.72L348.57 453.73L349.84 453.74L351.11 453.75L352.37 453.76L353.64 453.77L354.91 453.79L356.17 453.81L357.44 453.83L358.7 453.86L359.97 453.9L361.24 453.93L362.5 453.98L363.77 454.04L365.03 454.11L366.3 454.18L367.57 454.28L368.83 454.39L370.1 454.52L371.36 454.68L372.63 454.87L373.9 455.09L375.16 455.35L376.43 455.65L377.69 456.01L378.96 456.43L380.23 456.93L381.49 457.5L382.76 458.17L384.03 458.94L385.29 459.82L386.56 460.83L387.82 461.97L389.09 463.26L390.36 464.69L391.62 466.26L392.89 467.98L394.15 469.83L395.42 471.8L396.69 473.86L397.95 475.99L399.22 478.16L400.48 480.34L401.75 482.49L403.02 484.57L404.28 486.57L405.55 488.46L406.82 490.22L408.08 491.84L409.35 493.31L410.61 494.64L411.88 495.83L413.15 496.87L414.41 497.79L415.68 498.6" fill="none" stroke="#35c9fa" stroke-width="1.15" stroke-linejoin="round"/>
<line x1="340.98" y1="453.2" x2="340.98" y2="455.15" stroke="#2fee12" stroke-width="0.8"/>
<line x1="339.38" y1="453.2" x2="342.58" y2="453.2" stroke="#2fee12" stroke-width="0.8"/>
<line x1="339.38" y1="455.15" x2="342.58" y2="455.15" stroke="#2fee12" stroke-width="0.8"/>
<circle cx="340.98" cy="454.17" r="1.1" fill="#2fee12"/>
<line x1="349.28" y1="453.2" x2="349.28" y2="455.15" stroke="#2fee12" stroke-width="0.8"/>
<line x1="347.68" y1="453.2" x2="350.88" y2="453.2" stroke="#2fee12" stroke-width="0.8"/>
<line x1="347.68" y1="455.15" x2="350.88" y2="455.15" stroke="#2fee12" stroke-width="0.8"/>
<circle cx="349.28" cy="454.17" r="1.1" fill="#2fee12"/>
<line x1="357.58" y1="453.2" x2="357.58" y2="455.15" stroke="#2fee12" stroke-width="0.8"/>
<line x1="355.98" y1="453.2" x2="359.18" y2="453.2" stroke="#2fee12" stroke-width="0.8"/>
<line x1="355.98" y1="455.15" x2="359.18" y2="455.15" stroke="#2fee12" stroke-width="0.8"/>
<circle cx="357.58" cy="454.17" r="1.1" fill="#2fee12"/>
<line x1="365.88" y1="453.2" x2="365.88" y2="455.15" stroke="#2fee12" stroke-width="0.8"/>
<line x1="364.28" y1="453.2" x2="367.48" y2="453.2" stroke="#2fee12" stroke-width="0.8"/>
<line x1="364.28" y1="455.15" x2="367.48" y2="455.15" stroke="#2fee12" stroke-width="0.8"/>
<circle cx="365.88" cy="454.17" r="1.1" fill="#2fee12"/>
<line x1="374.18" y1="453.2" x2="374.18" y2="455.15" stroke="#2fee12" stroke-width="0.8"/>
<line x1="372.58" y1="453.2" x2="375.78" y2="453.2" stroke="#2fee12" stroke-width="0.8"/>
<line x1="372.58" y1="455.15" x2="375.78" y2="455.15" stroke="#2fee12" stroke-width="0.8"/>
<circle cx="374.18" cy="454.17" r="1.1" fill="#2fee12"/>
<line x1="382.48" y1="453.2" x2="382.48" y2="455.15" stroke="#2fee12" stroke-width="0.8"/>
<line x1="380.88" y1="453.2" x2="384.08" y2="453.2" stroke="#2fee12" stroke-width="0.8"/>
<line x1="380.88" y1="455.15" x2="384.08" y2="455.15" stroke="#2fee12" stroke-width="0.8"/>
<circle cx="382.48" cy="454.18" r="1.1" fill="#2fee12"/>
<line x1="390.78" y1="455.17" x2="390.78" y2="457.12" stroke="#2fee12" stroke-width="0.8"/>
<line x1="389.18" y1="455.17" x2="392.38" y2="455.17" stroke="#2fee12" stroke-width="0.8"/>
<line x1="389.18" y1="457.12" x2="392.38" y2="457.12" stroke="#2fee12" stroke-width="0.8"/>
<circle cx="390.78" cy="456.14" r="1.1" fill="#2fee12"/>
<line x1="399.08" y1="454.09" x2="399.08" y2="457" stroke="#2fee12" stroke-width="0.8"/>
<line x1="397.48" y1="454.09" x2="400.68" y2="454.09" stroke="#2fee12" stroke-width="0.8"/>
<line x1="397.48" y1="457" x2="400.68" y2="457" stroke="#2fee12" stroke-width="0.8"/>
<circle cx="399.08" cy="455.54" r="1.1" fill="#2fee12"/>
<line x1="407.38" y1="458.34" x2="407.38" y2="461.26" stroke="#2fee12" stroke-width="0.8"/>
<line x1="405.78" y1="458.34" x2="408.98" y2="458.34" stroke="#2fee12" stroke-width="0.8"/>
<line x1="405.78" y1="461.26" x2="408.98" y2="461.26" stroke="#2fee12" stroke-width="0.8"/>
<circle cx="407.38" cy="459.8" r="1.1" fill="#2fee12"/>
<circle cx="415.68" cy="487.2" r="1.1" fill="#2fee12"/>
<path d="M340.98 454.17L342.24 454.17L343.51 454.17L344.78 454.17L346.04 454.17L347.31 454.17L348.57 454.17L349.84 454.17L351.11 454.17L352.37 454.17L353.64 454.17L354.91 454.17L356.17 454.17L357.44 454.17L358.7 454.17L359.97 454.17L361.24 454.17L362.5 454.17L363.77 454.17L365.03 454.17L366.3 454.17L367.57 454.17L368.83 454.17L370.1 454.17L371.36 454.17L372.63 454.17L373.9 454.17L375.16 454.17L376.43 454.17L377.69 454.17L378.96 454.17L380.23 454.17L381.49 454.17L382.76 454.18L384.03 454.18L385.29 454.18L386.56 454.18L387.82 454.18L389.09 454.19L390.36 454.2L391.62 454.21L392.89 454.22L394.15 454.25L395.42 454.29L396.69 454.35L397.95 454.45L399.22 454.59L400.48 454.81L401.75 455.13L403.02 455.62L404.28 456.34L405.55 457.4L406.82 458.93L408.08 461.08L409.35 463.98L410.61 467.7L411.88 472.19L413.15 477.21L414.41 482.36L415.68 487.2" fill="none" stroke="#2fee12" stroke-width="1.15" stroke-linejoin="round"/>
<line x1="340.98" y1="450.77" x2="340.98" y2="453.69" stroke="#0a35c0" stroke-width="0.8"/>
<line x1="339.38" y1="450.77" x2="342.58" y2="450.77" stroke="#0a35c0" stroke-width="0.8"/>
<line x1="339.38" y1="453.69" x2="342.58" y2="453.69" stroke="#0a35c0" stroke-width="0.8"/>
<circle cx="340.98" cy="452.23" r="1.1" fill="#0a35c0"/>
<line x1="349.28" y1="450.77" x2="349.28" y2="453.69" stroke="#0a35c0" stroke-width="0.8"/>
<line x1="347.68" y1="450.77" x2="350.88" y2="450.77" stroke="#0a35c0" stroke-width="0.8"/>
<line x1="347.68" y1="453.69" x2="350.88" y2="453.69" stroke="#0a35c0" stroke-width="0.8"/>
<circle cx="349.28" cy="452.23" r="1.1" fill="#0a35c0"/>
<line x1="357.58" y1="450.77" x2="357.58" y2="453.69" stroke="#0a35c0" stroke-width="0.8"/>
<line x1="355.98" y1="450.77" x2="359.18" y2="450.77" stroke="#0a35c0" stroke-width="0.8"/>
<line x1="355.98" y1="453.69" x2="359.18" y2="453.69" stroke="#0a35c0" stroke-width="0.8"/>
<circle cx="357.58" cy="452.23" r="1.1" fill="#0a35c0"/>
<line x1="365.88" y1="450.77" x2="365.88" y2="453.69" stroke="#0a35c0" stroke-width="0.8"/>
<line x1="364.28" y1="450.77" x2="367.48" y2="450.77" stroke="#0a35c0" stroke-width="0.8"/>
<line x1="364.28" y1="453.69" x2="367.48" y2="453.69" stroke="#0a35c0" stroke-width="0.8"/>
<circle cx="365.88" cy="452.23" r="1.1" fill="#0a35c0"/>
<line x1="374.18" y1="450.78" x2="374.18" y2="453.69" stroke="#0a35c0" stroke-width="0.8"/>
<line x1="372.58" y1="450.78" x2="375.78" y2="450.78" stroke="#0a35c0" stroke-width="0.8"/>
<line x1="372.58" y1="453.69" x2="375.78" y2="453.69" stroke="#0a35c0" stroke-width="0.8"/>
<circle cx="374.18" cy="452.24" r="1.1" fill="#0a35c0"/>
<line x1="382.48" y1="450.84" x2="382.48" y2="453.76" stroke="#0a35c0" stroke-width="0.8"/>
<line x1="380.88" y1="450.84" x2="384.08" y2="450.84" stroke="#0a35c0" stroke-width="0.8"/>
<line x1="380.88" y1="453.76" x2="384.08" y2="453.76" stroke="#0a35c0" stroke-width="0.8"/>
<circle cx="382.48" cy="452.3" r="1.1" fill="#0a35c0"/>
<line x1="390.78" y1="451.5" x2="390.78" y2="454.41" stroke="#0a35c0" stroke-width="0.8"/>
<line x1="389.18" y1="451.5" x2="392.38" y2="451.5" stroke="#0a35c0" stroke-width="0.8"/>
<line x1="389.18" y1="454.41" x2="392.38" y2="454.41" stroke="#0a35c0" stroke-width="0.8"/>
<circle cx="390.78" cy="452.96" r="1.1" fill="#0a35c0"/>
<line x1="399.08" y1="457.22" x2="399.08" y2="460.14" stroke="#0a35c0" stroke-width="0.8"/>
<line x1="397.48" y1="457.22" x2="400.68" y2="457.22" stroke="#0a35c0" stroke-width="0.8"/>
<line x1="397.48" y1="460.14" x2="400.68" y2="460.14" stroke="#0a35c0" stroke-width="0.8"/>
<circle cx="399.08" cy="458.68" r="1.1" fill="#0a35c0"/>
<line x1="407.38" y1="480.47" x2="407.38" y2="484.36" stroke="#0a35c0" stroke-width="0.8"/>
<line x1="405.78" y1="480.47" x2="408.98" y2="480.47" stroke="#0a35c0" stroke-width="0.8"/>
<line x1="405.78" y1="484.36" x2="408.98" y2="484.36" stroke="#0a35c0" stroke-width="0.8"/>
<circle cx="407.38" cy="482.42" r="1.1" fill="#0a35c0"/>
<line x1="415.68" y1="498.54" x2="415.68" y2="501.45" stroke="#0a35c0" stroke-width="0.8"/>
<line x1="414.08" y1="498.54" x2="417.28" y2="498.54" stroke="#0a35c0" stroke-width="0.8"/>
<line x1="414.08" y1="501.45" x2="417.28" y2="501.45" stroke="#0a35c0" stroke-width="0.8"/>
<circle cx="415.68" cy="500" r="1.1" fill="#0a35c0"/>
<path d="M340.98 452.23L342.24 452.23L343.51 452.23L344.78 452.23L346.04 452.23L347.31 452.23L348.57 452.23L349.84 452.23L351.11 452.23L352.37 452.23L353.64 452.23L354.91 452.23L356.17 452.23L357.44 452.23L358.7 452.23L359.97 452.23L361.24 452.23L362.5 452.23L363.77 452.23L365.03 452.23L366.3 452.23L367.57 452.23L368.83 452.23L370.1 452.23L371.36 452.23L372.63 452.23L373.9 452.23L375.16 452.24L376.43 452.24L377.69 452.25L378.96 452.26L380.23 452.27L381.49 452.28L382.76 452.31L384.03 452.34L385.29 452.39L386.56 452.46L387.82 452.55L389.09 452.69L390.36 452.88L391.62 453.14L392.89 453.52L394.15 454.04L395.42 454.77L396.69 455.77L397.95 457.11L399.22 458.9L400.48 461.22L401.75 464.12L403.02 467.61L404.28 471.63L405.55 475.99L406.82 480.46L408.08 484.77L409.35 488.69L410.61 492.07L411.88 494.84L413.15 497.04L414.41 498.73L415.68 500" fill="none" stroke="#0a35c0" stroke-width="1.15" stroke-linejoin="round"/>
<line x1="340.98" y1="445.9" x2="340.98" y2="451.74" stroke="#1b12a8" stroke-width="0.8"/>
<line x1="339.38" y1="445.9" x2="342.58" y2="445.9" stroke="#1b12a8" stroke-width="0.8"/>
<line x1="339.38" y1="451.74" x2="342.58" y2="451.74" stroke="#1b12a8" stroke-width="0.8"/>
<circle cx="340.98" cy="448.82" r="1.1" fill="#1b12a8"/>
<line x1="349.28" y1="447.85" x2="349.28" y2="451.74" stroke="#1b12a8" stroke-width="0.8"/>
<line x1="347.68" y1="447.85" x2="350.88" y2="447.85" stroke="#1b12a8" stroke-width="0.8"/>
<line x1="347.68" y1="451.74" x2="350.88" y2="451.74" stroke="#1b12a8" stroke-width="0.8"/>
<circle cx="349.28" cy="449.8" r="1.1" fill="#1b12a8"/>
<line x1="357.58" y1="447.85" x2="357.58" y2="451.74" stroke="#1b12a8" stroke-width="0.8"/>
<line x1="355.98" y1="447.85" x2="359.18" y2="447.85" stroke="#1b12a8" stroke-width="0.8"/>
<line x1="355.98" y1="451.74" x2="359.18" y2="451.74" stroke="#1b12a8" stroke-width="0.8"/>
<circle cx="357.58" cy="449.8" r="1.1" fill="#1b12a8"/>
<line x1="365.88" y1="444.93" x2="365.88" y2="452.71" stroke="#1b12a8" stroke-width="0.8"/>
<line x1="364.28" y1="444.93" x2="367.48" y2="444.93" stroke="#1b12a8" stroke-width="0.8"/>
<line x1="364.28" y1="452.71" x2="367.48" y2="452.71" stroke="#1b12a8" stroke-width="0.8"/>
<circle cx="365.88" cy="448.82" r="1.1" fill="#1b12a8"/>
<line x1="374.18" y1="448.34" x2="374.18" y2="451.26" stroke="#1b12a8" stroke-width="0.8"/>
<line x1="372.58" y1="448.34" x2="375.78" y2="448.34" stroke="#1b12a8" stroke-width="0.8"/>
<line x1="372.58" y1="451.26" x2="375.78" y2="451.26" stroke="#1b12a8" stroke-width="0.8"/>
<circle cx="374.18" cy="449.8" r="1.1" fill="#1b12a8"/>
<line x1="382.48" y1="444.94" x2="382.48" y2="450.78" stroke="#1b12a8" stroke-width="0.8"/>
<line x1="380.88" y1="444.94" x2="384.08" y2="444.94" stroke="#1b12a8" stroke-width="0.8"/>
<line x1="380.88" y1="450.78" x2="384.08" y2="450.78" stroke="#1b12a8" stroke-width="0.8"/>
<circle cx="382.48" cy="447.86" r="1.1" fill="#1b12a8"/>
<line x1="390.78" y1="442.16" x2="390.78" y2="446.05" stroke="#1b12a8" stroke-width="0.8"/>
<line x1="389.18" y1="442.16" x2="392.38" y2="442.16" stroke="#1b12a8" stroke-width="0.8"/>
<line x1="389.18" y1="446.05" x2="392.38" y2="446.05" stroke="#1b12a8" stroke-width="0.8"/>
<circle cx="390.78" cy="444.1" r="1.1" fill="#1b12a8"/>
<line x1="399.08" y1="449.78" x2="399.08" y2="453.68" stroke="#1b12a8" stroke-width="0.8"/>
<line x1="397.48" y1="449.78" x2="400.68" y2="449.78" stroke="#1b12a8" stroke-width="0.8"/>
<line x1="397.48" y1="453.68" x2="400.68" y2="453.68" stroke="#1b12a8" stroke-width="0.8"/>
<circle cx="399.08" cy="451.73" r="1.1" fill="#1b12a8"/>
<line x1="407.38" y1="465.4" x2="407.38" y2="471.24" stroke="#1b12a8" stroke-width="0.8"/>
<line x1="405.78" y1="465.4" x2="408.98" y2="465.4" stroke="#1b12a8" stroke-width="0.8"/>
<line x1="405.78" y1="471.24" x2="408.98" y2="471.24" stroke="#1b12a8" stroke-width="0.8"/>
<circle cx="407.38" cy="468.32" r="1.1" fill="#1b12a8"/>
<line x1="415.68" y1="495.53" x2="415.68" y2="498.45" stroke="#1b12a8" stroke-width="0.8"/>
<line x1="414.08" y1="495.53" x2="417.28" y2="495.53" stroke="#1b12a8" stroke-width="0.8"/>
<line x1="414.08" y1="498.45" x2="417.28" y2="498.45" stroke="#1b12a8" stroke-width="0.8"/>
<circle cx="415.68" cy="496.99" r="1.1" fill="#1b12a8"/>
<path d="M340.98 449.8L342.24 449.8L343.51 449.8L344.78 449.8L346.04 449.8L347.31 449.8L348.57 449.8L349.84 449.8L351.11 449.8L352.37 449.8L353.64 449.8L354.91 449.8L356.17 449.8L357.44 449.8L358.7 449.8L359.97 449.8L361.24 449.8L362.5 449.8L363.77 449.8L365.03 449.8L366.3 449.8L367.57 449.8L368.83 449.8L370.1 449.8L371.36 449.8L372.63 449.8L373.9 449.8L375.16 449.8L376.43 449.8L377.69 449.8L378.96 449.8L380.23 449.8L381.49 449.8L382.76 449.81L384.03 449.81L385.29 449.82L386.56 449.83L387.82 449.85L389.09 449.88L390.36 449.92L391.62 449.98L392.89 450.07L394.15 450.21L395.42 450.41L396.69 450.72L397.95 451.16L399.22 451.82L400.48 452.76L401.75 454.12L403.02 456.02L404.28 458.61L405.55 462L406.82 466.21L408.08 471.13L409.35 476.45L410.61 481.79L411.88 486.72L413.15 490.96L414.41 494.38L415.68 496.99" fill="none" stroke="#1b12a8" stroke-width="1.15" stroke-linejoin="round"/>
<line x1="310.6" y1="430.1" x2="310.6" y2="503.75" stroke="#000" stroke-width="1"/>
<line x1="310.1" y1="503.3" x2="427.2" y2="503.3" stroke="#000" stroke-width="1"/>
<line x1="307.6" y1="503.3" x2="310.6" y2="503.3" stroke="#000" stroke-width="0.9"/>
<text x="305" y="506.1" font-size="7.8" text-anchor="end" stroke="#1a1a1a" stroke-width="0.15">0</text>
<line x1="307.6" y1="478.98" x2="310.6" y2="478.98" stroke="#000" stroke-width="0.9"/>
<text x="305" y="481.78" font-size="7.8" text-anchor="end" stroke="#1a1a1a" stroke-width="0.15">50</text>
<line x1="307.6" y1="454.66" x2="310.6" y2="454.66" stroke="#000" stroke-width="0.9"/>
<text x="305" y="457.46" font-size="7.8" text-anchor="end" stroke="#1a1a1a" stroke-width="0.15">100</text>
<line x1="307.6" y1="430.34" x2="310.6" y2="430.34" stroke="#000" stroke-width="0.9"/>
<text x="305" y="433.14" font-size="7.8" text-anchor="end" stroke="#1a1a1a" stroke-width="0.15">150</text>
<line x1="310.6" y1="503.3" x2="310.6" y2="506.3" stroke="#000" stroke-width="0.9"/>
<text transform="translate(308.9 515.8) scale(0.97 1)" font-size="8.1" text-anchor="middle" stroke="#1a1a1a" stroke-width="0.15">−11</text>
<line x1="327.2" y1="503.3" x2="327.2" y2="506.3" stroke="#000" stroke-width="0.9"/>
<text transform="translate(325.5 515.8) scale(0.97 1)" font-size="8.1" text-anchor="middle" stroke="#1a1a1a" stroke-width="0.15">−10</text>
<line x1="343.8" y1="503.3" x2="343.8" y2="506.3" stroke="#000" stroke-width="0.9"/>
<text transform="translate(342.1 515.8) scale(0.97 1)" font-size="8.1" text-anchor="middle" stroke="#1a1a1a" stroke-width="0.15">−9</text>
<line x1="360.4" y1="503.3" x2="360.4" y2="506.3" stroke="#000" stroke-width="0.9"/>
<text transform="translate(358.7 515.8) scale(0.97 1)" font-size="8.1" text-anchor="middle" stroke="#1a1a1a" stroke-width="0.15">−8</text>
<line x1="377" y1="503.3" x2="377" y2="506.3" stroke="#000" stroke-width="0.9"/>
<text transform="translate(375.3 515.8) scale(0.97 1)" font-size="8.1" text-anchor="middle" stroke="#1a1a1a" stroke-width="0.15">−7</text>
<line x1="393.6" y1="503.3" x2="393.6" y2="506.3" stroke="#000" stroke-width="0.9"/>
<text transform="translate(391.9 515.8) scale(0.97 1)" font-size="8.1" text-anchor="middle" stroke="#1a1a1a" stroke-width="0.15">−6</text>
<line x1="410.2" y1="503.3" x2="410.2" y2="506.3" stroke="#000" stroke-width="0.9"/>
<text transform="translate(408.5 515.8) scale(0.97 1)" font-size="8.1" text-anchor="middle" stroke="#1a1a1a" stroke-width="0.15">−5</text>
<line x1="426.8" y1="503.3" x2="426.8" y2="506.3" stroke="#000" stroke-width="0.9"/>
<text transform="translate(425.1 515.8) scale(0.97 1)" font-size="8.1" text-anchor="middle" stroke="#1a1a1a" stroke-width="0.15">−4</text>
<text transform="translate(369.3 418.3) scale(0.98 1)" font-size="8.2" text-anchor="middle" fill="#000" font-weight="bold" stroke="#000" stroke-width="0.2">Ibrutinib</text>
<text transform="translate(284.9 467) rotate(-90) scale(0.8 1)" font-size="9.2" text-anchor="middle" stroke="#1a1a1a" stroke-width="0.1">RLUs (DMSO norm)</text>
<text transform="translate(369.2 528.7) scale(0.77 1)" font-size="9.6" text-anchor="middle" stroke="#1a1a1a" stroke-width="0.1">Log10 (Dose) (M)</text>
<line x1="427.4" y1="431.2" x2="433.8" y2="431.2" stroke="#d2121e" stroke-width="0.9"/>
<circle cx="430.6" cy="431.2" r="1.35" fill="#d2121e"/>
<text x="436.3" y="434" font-size="7.7">BCWM.1</text>
<line x1="427.4" y1="439.9" x2="433.8" y2="439.9" stroke="#ff7f0a" stroke-width="0.9"/>
<circle cx="430.6" cy="439.9" r="1.35" fill="#ff7f0a"/>
<text x="436.3" y="442.7" font-size="7.7">MWCL-1</text>
<line x1="427.4" y1="448.8" x2="433.8" y2="448.8" stroke="#8fd44e" stroke-width="0.9"/>
<circle cx="430.6" cy="448.8" r="1.35" fill="#8fd44e"/>
<text x="436.3" y="451.6" font-size="7.7">TMD- 8</text>
<line x1="427.4" y1="457.5" x2="433.8" y2="457.5" stroke="#12681c" stroke-width="0.9"/>
<circle cx="430.6" cy="457.5" r="1.35" fill="#12681c"/>
<text x="436.3" y="460.3" font-size="7.7">HBL-1</text>
<line x1="427.4" y1="466.3" x2="433.8" y2="466.3" stroke="#35c9fa" stroke-width="0.9"/>
<circle cx="430.6" cy="466.3" r="1.35" fill="#35c9fa"/>
<text x="436.3" y="469.1" font-size="7.7">OCI-Ly7</text>
<line x1="427.4" y1="475.2" x2="433.8" y2="475.2" stroke="#1b12a8" stroke-width="0.9"/>
<circle cx="430.6" cy="475.2" r="1.35" fill="#1b12a8"/>
<text x="436.3" y="478" font-size="7.7">OCI-Ly19</text>
<line x1="427.4" y1="483.6" x2="433.8" y2="483.6" stroke="#0a35c0" stroke-width="0.9"/>
<circle cx="430.6" cy="483.6" r="1.35" fill="#0a35c0"/>
<text x="436.3" y="486.4" font-size="7.7">Ramos</text>
<line x1="427.4" y1="492.5" x2="433.8" y2="492.5" stroke="#2fee12" stroke-width="0.9"/>
<circle cx="430.6" cy="492.5" r="1.35" fill="#2fee12"/>
<text x="436.3" y="495.3" font-size="7.7">RPMI-8226</text>
<path d="M478.1 428.7H481.3V459.2H478.1M481.3 443.95H482.9" fill="none" stroke="#cf1f2e" stroke-width="0.95"/>
<path d="M478.1 465H481.3V494.7H478.1M481.3 479.85H482.9" fill="none" stroke="#1f4fc0" stroke-width="0.95"/>
<text x="486.8" y="440.5" font-size="7.8" fill="#cf1f2e">MYD88</text>
<text x="486.8" y="450.3" font-size="7.8" fill="#cf1f2e">L265P</text>
<text x="486.8" y="478.2" font-size="7.8" fill="#1f4fc0">MYD88</text>
<text x="486.8" y="486.8" font-size="7.8" fill="#1f4fc0">WT</text>
</g>
<g id="panelE">
<text x="7.9" y="549.6" font-size="10.6" fill="#000" font-weight="bold">E</text>
<circle cx="68.2" cy="620" r="1.35" fill="none" stroke="#0f6a1a" stroke-width="1.3"/>
<circle cx="71" cy="620.8" r="1.35" fill="none" stroke="#0f6a1a" stroke-width="1.3"/>
<circle cx="73.8" cy="620" r="1.35" fill="none" stroke="#0f6a1a" stroke-width="1.3"/>
<circle cx="76.6" cy="620.8" r="1.35" fill="none" stroke="#0f6a1a" stroke-width="1.3"/>
<line x1="67.2" y1="621.9" x2="77.6" y2="621.9" stroke="#0f6a1a" stroke-width="1.2"/>
<path d="M78.4 623.7C80.2 623.1 81.2 619 84.4 619C87.6 619 88.6 623.1 90.4 623.7Z" fill="#0b35b8"/>
<line x1="96.4" y1="597.9" x2="96.4" y2="599.8" stroke="#c9101e" stroke-width="1"/>
<line x1="96.4" y1="604.2" x2="96.4" y2="605.2" stroke="#c9101e" stroke-width="1"/>
<line x1="94.4" y1="597.9" x2="98.4" y2="597.9" stroke="#c9101e" stroke-width="1"/>
<line x1="94.4" y1="605.2" x2="98.4" y2="605.2" stroke="#c9101e" stroke-width="1"/>
<rect x="92.1" y="600" width="8.6" height="4" rx="0.9" fill="#fff" stroke="#c9101e" stroke-width="1.6"/>
<line x1="91.9" y1="602" x2="100.9" y2="602" stroke="#c9101e" stroke-width="1"/>
<rect x="92.76" y="598.74" width="2.2" height="2.2" fill="none" stroke="#c9101e" stroke-width="0.7"/>
<rect x="98.67" y="603.08" width="2.2" height="2.2" fill="none" stroke="#c9101e" stroke-width="0.7"/>
<line x1="108.4" y1="610.4" x2="108.4" y2="613.8" stroke="#35c9fa" stroke-width="1"/>
<line x1="108.4" y1="619" x2="108.4" y2="621" stroke="#35c9fa" stroke-width="1"/>
<line x1="106.4" y1="610.4" x2="110.4" y2="610.4" stroke="#35c9fa" stroke-width="1"/>
<line x1="106.4" y1="621" x2="110.4" y2="621" stroke="#35c9fa" stroke-width="1"/>
<rect x="104.3" y="614" width="8.2" height="4.8" rx="0.9" fill="#fff" stroke="#35c9fa" stroke-width="1.6"/>
<line x1="104.1" y1="616.4" x2="112.7" y2="616.4" stroke="#35c9fa" stroke-width="1"/>
<rect x="104.81" y="612.75" width="2.2" height="2.2" fill="none" stroke="#35c9fa" stroke-width="0.7"/>
<rect x="109.25" y="617.91" width="2.2" height="2.2" fill="none" stroke="#35c9fa" stroke-width="0.7"/>
<line x1="129.5" y1="614.7" x2="129.5" y2="617.4" stroke="#0f6a1a" stroke-width="1"/>
<line x1="129.5" y1="621.4" x2="129.5" y2="622.4" stroke="#0f6a1a" stroke-width="1"/>
<line x1="127.5" y1="614.7" x2="131.5" y2="614.7" stroke="#0f6a1a" stroke-width="1"/>
<line x1="127.5" y1="622.4" x2="131.5" y2="622.4" stroke="#0f6a1a" stroke-width="1"/>
<rect x="125.2" y="617.6" width="8.6" height="3.6" rx="0.9" fill="#fff" stroke="#0f6a1a" stroke-width="1.6"/>
<line x1="125" y1="619.4" x2="134" y2="619.4" stroke="#0f6a1a" stroke-width="1"/>
<circle cx="126.65" cy="617.58" r="1.15" fill="none" stroke="#0f6a1a" stroke-width="0.7"/>
<circle cx="131.41" cy="621.28" r="1.15" fill="none" stroke="#0f6a1a" stroke-width="0.7"/>
<path d="M135.5 623.7C137.3 623.1 138.3 619 141.5 619C144.7 619 145.7 623.1 147.5 623.7Z" fill="#0b35b8"/>
<line x1="153.5" y1="584.8" x2="153.5" y2="590.2" stroke="#c9101e" stroke-width="1"/>
<line x1="153.5" y1="597.7" x2="153.5" y2="599" stroke="#c9101e" stroke-width="1"/>
<line x1="151.5" y1="584.8" x2="155.5" y2="584.8" stroke="#c9101e" stroke-width="1"/>
<line x1="151.5" y1="599" x2="155.5" y2="599" stroke="#c9101e" stroke-width="1"/>
<rect x="149.2" y="590.4" width="8.6" height="7.1" rx="0.9" fill="#fff" stroke="#c9101e" stroke-width="1.6"/>
<line x1="149" y1="593.95" x2="158" y2="593.95" stroke="#c9101e" stroke-width="1"/>
<rect x="150.49" y="589.29" width="2.2" height="2.2" fill="none" stroke="#c9101e" stroke-width="0.7"/>
<rect x="155.36" y="596.33" width="2.2" height="2.2" fill="none" stroke="#c9101e" stroke-width="0.7"/>
<line x1="165.5" y1="610.6" x2="165.5" y2="613" stroke="#35c9fa" stroke-width="1"/>
<line x1="165.5" y1="617.9" x2="165.5" y2="620.6" stroke="#35c9fa" stroke-width="1"/>
<line x1="163.5" y1="610.6" x2="167.5" y2="610.6" stroke="#35c9fa" stroke-width="1"/>
<line x1="163.5" y1="620.6" x2="167.5" y2="620.6" stroke="#35c9fa" stroke-width="1"/>
<rect x="161.4" y="613.2" width="8.2" height="4.5" rx="0.9" fill="#fff" stroke="#35c9fa" stroke-width="1.6"/>
<line x1="161.2" y1="615.45" x2="169.8" y2="615.45" stroke="#35c9fa" stroke-width="1"/>
<rect x="161.13" y="612.18" width="2.2" height="2.2" fill="none" stroke="#35c9fa" stroke-width="0.7"/>
<rect x="167.13" y="616.87" width="2.2" height="2.2" fill="none" stroke="#35c9fa" stroke-width="0.7"/>
<text transform="translate(153.4 581.2) scale(0.94 1)" font-size="8" text-anchor="middle" fill="#c9101e" font-weight="bold">*</text>
<line x1="186.2" y1="614.2" x2="186.2" y2="615.2" stroke="#0f6a1a" stroke-width="1"/>
<line x1="186.2" y1="621.4" x2="186.2" y2="622.2" stroke="#0f6a1a" stroke-width="1"/>
<line x1="184.2" y1="614.2" x2="188.2" y2="614.2" stroke="#0f6a1a" stroke-width="1"/>
<line x1="184.2" y1="622.2" x2="188.2" y2="622.2" stroke="#0f6a1a" stroke-width="1"/>
<rect x="181.9" y="615.4" width="8.6" height="5.8" rx="0.9" fill="#fff" stroke="#0f6a1a" stroke-width="1.6"/>
<line x1="181.7" y1="618.3" x2="190.7" y2="618.3" stroke="#0f6a1a" stroke-width="1"/>
<circle cx="184.17" cy="614.91" r="1.15" fill="none" stroke="#0f6a1a" stroke-width="0.7"/>
<circle cx="188.87" cy="621.14" r="1.15" fill="none" stroke="#0f6a1a" stroke-width="0.7"/>
<path d="M192.2 623.7C194 623.1 195 619 198.2 619C201.4 619 202.4 623.1 204.2 623.7Z" fill="#0b35b8"/>
<line x1="210.2" y1="590.4" x2="210.2" y2="591.8" stroke="#c9101e" stroke-width="1"/>
<line x1="210.2" y1="597.2" x2="210.2" y2="600.4" stroke="#c9101e" stroke-width="1"/>
<line x1="208.2" y1="590.4" x2="212.2" y2="590.4" stroke="#c9101e" stroke-width="1"/>
<line x1="208.2" y1="600.4" x2="212.2" y2="600.4" stroke="#c9101e" stroke-width="1"/>
<rect x="205.9" y="592" width="8.6" height="5" rx="0.9" fill="#fff" stroke="#c9101e" stroke-width="1.6"/>
<line x1="205.7" y1="594.5" x2="214.7" y2="594.5" stroke="#c9101e" stroke-width="1"/>
<rect x="207.02" y="590.55" width="2.2" height="2.2" fill="none" stroke="#c9101e" stroke-width="0.7"/>
<rect x="210.9" y="596.08" width="2.2" height="2.2" fill="none" stroke="#c9101e" stroke-width="0.7"/>
<line x1="222.2" y1="611.7" x2="222.2" y2="613" stroke="#35c9fa" stroke-width="1"/>
<line x1="222.2" y1="617.9" x2="222.2" y2="619.8" stroke="#35c9fa" stroke-width="1"/>
<line x1="220.2" y1="611.7" x2="224.2" y2="611.7" stroke="#35c9fa" stroke-width="1"/>
<line x1="220.2" y1="619.8" x2="224.2" y2="619.8" stroke="#35c9fa" stroke-width="1"/>
<rect x="218.1" y="613.2" width="8.2" height="4.5" rx="0.9" fill="#fff" stroke="#35c9fa" stroke-width="1.6"/>
<line x1="217.9" y1="615.45" x2="226.5" y2="615.45" stroke="#35c9fa" stroke-width="1"/>
<rect x="218.72" y="612.11" width="2.2" height="2.2" fill="none" stroke="#35c9fa" stroke-width="0.7"/>
<rect x="223.61" y="616.88" width="2.2" height="2.2" fill="none" stroke="#35c9fa" stroke-width="0.7"/>
<line x1="243" y1="611.6" x2="243" y2="612.5" stroke="#0f6a1a" stroke-width="1"/>
<line x1="243" y1="619.8" x2="243" y2="620.8" stroke="#0f6a1a" stroke-width="1"/>
<line x1="241" y1="611.6" x2="245" y2="611.6" stroke="#0f6a1a" stroke-width="1"/>
<line x1="241" y1="620.8" x2="245" y2="620.8" stroke="#0f6a1a" stroke-width="1"/>
<rect x="238.7" y="612.7" width="8.6" height="6.9" rx="0.9" fill="#fff" stroke="#0f6a1a" stroke-width="1.6"/>
<line x1="238.5" y1="616.15" x2="247.5" y2="616.15" stroke="#0f6a1a" stroke-width="1"/>
<circle cx="240.38" cy="612.6" r="1.15" fill="none" stroke="#0f6a1a" stroke-width="0.7"/>
<circle cx="245.55" cy="619.67" r="1.15" fill="none" stroke="#0f6a1a" stroke-width="0.7"/>
<path d="M249 623.7C250.8 623.1 251.8 619 255 619C258.2 619 259.2 623.1 261 623.7Z" fill="#0b35b8"/>
<line x1="267" y1="562.7" x2="267" y2="568.6" stroke="#c9101e" stroke-width="1"/>
<line x1="267" y1="578.3" x2="267" y2="581.5" stroke="#c9101e" stroke-width="1"/>
<line x1="265" y1="562.7" x2="269" y2="562.7" stroke="#c9101e" stroke-width="1"/>
<line x1="265" y1="581.5" x2="269" y2="581.5" stroke="#c9101e" stroke-width="1"/>
<rect x="262.7" y="568.8" width="8.6" height="9.3" rx="0.9" fill="#fff" stroke="#c9101e" stroke-width="1.6"/>
<line x1="262.5" y1="573.45" x2="271.5" y2="573.45" stroke="#c9101e" stroke-width="1"/>
<rect x="262.4" y="567.8" width="2.2" height="2.2" fill="none" stroke="#c9101e" stroke-width="0.7"/>
<rect x="269.12" y="577.32" width="2.2" height="2.2" fill="none" stroke="#c9101e" stroke-width="0.7"/>
<line x1="279" y1="609.8" x2="279" y2="612.5" stroke="#35c9fa" stroke-width="1"/>
<line x1="279" y1="617.4" x2="279" y2="621.4" stroke="#35c9fa" stroke-width="1"/>
<line x1="277" y1="609.8" x2="281" y2="609.8" stroke="#35c9fa" stroke-width="1"/>
<line x1="277" y1="621.4" x2="281" y2="621.4" stroke="#35c9fa" stroke-width="1"/>
<rect x="274.9" y="612.7" width="8.2" height="4.5" rx="0.9" fill="#fff" stroke="#35c9fa" stroke-width="1.6"/>
<line x1="274.7" y1="614.95" x2="283.3" y2="614.95" stroke="#35c9fa" stroke-width="1"/>
<rect x="275.73" y="611.24" width="2.2" height="2.2" fill="none" stroke="#35c9fa" stroke-width="0.7"/>
<rect x="280.03" y="616.04" width="2.2" height="2.2" fill="none" stroke="#35c9fa" stroke-width="0.7"/>
<text transform="translate(267 558.2) scale(0.94 1)" font-size="8" text-anchor="middle" fill="#c9101e" font-weight="bold">****</text>
<line x1="299.6" y1="610.2" x2="299.6" y2="611" stroke="#0f6a1a" stroke-width="1"/>
<line x1="299.6" y1="620.4" x2="299.6" y2="621.2" stroke="#0f6a1a" stroke-width="1"/>
<line x1="297.6" y1="610.2" x2="301.6" y2="610.2" stroke="#0f6a1a" stroke-width="1"/>
<line x1="297.6" y1="621.2" x2="301.6" y2="621.2" stroke="#0f6a1a" stroke-width="1"/>
<rect x="295.3" y="611.2" width="8.6" height="9" rx="0.9" fill="#fff" stroke="#0f6a1a" stroke-width="1.6"/>
<line x1="295.1" y1="615.7" x2="304.1" y2="615.7" stroke="#0f6a1a" stroke-width="1"/>
<circle cx="296.51" cy="610.94" r="1.15" fill="none" stroke="#0f6a1a" stroke-width="0.7"/>
<circle cx="302.83" cy="620.33" r="1.15" fill="none" stroke="#0f6a1a" stroke-width="0.7"/>
<path d="M305.6 623.7C307.4 623.1 308.4 619 311.6 619C314.8 619 315.8 623.1 317.6 623.7Z" fill="#0b35b8"/>
<line x1="323.6" y1="580.8" x2="323.6" y2="582.7" stroke="#c9101e" stroke-width="1"/>
<line x1="323.6" y1="592.9" x2="323.6" y2="593.6" stroke="#c9101e" stroke-width="1"/>
<line x1="321.6" y1="580.8" x2="325.6" y2="580.8" stroke="#c9101e" stroke-width="1"/>
<line x1="321.6" y1="593.6" x2="325.6" y2="593.6" stroke="#c9101e" stroke-width="1"/>
<rect x="319.3" y="582.9" width="8.6" height="9.8" rx="0.9" fill="#fff" stroke="#c9101e" stroke-width="1.6"/>
<line x1="319.1" y1="587.8" x2="328.1" y2="587.8" stroke="#c9101e" stroke-width="1"/>
<rect x="319.07" y="581.81" width="2.2" height="2.2" fill="none" stroke="#c9101e" stroke-width="0.7"/>
<rect x="324.25" y="591.63" width="2.2" height="2.2" fill="none" stroke="#c9101e" stroke-width="0.7"/>
<line x1="335.6" y1="609.6" x2="335.6" y2="612.3" stroke="#35c9fa" stroke-width="1"/>
<line x1="335.6" y1="618.2" x2="335.6" y2="621.2" stroke="#35c9fa" stroke-width="1"/>
<line x1="333.6" y1="609.6" x2="337.6" y2="609.6" stroke="#35c9fa" stroke-width="1"/>
<line x1="333.6" y1="621.2" x2="337.6" y2="621.2" stroke="#35c9fa" stroke-width="1"/>
<rect x="331.5" y="612.5" width="8.2" height="5.5" rx="0.9" fill="#fff" stroke="#35c9fa" stroke-width="1.6"/>
<line x1="331.3" y1="615.25" x2="339.9" y2="615.25" stroke="#35c9fa" stroke-width="1"/>
<rect x="331.35" y="611.18" width="2.2" height="2.2" fill="none" stroke="#35c9fa" stroke-width="0.7"/>
<rect x="337.77" y="617.04" width="2.2" height="2.2" fill="none" stroke="#35c9fa" stroke-width="0.7"/>
<text transform="translate(324 577.2) scale(0.94 1)" font-size="8" text-anchor="middle" fill="#c9101e" font-weight="bold">****</text>
<line x1="62.3" y1="553.5" x2="62.3" y2="623.75" stroke="#000" stroke-width="1"/>
<line x1="61.8" y1="623.3" x2="346" y2="623.3" stroke="#000" stroke-width="1"/>
<line x1="59.3" y1="623.3" x2="62.3" y2="623.3" stroke="#000" stroke-width="0.9"/>
<text x="56.7" y="626.1" font-size="7.8" text-anchor="end" stroke="#1a1a1a" stroke-width="0.15">0</text>
<line x1="59.3" y1="609.44" x2="62.3" y2="609.44" stroke="#000" stroke-width="0.9"/>
<text x="56.7" y="612.24" font-size="7.8" text-anchor="end" stroke="#1a1a1a" stroke-width="0.15">10</text>
<line x1="59.3" y1="595.58" x2="62.3" y2="595.58" stroke="#000" stroke-width="0.9"/>
<text x="56.7" y="598.38" font-size="7.8" text-anchor="end" stroke="#1a1a1a" stroke-width="0.15">20</text>
<line x1="59.3" y1="581.72" x2="62.3" y2="581.72" stroke="#000" stroke-width="0.9"/>
<text x="56.7" y="584.52" font-size="7.8" text-anchor="end" stroke="#1a1a1a" stroke-width="0.15">30</text>
<line x1="59.3" y1="567.86" x2="62.3" y2="567.86" stroke="#000" stroke-width="0.9"/>
<text x="56.7" y="570.66" font-size="7.8" text-anchor="end" stroke="#1a1a1a" stroke-width="0.15">40</text>
<line x1="59.3" y1="554" x2="62.3" y2="554" stroke="#000" stroke-width="0.9"/>
<text x="56.7" y="556.8" font-size="7.8" text-anchor="end" stroke="#1a1a1a" stroke-width="0.15">50</text>
<line x1="90.4" y1="623.3" x2="90.4" y2="627.1" stroke="#000" stroke-width="1.15"/>
<text transform="translate(90.4 636) scale(1 1)" font-size="7.8" text-anchor="middle">DMSO</text>
<line x1="147.5" y1="623.3" x2="147.5" y2="627.1" stroke="#000" stroke-width="1.15"/>
<text transform="translate(147.5 636) scale(1.07 1)" font-size="7.8" text-anchor="middle">Ibrutinib</text>
<text transform="translate(147.8 645.6) scale(1.04 1)" font-size="7.8" text-anchor="middle">0.5µM</text>
<line x1="204.2" y1="623.3" x2="204.2" y2="627.1" stroke="#000" stroke-width="1.15"/>
<text transform="translate(204.2 636) scale(1.07 1)" font-size="7.8" text-anchor="middle">Ibrutinib</text>
<text transform="translate(204.5 645.6) scale(1.04 1)" font-size="7.8" text-anchor="middle">0.1µM</text>
<line x1="261" y1="623.3" x2="261" y2="627.1" stroke="#000" stroke-width="1.15"/>
<text transform="translate(261 636) scale(1 1)" font-size="7.8" text-anchor="middle">KIN-8194</text>
<text transform="translate(261.3 645.6) scale(1.04 1)" font-size="7.8" text-anchor="middle">0.5µM</text>
<line x1="317.6" y1="623.3" x2="317.6" y2="627.1" stroke="#000" stroke-width="1.15"/>
<text transform="translate(317.6 636) scale(1 1)" font-size="7.8" text-anchor="middle">KIN-8194</text>
<text transform="translate(317.9 645.6) scale(1.04 1)" font-size="7.8" text-anchor="middle">0.1µM</text>
<text transform="translate(41.5 588.5) rotate(-90) scale(0.79 1)" font-size="9.4" text-anchor="middle" stroke="#1a1a1a" stroke-width="0.1">Apoptotic cells (%)</text>
<rect x="359.3" y="555.55" width="3.7" height="3.7" fill="#fff" stroke="#0f6a1a" stroke-width="1.4"/>
<text x="366.2" y="560.1" font-size="7.5" stroke="#1a1a1a" stroke-width="0.12">HD B-cells</text>
<rect x="359.3" y="569.55" width="3.7" height="3.7" fill="#fff" stroke="#0b35b8" stroke-width="1.4"/>
<text x="366.2" y="574.1" font-size="7.5" stroke="#1a1a1a" stroke-width="0.12">HD T-cells</text>
<rect x="359.3" y="583.55" width="3.7" height="3.7" fill="#fff" stroke="#c9101e" stroke-width="1.4"/>
<text x="366.2" y="588.1" font-size="7.5" stroke="#1a1a1a" stroke-width="0.12">WM LPCs</text>
<rect x="359.3" y="597.05" width="3.7" height="3.7" fill="#fff" stroke="#35c9fa" stroke-width="1.4"/>
<text x="366.2" y="601.6" font-size="7.5" stroke="#1a1a1a" stroke-width="0.12">WM T-cells</text>
</g>
<path d="M0.65 0.65H519.3V653.35H0.65Z" fill="none" stroke="#000" stroke-width="1.3"/>
</svg>
</body>
</html>
